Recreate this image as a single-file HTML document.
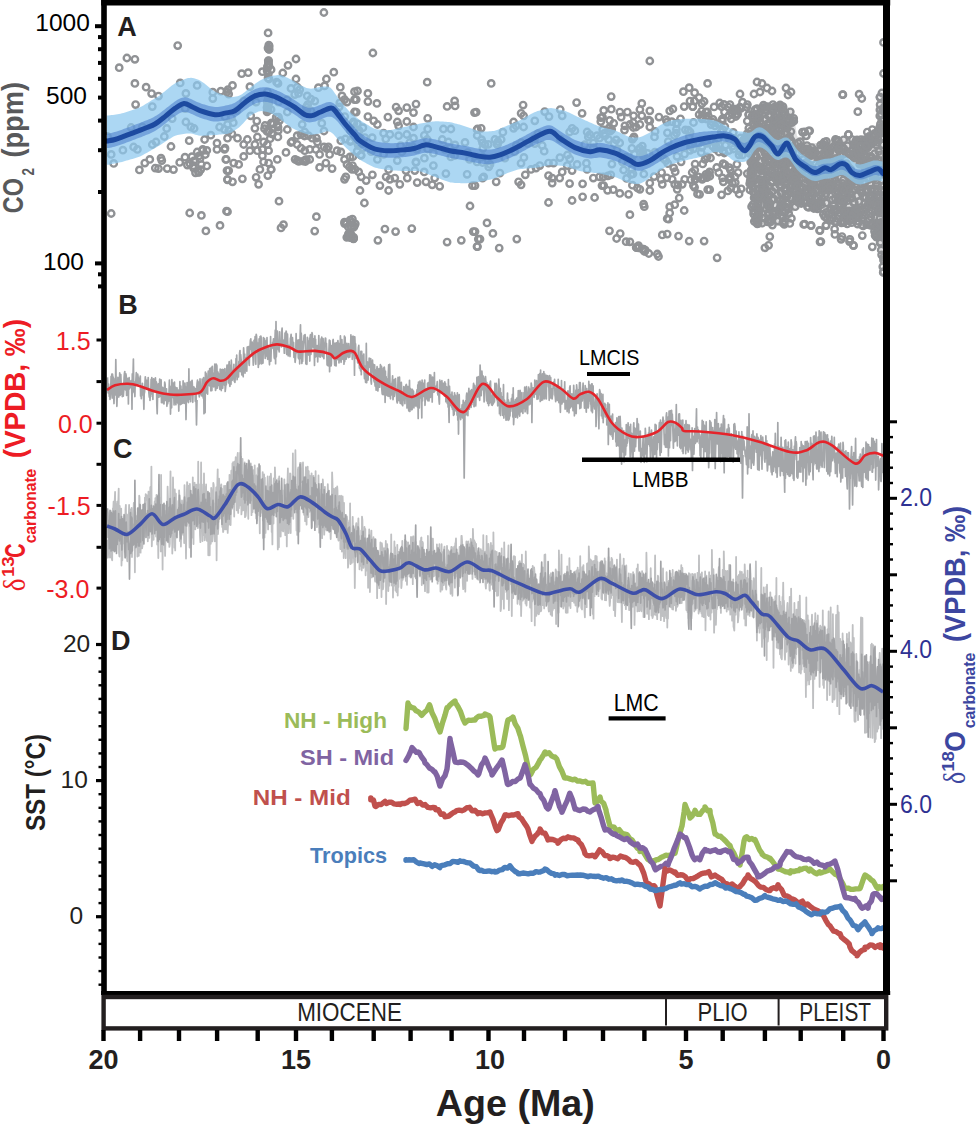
<!DOCTYPE html><html><head><meta charset="utf-8"><style>html,body{margin:0;padding:0;background:#fff;overflow:hidden}</style></head><body><svg width="976" height="1124" viewBox="0 0 976 1124" style="display:block;font-family:'Liberation Sans', sans-serif">
<rect width="976" height="1124" fill="#fff"/>
<path d="M753,108 L758,104 L768,103 L778,104 L786,106 L793,110 L797,136 L805,143 L818,143 L830,140 L840,138 L850,138 L862,136 L870,136 L875,131 L879,118 L880,92 L885,92 L885,273 L883,273 L879,248 L874,232 L862,226 L850,224 L838,224 L828,222 L820,212 L811,208 L800,205 L793,212 L790,224 L778,226 L764,226 L753,224 L750,190 L748,150 Z" fill="#9a9b9e" fill-opacity="0.3"/>
<g fill="none" stroke="#909295" stroke-width="2.4">
<circle cx="177.7" cy="45.6" r="3.2"/>
<circle cx="126.9" cy="58.0" r="3.2"/>
<circle cx="134.9" cy="59.3" r="3.2"/>
<circle cx="119.2" cy="67.7" r="3.2"/>
<circle cx="134.9" cy="83.4" r="3.2"/>
<circle cx="146.1" cy="87.2" r="3.2"/>
<circle cx="151.6" cy="93.6" r="3.2"/>
<circle cx="158.5" cy="96.1" r="3.2"/>
<circle cx="180.2" cy="82.9" r="3.2"/>
<circle cx="197.1" cy="85.4" r="3.2"/>
<circle cx="185.9" cy="93.4" r="3.2"/>
<circle cx="212.8" cy="92.2" r="3.2"/>
<circle cx="220.8" cy="91.2" r="3.2"/>
<circle cx="227.0" cy="92.2" r="3.2"/>
<circle cx="212.8" cy="98.6" r="3.2"/>
<circle cx="135.6" cy="104.6" r="3.2"/>
<circle cx="152.3" cy="106.6" r="3.2"/>
<circle cx="185.2" cy="108.6" r="3.2"/>
<circle cx="172.2" cy="118.6" r="3.2"/>
<circle cx="185.9" cy="122.0" r="3.2"/>
<circle cx="190.9" cy="127.0" r="3.2"/>
<circle cx="194.1" cy="128.5" r="3.2"/>
<circle cx="166.7" cy="128.5" r="3.2"/>
<circle cx="131.1" cy="127.5" r="3.2"/>
<circle cx="142.3" cy="127.0" r="3.2"/>
<circle cx="219.6" cy="127.0" r="3.2"/>
<circle cx="224.5" cy="129.5" r="3.2"/>
<circle cx="164.3" cy="136.5" r="3.2"/>
<circle cx="156.0" cy="142.0" r="3.2"/>
<circle cx="152.3" cy="144.5" r="3.2"/>
<circle cx="133.6" cy="147.0" r="3.2"/>
<circle cx="137.4" cy="149.4" r="3.2"/>
<circle cx="122.9" cy="150.2" r="3.2"/>
<circle cx="111.2" cy="154.4" r="3.2"/>
<circle cx="113.7" cy="163.4" r="3.2"/>
<circle cx="107.5" cy="136.5" r="3.2"/>
<circle cx="171.0" cy="146.5" r="3.2"/>
<circle cx="189.2" cy="140.7" r="3.2"/>
<circle cx="204.6" cy="139.5" r="3.2"/>
<circle cx="210.8" cy="135.2" r="3.2"/>
<circle cx="217.0" cy="143.2" r="3.2"/>
<circle cx="217.0" cy="149.4" r="3.2"/>
<circle cx="224.5" cy="149.4" r="3.2"/>
<circle cx="161.0" cy="158.2" r="3.2"/>
<circle cx="161.8" cy="160.6" r="3.2"/>
<circle cx="149.8" cy="159.4" r="3.2"/>
<circle cx="144.8" cy="163.1" r="3.2"/>
<circle cx="139.4" cy="169.9" r="3.2"/>
<circle cx="155.3" cy="168.1" r="3.2"/>
<circle cx="158.5" cy="168.6" r="3.2"/>
<circle cx="167.2" cy="168.6" r="3.2"/>
<circle cx="173.5" cy="169.6" r="3.2"/>
<circle cx="179.7" cy="162.4" r="3.2"/>
<circle cx="225.8" cy="159.4" r="3.2"/>
<circle cx="227.0" cy="170.6" r="3.2"/>
<circle cx="227.5" cy="179.8" r="3.2"/>
<circle cx="111.2" cy="213.5" r="3.2"/>
<circle cx="189.7" cy="213.0" r="3.2"/>
<circle cx="201.4" cy="215.4" r="3.2"/>
<circle cx="205.9" cy="230.9" r="3.2"/>
<circle cx="220.0" cy="225.4" r="3.2"/>
<circle cx="226.5" cy="211.2" r="3.2"/>
<circle cx="323.9" cy="12.5" r="3.2"/>
<circle cx="268.1" cy="32.9" r="3.2"/>
<circle cx="262.4" cy="71.7" r="3.2"/>
<circle cx="271.1" cy="69.7" r="3.2"/>
<circle cx="296.0" cy="59.0" r="3.2"/>
<circle cx="288.0" cy="65.3" r="3.2"/>
<circle cx="282.8" cy="73.0" r="3.2"/>
<circle cx="241.7" cy="73.7" r="3.2"/>
<circle cx="248.2" cy="72.7" r="3.2"/>
<circle cx="232.5" cy="85.4" r="3.2"/>
<circle cx="228.0" cy="89.7" r="3.2"/>
<circle cx="228.7" cy="94.1" r="3.2"/>
<circle cx="249.9" cy="86.7" r="3.2"/>
<circle cx="276.6" cy="82.2" r="3.2"/>
<circle cx="278.0" cy="83.4" r="3.2"/>
<circle cx="296.0" cy="79.0" r="3.2"/>
<circle cx="291.0" cy="88.4" r="3.2"/>
<circle cx="297.2" cy="87.2" r="3.2"/>
<circle cx="299.7" cy="89.7" r="3.2"/>
<circle cx="298.5" cy="93.4" r="3.2"/>
<circle cx="294.7" cy="94.6" r="3.2"/>
<circle cx="307.2" cy="95.9" r="3.2"/>
<circle cx="310.9" cy="99.1" r="3.2"/>
<circle cx="318.4" cy="87.7" r="3.2"/>
<circle cx="324.6" cy="85.9" r="3.2"/>
<circle cx="326.4" cy="79.0" r="3.2"/>
<circle cx="333.8" cy="72.2" r="3.2"/>
<circle cx="340.3" cy="87.2" r="3.2"/>
<circle cx="342.0" cy="95.9" r="3.2"/>
<circle cx="344.5" cy="99.6" r="3.2"/>
<circle cx="347.0" cy="102.1" r="3.2"/>
<circle cx="354.5" cy="91.7" r="3.2"/>
<circle cx="354.5" cy="99.6" r="3.2"/>
<circle cx="354.5" cy="112.0" r="3.2"/>
<circle cx="353.3" cy="122.0" r="3.2"/>
<circle cx="243.7" cy="100.9" r="3.2"/>
<circle cx="256.1" cy="102.1" r="3.2"/>
<circle cx="287.3" cy="99.6" r="3.2"/>
<circle cx="267.3" cy="107.1" r="3.2"/>
<circle cx="271.1" cy="109.6" r="3.2"/>
<circle cx="278.5" cy="102.1" r="3.2"/>
<circle cx="287.3" cy="112.0" r="3.2"/>
<circle cx="250.7" cy="115.8" r="3.2"/>
<circle cx="278.5" cy="117.1" r="3.2"/>
<circle cx="307.2" cy="109.6" r="3.2"/>
<circle cx="310.9" cy="110.8" r="3.2"/>
<circle cx="302.2" cy="124.5" r="3.2"/>
<circle cx="225.0" cy="117.0" r="3.2"/>
<circle cx="227.5" cy="124.5" r="3.2"/>
<circle cx="228.7" cy="130.8" r="3.2"/>
<circle cx="254.9" cy="128.3" r="3.2"/>
<circle cx="287.3" cy="129.5" r="3.2"/>
<circle cx="297.2" cy="135.7" r="3.2"/>
<circle cx="301.0" cy="134.5" r="3.2"/>
<circle cx="304.7" cy="132.0" r="3.2"/>
<circle cx="308.4" cy="135.7" r="3.2"/>
<circle cx="312.2" cy="138.2" r="3.2"/>
<circle cx="227.5" cy="138.2" r="3.2"/>
<circle cx="237.5" cy="138.2" r="3.2"/>
<circle cx="247.4" cy="139.5" r="3.2"/>
<circle cx="257.4" cy="137.0" r="3.2"/>
<circle cx="243.7" cy="144.5" r="3.2"/>
<circle cx="254.9" cy="144.5" r="3.2"/>
<circle cx="263.6" cy="142.0" r="3.2"/>
<circle cx="267.3" cy="144.5" r="3.2"/>
<circle cx="291.0" cy="142.5" r="3.2"/>
<circle cx="297.2" cy="144.5" r="3.2"/>
<circle cx="301.0" cy="148.2" r="3.2"/>
<circle cx="304.7" cy="150.7" r="3.2"/>
<circle cx="309.7" cy="149.4" r="3.2"/>
<circle cx="315.9" cy="149.4" r="3.2"/>
<circle cx="319.6" cy="154.4" r="3.2"/>
<circle cx="340.8" cy="140.7" r="3.2"/>
<circle cx="225.0" cy="148.2" r="3.2"/>
<circle cx="249.9" cy="150.7" r="3.2"/>
<circle cx="257.4" cy="150.7" r="3.2"/>
<circle cx="262.4" cy="149.4" r="3.2"/>
<circle cx="268.6" cy="150.7" r="3.2"/>
<circle cx="286.0" cy="152.4" r="3.2"/>
<circle cx="329.6" cy="154.4" r="3.2"/>
<circle cx="337.1" cy="150.7" r="3.2"/>
<circle cx="340.8" cy="151.9" r="3.2"/>
<circle cx="243.7" cy="156.4" r="3.2"/>
<circle cx="226.2" cy="159.4" r="3.2"/>
<circle cx="233.7" cy="163.1" r="3.2"/>
<circle cx="238.7" cy="164.4" r="3.2"/>
<circle cx="262.4" cy="155.7" r="3.2"/>
<circle cx="263.6" cy="161.9" r="3.2"/>
<circle cx="268.6" cy="163.1" r="3.2"/>
<circle cx="271.1" cy="169.4" r="3.2"/>
<circle cx="277.3" cy="159.4" r="3.2"/>
<circle cx="325.9" cy="163.1" r="3.2"/>
<circle cx="319.6" cy="167.4" r="3.2"/>
<circle cx="332.1" cy="168.6" r="3.2"/>
<circle cx="344.5" cy="159.4" r="3.2"/>
<circle cx="347.0" cy="164.4" r="3.2"/>
<circle cx="349.5" cy="166.9" r="3.2"/>
<circle cx="352.0" cy="169.4" r="3.2"/>
<circle cx="228.7" cy="170.6" r="3.2"/>
<circle cx="227.5" cy="179.3" r="3.2"/>
<circle cx="232.5" cy="181.8" r="3.2"/>
<circle cx="259.9" cy="169.4" r="3.2"/>
<circle cx="256.1" cy="177.3" r="3.2"/>
<circle cx="258.6" cy="184.3" r="3.2"/>
<circle cx="267.8" cy="175.6" r="3.2"/>
<circle cx="271.1" cy="169.4" r="3.2"/>
<circle cx="242.4" cy="178.8" r="3.2"/>
<circle cx="344.5" cy="179.3" r="3.2"/>
<circle cx="345.8" cy="176.8" r="3.2"/>
<circle cx="279.0" cy="201.2" r="3.2"/>
<circle cx="227.5" cy="211.7" r="3.2"/>
<circle cx="281.0" cy="227.9" r="3.2"/>
<circle cx="283.5" cy="224.7" r="3.2"/>
<circle cx="316.4" cy="216.7" r="3.2"/>
<circle cx="314.7" cy="231.1" r="3.2"/>
<circle cx="372.9" cy="53.0" r="3.2"/>
<circle cx="427.2" cy="82.2" r="3.2"/>
<circle cx="357.5" cy="90.9" r="3.2"/>
<circle cx="367.9" cy="93.4" r="3.2"/>
<circle cx="356.2" cy="99.6" r="3.2"/>
<circle cx="367.9" cy="101.6" r="3.2"/>
<circle cx="376.9" cy="103.4" r="3.2"/>
<circle cx="396.1" cy="107.1" r="3.2"/>
<circle cx="398.6" cy="110.8" r="3.2"/>
<circle cx="406.8" cy="107.6" r="3.2"/>
<circle cx="416.0" cy="104.1" r="3.2"/>
<circle cx="413.5" cy="112.6" r="3.2"/>
<circle cx="447.1" cy="106.4" r="3.2"/>
<circle cx="454.6" cy="100.9" r="3.2"/>
<circle cx="455.1" cy="105.9" r="3.2"/>
<circle cx="474.5" cy="112.6" r="3.2"/>
<circle cx="356.2" cy="112.1" r="3.2"/>
<circle cx="367.9" cy="116.6" r="3.2"/>
<circle cx="373.7" cy="120.8" r="3.2"/>
<circle cx="377.4" cy="124.5" r="3.2"/>
<circle cx="387.9" cy="117.1" r="3.2"/>
<circle cx="397.3" cy="122.0" r="3.2"/>
<circle cx="398.6" cy="125.8" r="3.2"/>
<circle cx="406.8" cy="121.5" r="3.2"/>
<circle cx="413.5" cy="127.0" r="3.2"/>
<circle cx="427.7" cy="118.3" r="3.2"/>
<circle cx="427.7" cy="129.0" r="3.2"/>
<circle cx="443.4" cy="129.0" r="3.2"/>
<circle cx="450.9" cy="129.0" r="3.2"/>
<circle cx="477.0" cy="129.5" r="3.2"/>
<circle cx="383.6" cy="133.2" r="3.2"/>
<circle cx="389.9" cy="134.5" r="3.2"/>
<circle cx="398.6" cy="135.7" r="3.2"/>
<circle cx="406.8" cy="134.5" r="3.2"/>
<circle cx="413.5" cy="138.2" r="3.2"/>
<circle cx="442.2" cy="139.5" r="3.2"/>
<circle cx="448.4" cy="142.0" r="3.2"/>
<circle cx="427.2" cy="139.5" r="3.2"/>
<circle cx="371.2" cy="149.4" r="3.2"/>
<circle cx="377.4" cy="159.4" r="3.2"/>
<circle cx="383.6" cy="154.4" r="3.2"/>
<circle cx="397.3" cy="160.6" r="3.2"/>
<circle cx="416.0" cy="161.9" r="3.2"/>
<circle cx="433.4" cy="153.2" r="3.2"/>
<circle cx="450.9" cy="156.9" r="3.2"/>
<circle cx="454.6" cy="155.7" r="3.2"/>
<circle cx="469.5" cy="159.4" r="3.2"/>
<circle cx="477.0" cy="161.9" r="3.2"/>
<circle cx="350.0" cy="156.9" r="3.2"/>
<circle cx="352.5" cy="165.6" r="3.2"/>
<circle cx="355.0" cy="169.4" r="3.2"/>
<circle cx="358.7" cy="171.9" r="3.2"/>
<circle cx="361.2" cy="176.8" r="3.2"/>
<circle cx="366.2" cy="180.6" r="3.2"/>
<circle cx="372.4" cy="174.8" r="3.2"/>
<circle cx="388.6" cy="169.4" r="3.2"/>
<circle cx="386.1" cy="176.8" r="3.2"/>
<circle cx="389.9" cy="179.3" r="3.2"/>
<circle cx="394.8" cy="178.1" r="3.2"/>
<circle cx="399.8" cy="184.3" r="3.2"/>
<circle cx="379.9" cy="185.6" r="3.2"/>
<circle cx="406.0" cy="170.6" r="3.2"/>
<circle cx="407.3" cy="178.1" r="3.2"/>
<circle cx="414.8" cy="170.6" r="3.2"/>
<circle cx="416.0" cy="162.4" r="3.2"/>
<circle cx="424.2" cy="171.9" r="3.2"/>
<circle cx="417.2" cy="182.6" r="3.2"/>
<circle cx="426.0" cy="181.8" r="3.2"/>
<circle cx="433.4" cy="165.6" r="3.2"/>
<circle cx="434.7" cy="178.1" r="3.2"/>
<circle cx="432.2" cy="184.8" r="3.2"/>
<circle cx="439.7" cy="186.3" r="3.2"/>
<circle cx="445.9" cy="173.6" r="3.2"/>
<circle cx="467.1" cy="174.3" r="3.2"/>
<circle cx="472.5" cy="185.6" r="3.2"/>
<circle cx="360.0" cy="190.5" r="3.2"/>
<circle cx="364.4" cy="203.0" r="3.2"/>
<circle cx="388.6" cy="190.5" r="3.2"/>
<circle cx="470.0" cy="206.0" r="3.2"/>
<circle cx="384.9" cy="229.1" r="3.2"/>
<circle cx="395.6" cy="231.6" r="3.2"/>
<circle cx="377.9" cy="240.3" r="3.2"/>
<circle cx="411.8" cy="228.6" r="3.2"/>
<circle cx="447.1" cy="242.1" r="3.2"/>
<circle cx="461.3" cy="240.3" r="3.2"/>
<circle cx="473.3" cy="231.6" r="3.2"/>
<circle cx="477.0" cy="246.6" r="3.2"/>
<circle cx="478.3" cy="239.1" r="3.2"/>
<circle cx="491.2" cy="83.4" r="3.2"/>
<circle cx="523.1" cy="105.1" r="3.2"/>
<circle cx="521.1" cy="113.3" r="3.2"/>
<circle cx="523.6" cy="115.8" r="3.2"/>
<circle cx="476.2" cy="112.1" r="3.2"/>
<circle cx="477.5" cy="129.0" r="3.2"/>
<circle cx="481.2" cy="128.3" r="3.2"/>
<circle cx="513.6" cy="122.0" r="3.2"/>
<circle cx="513.6" cy="128.3" r="3.2"/>
<circle cx="516.1" cy="125.8" r="3.2"/>
<circle cx="523.6" cy="127.0" r="3.2"/>
<circle cx="534.8" cy="120.8" r="3.2"/>
<circle cx="544.7" cy="111.6" r="3.2"/>
<circle cx="549.0" cy="116.6" r="3.2"/>
<circle cx="560.2" cy="109.6" r="3.2"/>
<circle cx="562.2" cy="115.8" r="3.2"/>
<circle cx="576.6" cy="102.6" r="3.2"/>
<circle cx="582.1" cy="113.3" r="3.2"/>
<circle cx="600.8" cy="117.6" r="3.2"/>
<circle cx="572.1" cy="128.3" r="3.2"/>
<circle cx="569.6" cy="132.0" r="3.2"/>
<circle cx="587.1" cy="132.0" r="3.2"/>
<circle cx="588.3" cy="137.0" r="3.2"/>
<circle cx="597.0" cy="135.7" r="3.2"/>
<circle cx="599.5" cy="138.2" r="3.2"/>
<circle cx="485.0" cy="144.5" r="3.2"/>
<circle cx="494.9" cy="139.5" r="3.2"/>
<circle cx="501.2" cy="139.5" r="3.2"/>
<circle cx="497.4" cy="144.5" r="3.2"/>
<circle cx="504.9" cy="158.2" r="3.2"/>
<circle cx="482.5" cy="157.0" r="3.2"/>
<circle cx="490.0" cy="164.4" r="3.2"/>
<circle cx="488.7" cy="166.9" r="3.2"/>
<circle cx="548.5" cy="163.1" r="3.2"/>
<circle cx="553.5" cy="163.1" r="3.2"/>
<circle cx="539.8" cy="165.6" r="3.2"/>
<circle cx="536.0" cy="168.1" r="3.2"/>
<circle cx="531.0" cy="169.4" r="3.2"/>
<circle cx="567.2" cy="165.6" r="3.2"/>
<circle cx="572.1" cy="170.6" r="3.2"/>
<circle cx="577.1" cy="164.4" r="3.2"/>
<circle cx="587.1" cy="169.4" r="3.2"/>
<circle cx="593.3" cy="178.1" r="3.2"/>
<circle cx="599.5" cy="176.8" r="3.2"/>
<circle cx="602.0" cy="185.6" r="3.2"/>
<circle cx="483.7" cy="176.8" r="3.2"/>
<circle cx="482.5" cy="178.1" r="3.2"/>
<circle cx="496.2" cy="181.8" r="3.2"/>
<circle cx="499.9" cy="173.1" r="3.2"/>
<circle cx="518.6" cy="181.8" r="3.2"/>
<circle cx="521.1" cy="184.8" r="3.2"/>
<circle cx="525.3" cy="174.8" r="3.2"/>
<circle cx="548.5" cy="175.6" r="3.2"/>
<circle cx="552.2" cy="178.1" r="3.2"/>
<circle cx="552.2" cy="183.1" r="3.2"/>
<circle cx="559.7" cy="178.1" r="3.2"/>
<circle cx="562.2" cy="171.9" r="3.2"/>
<circle cx="569.6" cy="183.6" r="3.2"/>
<circle cx="582.6" cy="183.8" r="3.2"/>
<circle cx="475.0" cy="185.6" r="3.2"/>
<circle cx="548.5" cy="202.5" r="3.2"/>
<circle cx="572.1" cy="200.5" r="3.2"/>
<circle cx="582.6" cy="196.8" r="3.2"/>
<circle cx="594.6" cy="197.5" r="3.2"/>
<circle cx="487.0" cy="222.9" r="3.2"/>
<circle cx="475.0" cy="231.6" r="3.2"/>
<circle cx="480.0" cy="239.1" r="3.2"/>
<circle cx="477.5" cy="246.6" r="3.2"/>
<circle cx="492.9" cy="233.4" r="3.2"/>
<circle cx="499.2" cy="248.1" r="3.2"/>
<circle cx="516.8" cy="239.1" r="3.2"/>
<circle cx="649.8" cy="61.0" r="3.2"/>
<circle cx="611.2" cy="96.6" r="3.2"/>
<circle cx="707.6" cy="83.4" r="3.2"/>
<circle cx="683.4" cy="91.7" r="3.2"/>
<circle cx="689.2" cy="87.7" r="3.2"/>
<circle cx="694.6" cy="92.7" r="3.2"/>
<circle cx="699.1" cy="97.6" r="3.2"/>
<circle cx="641.8" cy="103.4" r="3.2"/>
<circle cx="639.9" cy="109.6" r="3.2"/>
<circle cx="641.8" cy="115.8" r="3.2"/>
<circle cx="649.8" cy="110.8" r="3.2"/>
<circle cx="619.9" cy="112.1" r="3.2"/>
<circle cx="627.4" cy="112.1" r="3.2"/>
<circle cx="621.2" cy="117.1" r="3.2"/>
<circle cx="602.5" cy="117.1" r="3.2"/>
<circle cx="633.6" cy="115.8" r="3.2"/>
<circle cx="659.0" cy="117.1" r="3.2"/>
<circle cx="669.7" cy="110.8" r="3.2"/>
<circle cx="666.0" cy="119.6" r="3.2"/>
<circle cx="684.2" cy="106.6" r="3.2"/>
<circle cx="692.7" cy="106.6" r="3.2"/>
<circle cx="699.1" cy="114.6" r="3.2"/>
<circle cx="705.9" cy="112.1" r="3.2"/>
<circle cx="708.3" cy="115.8" r="3.2"/>
<circle cx="721.5" cy="106.6" r="3.2"/>
<circle cx="724.5" cy="112.1" r="3.2"/>
<circle cx="728.3" cy="107.1" r="3.2"/>
<circle cx="613.7" cy="123.3" r="3.2"/>
<circle cx="624.9" cy="125.8" r="3.2"/>
<circle cx="629.9" cy="124.5" r="3.2"/>
<circle cx="636.1" cy="127.0" r="3.2"/>
<circle cx="639.9" cy="124.5" r="3.2"/>
<circle cx="649.8" cy="120.8" r="3.2"/>
<circle cx="649.8" cy="127.0" r="3.2"/>
<circle cx="603.7" cy="185.6" r="3.2"/>
<circle cx="628.6" cy="194.3" r="3.2"/>
<circle cx="637.4" cy="188.0" r="3.2"/>
<circle cx="639.9" cy="189.3" r="3.2"/>
<circle cx="649.8" cy="190.5" r="3.2"/>
<circle cx="649.8" cy="183.1" r="3.2"/>
<circle cx="661.0" cy="179.3" r="3.2"/>
<circle cx="662.3" cy="184.3" r="3.2"/>
<circle cx="672.2" cy="179.3" r="3.2"/>
<circle cx="674.7" cy="184.3" r="3.2"/>
<circle cx="677.2" cy="189.3" r="3.2"/>
<circle cx="679.2" cy="198.0" r="3.2"/>
<circle cx="682.2" cy="184.3" r="3.2"/>
<circle cx="684.7" cy="179.3" r="3.2"/>
<circle cx="693.4" cy="185.6" r="3.2"/>
<circle cx="699.6" cy="194.3" r="3.2"/>
<circle cx="705.9" cy="174.3" r="3.2"/>
<circle cx="698.4" cy="176.8" r="3.2"/>
<circle cx="723.3" cy="181.8" r="3.2"/>
<circle cx="729.5" cy="179.3" r="3.2"/>
<circle cx="643.6" cy="204.2" r="3.2"/>
<circle cx="644.3" cy="206.7" r="3.2"/>
<circle cx="629.9" cy="214.7" r="3.2"/>
<circle cx="669.7" cy="206.7" r="3.2"/>
<circle cx="674.7" cy="204.7" r="3.2"/>
<circle cx="669.7" cy="213.0" r="3.2"/>
<circle cx="668.5" cy="219.2" r="3.2"/>
<circle cx="667.2" cy="218.7" r="3.2"/>
<circle cx="684.2" cy="210.5" r="3.2"/>
<circle cx="657.3" cy="254.0" r="3.2"/>
<circle cx="658.5" cy="256.5" r="3.2"/>
<circle cx="662.3" cy="234.9" r="3.2"/>
<circle cx="667.2" cy="234.1" r="3.2"/>
<circle cx="678.5" cy="236.1" r="3.2"/>
<circle cx="689.2" cy="241.1" r="3.2"/>
<circle cx="704.1" cy="241.1" r="3.2"/>
<circle cx="717.1" cy="257.8" r="3.2"/>
<circle cx="740.0" cy="94.0" r="3.2"/>
<circle cx="757.0" cy="82.0" r="3.2"/>
<circle cx="762.0" cy="83.5" r="3.2"/>
<circle cx="767.0" cy="88.0" r="3.2"/>
<circle cx="772.0" cy="91.0" r="3.2"/>
<circle cx="760.0" cy="92.0" r="3.2"/>
<circle cx="754.0" cy="94.0" r="3.2"/>
<circle cx="786.0" cy="88.0" r="3.2"/>
<circle cx="788.0" cy="95.0" r="3.2"/>
<circle cx="791.0" cy="92.0" r="3.2"/>
<circle cx="842.6" cy="94.6" r="3.2"/>
<circle cx="804.7" cy="132.0" r="3.2"/>
<circle cx="809.7" cy="130.8" r="3.2"/>
<circle cx="806.0" cy="135.7" r="3.2"/>
<circle cx="848.3" cy="134.5" r="3.2"/>
<circle cx="730.0" cy="104.6" r="3.2"/>
<circle cx="740.0" cy="107.1" r="3.2"/>
<circle cx="747.4" cy="104.6" r="3.2"/>
<circle cx="764.9" cy="247.8" r="3.2"/>
<circle cx="768.6" cy="245.3" r="3.2"/>
<circle cx="769.8" cy="236.6" r="3.2"/>
<circle cx="820.9" cy="241.6" r="3.2"/>
<circle cx="804.7" cy="224.2" r="3.2"/>
<circle cx="810.9" cy="225.4" r="3.2"/>
<circle cx="819.6" cy="230.4" r="3.2"/>
<circle cx="825.9" cy="225.4" r="3.2"/>
<circle cx="834.6" cy="229.1" r="3.2"/>
<circle cx="842.0" cy="236.6" r="3.2"/>
<circle cx="849.5" cy="241.6" r="3.2"/>
<circle cx="853.3" cy="245.3" r="3.2"/>
<circle cx="741.2" cy="188.8" r="3.2"/>
<circle cx="749.9" cy="189.8" r="3.2"/>
<circle cx="754.9" cy="193.0" r="3.2"/>
<circle cx="728.7" cy="179.3" r="3.2"/>
<circle cx="732.5" cy="183.1" r="3.2"/>
<circle cx="735.0" cy="176.8" r="3.2"/>
<circle cx="842.9" cy="94.7" r="3.2"/>
<circle cx="859.1" cy="94.2" r="3.2"/>
<circle cx="861.8" cy="98.5" r="3.2"/>
<circle cx="857.8" cy="111.7" r="3.2"/>
<circle cx="883.5" cy="42.4" r="3.2"/>
<circle cx="883.5" cy="73.5" r="3.2"/>
<circle cx="879.8" cy="115.9" r="3.2"/>
<circle cx="802.5" cy="132.1" r="3.2"/>
<circle cx="808.7" cy="130.9" r="3.2"/>
<circle cx="806.2" cy="135.9" r="3.2"/>
<circle cx="848.6" cy="134.6" r="3.2"/>
<circle cx="852.4" cy="139.6" r="3.2"/>
<circle cx="853.6" cy="144.6" r="3.2"/>
<circle cx="861.0" cy="139.6" r="3.2"/>
<circle cx="867.3" cy="132.1" r="3.2"/>
<circle cx="872.3" cy="129.6" r="3.2"/>
<circle cx="872.3" cy="135.9" r="3.2"/>
<circle cx="866.0" cy="139.6" r="3.2"/>
<circle cx="858.6" cy="149.6" r="3.2"/>
<circle cx="803.7" cy="224.4" r="3.2"/>
<circle cx="811.2" cy="225.6" r="3.2"/>
<circle cx="820.0" cy="230.6" r="3.2"/>
<circle cx="826.2" cy="225.6" r="3.2"/>
<circle cx="820.0" cy="241.8" r="3.2"/>
<circle cx="834.9" cy="234.4" r="3.2"/>
<circle cx="841.1" cy="239.3" r="3.2"/>
<circle cx="849.9" cy="239.3" r="3.2"/>
<circle cx="853.6" cy="245.6" r="3.2"/>
<circle cx="862.3" cy="235.6" r="3.2"/>
<circle cx="872.3" cy="246.8" r="3.2"/>
<circle cx="829.9" cy="219.4" r="3.2"/>
<circle cx="834.9" cy="211.9" r="3.2"/>
<circle cx="269.0" cy="99.1" r="3.2"/>
<circle cx="268.3" cy="64.1" r="3.2"/>
<circle cx="267.1" cy="70.7" r="3.2"/>
<circle cx="268.0" cy="48.0" r="3.2"/>
<circle cx="267.1" cy="111.9" r="3.2"/>
<circle cx="268.6" cy="60.7" r="3.2"/>
<circle cx="268.1" cy="110.3" r="3.2"/>
<circle cx="269.2" cy="101.6" r="3.2"/>
<circle cx="268.0" cy="78.0" r="3.2"/>
<circle cx="268.7" cy="49.1" r="3.2"/>
<circle cx="268.4" cy="63.2" r="3.2"/>
<circle cx="269.2" cy="49.3" r="3.2"/>
<circle cx="268.7" cy="103.3" r="3.2"/>
<circle cx="267.6" cy="105.0" r="3.2"/>
<circle cx="269.2" cy="46.2" r="3.2"/>
<circle cx="268.8" cy="45.1" r="3.2"/>
<circle cx="268.3" cy="74.3" r="3.2"/>
<circle cx="267.5" cy="66.8" r="3.2"/>
<circle cx="269.0" cy="66.2" r="3.2"/>
<circle cx="267.4" cy="91.8" r="3.2"/>
<circle cx="268.1" cy="98.5" r="3.2"/>
<circle cx="267.6" cy="66.4" r="3.2"/>
<circle cx="269.0" cy="79.0" r="3.2"/>
<circle cx="268.3" cy="60.8" r="3.2"/>
<circle cx="267.0" cy="107.5" r="3.2"/>
<circle cx="267.2" cy="101.6" r="3.2"/>
<circle cx="267.9" cy="108.7" r="3.2"/>
<circle cx="268.0" cy="107.7" r="3.2"/>
<circle cx="197.2" cy="152.0" r="3.2"/>
<circle cx="201.3" cy="164.6" r="3.2"/>
<circle cx="200.1" cy="158.5" r="3.2"/>
<circle cx="189.9" cy="163.6" r="3.2"/>
<circle cx="187.4" cy="165.1" r="3.2"/>
<circle cx="199.0" cy="155.9" r="3.2"/>
<circle cx="202.6" cy="150.6" r="3.2"/>
<circle cx="193.6" cy="168.1" r="3.2"/>
<circle cx="193.4" cy="165.7" r="3.2"/>
<circle cx="198.5" cy="172.3" r="3.2"/>
<circle cx="206.8" cy="166.0" r="3.2"/>
<circle cx="202.8" cy="149.4" r="3.2"/>
<circle cx="200.7" cy="169.6" r="3.2"/>
<circle cx="193.8" cy="161.0" r="3.2"/>
<circle cx="195.5" cy="172.8" r="3.2"/>
<circle cx="192.0" cy="156.7" r="3.2"/>
<circle cx="185.0" cy="157.2" r="3.2"/>
<circle cx="198.9" cy="172.1" r="3.2"/>
<circle cx="205.3" cy="154.5" r="3.2"/>
<circle cx="206.8" cy="150.4" r="3.2"/>
<circle cx="277.3" cy="124.8" r="3.2"/>
<circle cx="271.1" cy="123.3" r="3.2"/>
<circle cx="277.9" cy="136.9" r="3.2"/>
<circle cx="267.1" cy="131.5" r="3.2"/>
<circle cx="268.9" cy="130.9" r="3.2"/>
<circle cx="273.3" cy="123.9" r="3.2"/>
<circle cx="278.0" cy="127.0" r="3.2"/>
<circle cx="271.7" cy="123.0" r="3.2"/>
<circle cx="265.0" cy="125.5" r="3.2"/>
<circle cx="270.1" cy="138.7" r="3.2"/>
<circle cx="278.3" cy="130.6" r="3.2"/>
<circle cx="271.8" cy="134.0" r="3.2"/>
<circle cx="354.3" cy="226.1" r="3.2"/>
<circle cx="353.5" cy="227.4" r="3.2"/>
<circle cx="351.1" cy="234.5" r="3.2"/>
<circle cx="350.0" cy="233.5" r="3.2"/>
<circle cx="352.4" cy="219.1" r="3.2"/>
<circle cx="344.5" cy="222.1" r="3.2"/>
<circle cx="346.6" cy="223.3" r="3.2"/>
<circle cx="344.6" cy="223.6" r="3.2"/>
<circle cx="351.2" cy="237.6" r="3.2"/>
<circle cx="348.2" cy="226.7" r="3.2"/>
<circle cx="349.0" cy="233.3" r="3.2"/>
<circle cx="353.4" cy="238.8" r="3.2"/>
<circle cx="348.5" cy="233.8" r="3.2"/>
<circle cx="348.1" cy="236.3" r="3.2"/>
<circle cx="346.8" cy="237.3" r="3.2"/>
<circle cx="350.1" cy="234.2" r="3.2"/>
<circle cx="358.0" cy="133.1" r="3.2"/>
<circle cx="357.4" cy="123.8" r="3.2"/>
<circle cx="350.6" cy="140.5" r="3.2"/>
<circle cx="357.2" cy="151.2" r="3.2"/>
<circle cx="350.3" cy="141.5" r="3.2"/>
<circle cx="357.4" cy="142.9" r="3.2"/>
<circle cx="360.9" cy="140.4" r="3.2"/>
<circle cx="358.4" cy="139.2" r="3.2"/>
<circle cx="359.2" cy="130.7" r="3.2"/>
<circle cx="358.3" cy="145.5" r="3.2"/>
<circle cx="352.9" cy="156.7" r="3.2"/>
<circle cx="361.2" cy="155.4" r="3.2"/>
<circle cx="354.4" cy="137.5" r="3.2"/>
<circle cx="353.9" cy="123.6" r="3.2"/>
<circle cx="350.3" cy="130.6" r="3.2"/>
<circle cx="362.9" cy="127.7" r="3.2"/>
<circle cx="305.7" cy="159.7" r="3.2"/>
<circle cx="295.1" cy="159.3" r="3.2"/>
<circle cx="305.5" cy="161.5" r="3.2"/>
<circle cx="303.3" cy="161.2" r="3.2"/>
<circle cx="298.7" cy="161.4" r="3.2"/>
<circle cx="309.7" cy="159.4" r="3.2"/>
<circle cx="306.5" cy="159.8" r="3.2"/>
<circle cx="297.3" cy="160.3" r="3.2"/>
<circle cx="350.6" cy="237.7" r="3.2"/>
<circle cx="352.2" cy="222.5" r="3.2"/>
<circle cx="350.0" cy="220.2" r="3.2"/>
<circle cx="351.3" cy="227.4" r="3.2"/>
<circle cx="353.6" cy="238.6" r="3.2"/>
<circle cx="355.3" cy="223.8" r="3.2"/>
<circle cx="353.7" cy="237.4" r="3.2"/>
<circle cx="350.6" cy="236.1" r="3.2"/>
<circle cx="523.9" cy="157.4" r="3.2"/>
<circle cx="514.6" cy="151.9" r="3.2"/>
<circle cx="537.9" cy="133.7" r="3.2"/>
<circle cx="569.7" cy="158.8" r="3.2"/>
<circle cx="534.9" cy="143.6" r="3.2"/>
<circle cx="593.4" cy="143.1" r="3.2"/>
<circle cx="584.8" cy="144.7" r="3.2"/>
<circle cx="521.1" cy="142.6" r="3.2"/>
<circle cx="481.6" cy="139.7" r="3.2"/>
<circle cx="502.9" cy="132.2" r="3.2"/>
<circle cx="542.2" cy="145.5" r="3.2"/>
<circle cx="477.2" cy="135.5" r="3.2"/>
<circle cx="589.8" cy="134.7" r="3.2"/>
<circle cx="521.0" cy="163.3" r="3.2"/>
<circle cx="488.3" cy="144.3" r="3.2"/>
<circle cx="574.9" cy="130.7" r="3.2"/>
<circle cx="482.5" cy="162.5" r="3.2"/>
<circle cx="560.2" cy="139.1" r="3.2"/>
<circle cx="534.5" cy="138.7" r="3.2"/>
<circle cx="586.4" cy="163.2" r="3.2"/>
<circle cx="482.9" cy="148.3" r="3.2"/>
<circle cx="497.2" cy="144.2" r="3.2"/>
<circle cx="567.4" cy="155.0" r="3.2"/>
<circle cx="497.9" cy="141.6" r="3.2"/>
<circle cx="527.6" cy="143.5" r="3.2"/>
<circle cx="559.9" cy="157.6" r="3.2"/>
<circle cx="516.3" cy="145.4" r="3.2"/>
<circle cx="482.5" cy="142.8" r="3.2"/>
<circle cx="593.3" cy="147.6" r="3.2"/>
<circle cx="544.2" cy="151.2" r="3.2"/>
<circle cx="673.7" cy="167.9" r="3.2"/>
<circle cx="633.7" cy="137.6" r="3.2"/>
<circle cx="715.3" cy="149.0" r="3.2"/>
<circle cx="724.8" cy="126.6" r="3.2"/>
<circle cx="701.8" cy="147.3" r="3.2"/>
<circle cx="661.6" cy="172.6" r="3.2"/>
<circle cx="617.0" cy="149.9" r="3.2"/>
<circle cx="632.4" cy="139.3" r="3.2"/>
<circle cx="706.3" cy="142.7" r="3.2"/>
<circle cx="702.0" cy="118.8" r="3.2"/>
<circle cx="729.9" cy="177.2" r="3.2"/>
<circle cx="688.2" cy="130.2" r="3.2"/>
<circle cx="685.4" cy="129.8" r="3.2"/>
<circle cx="648.5" cy="120.2" r="3.2"/>
<circle cx="609.1" cy="127.8" r="3.2"/>
<circle cx="623.6" cy="170.0" r="3.2"/>
<circle cx="631.7" cy="169.2" r="3.2"/>
<circle cx="600.8" cy="121.6" r="3.2"/>
<circle cx="607.9" cy="175.8" r="3.2"/>
<circle cx="706.2" cy="119.0" r="3.2"/>
<circle cx="721.1" cy="132.0" r="3.2"/>
<circle cx="634.4" cy="154.2" r="3.2"/>
<circle cx="626.6" cy="178.4" r="3.2"/>
<circle cx="647.6" cy="153.4" r="3.2"/>
<circle cx="674.4" cy="135.5" r="3.2"/>
<circle cx="695.5" cy="179.5" r="3.2"/>
<circle cx="677.4" cy="123.2" r="3.2"/>
<circle cx="705.0" cy="159.3" r="3.2"/>
<circle cx="663.7" cy="158.6" r="3.2"/>
<circle cx="634.0" cy="136.8" r="3.2"/>
<circle cx="667.0" cy="122.2" r="3.2"/>
<circle cx="676.4" cy="129.3" r="3.2"/>
<circle cx="633.0" cy="173.8" r="3.2"/>
<circle cx="676.4" cy="133.1" r="3.2"/>
<circle cx="690.9" cy="179.8" r="3.2"/>
<circle cx="716.7" cy="167.5" r="3.2"/>
<circle cx="643.2" cy="154.2" r="3.2"/>
<circle cx="676.0" cy="123.5" r="3.2"/>
<circle cx="690.0" cy="150.3" r="3.2"/>
<circle cx="667.9" cy="163.7" r="3.2"/>
<circle cx="610.1" cy="131.2" r="3.2"/>
<circle cx="728.4" cy="136.6" r="3.2"/>
<circle cx="633.2" cy="122.5" r="3.2"/>
<circle cx="640.6" cy="152.8" r="3.2"/>
<circle cx="605.1" cy="135.9" r="3.2"/>
<circle cx="633.3" cy="127.5" r="3.2"/>
<circle cx="702.9" cy="177.7" r="3.2"/>
<circle cx="719.0" cy="145.3" r="3.2"/>
<circle cx="608.6" cy="139.6" r="3.2"/>
<circle cx="668.2" cy="141.6" r="3.2"/>
<circle cx="695.1" cy="164.1" r="3.2"/>
<circle cx="716.6" cy="147.1" r="3.2"/>
<circle cx="631.0" cy="174.5" r="3.2"/>
<circle cx="715.0" cy="125.9" r="3.2"/>
<circle cx="627.5" cy="158.9" r="3.2"/>
<circle cx="706.7" cy="177.5" r="3.2"/>
<circle cx="602.7" cy="129.7" r="3.2"/>
<circle cx="655.0" cy="152.2" r="3.2"/>
<circle cx="701.2" cy="152.5" r="3.2"/>
<circle cx="667.4" cy="132.8" r="3.2"/>
<circle cx="684.5" cy="154.1" r="3.2"/>
<circle cx="722.9" cy="129.8" r="3.2"/>
<circle cx="616.2" cy="139.9" r="3.2"/>
<circle cx="642.3" cy="146.1" r="3.2"/>
<circle cx="622.3" cy="161.8" r="3.2"/>
<circle cx="706.9" cy="118.4" r="3.2"/>
<circle cx="718.3" cy="123.6" r="3.2"/>
<circle cx="639.8" cy="148.2" r="3.2"/>
<circle cx="655.1" cy="131.4" r="3.2"/>
<circle cx="694.8" cy="170.0" r="3.2"/>
<circle cx="728.8" cy="115.7" r="3.2"/>
<circle cx="737.6" cy="114.1" r="3.2"/>
<circle cx="750.2" cy="180.9" r="3.2"/>
<circle cx="747.0" cy="139.1" r="3.2"/>
<circle cx="745.6" cy="137.2" r="3.2"/>
<circle cx="735.7" cy="110.1" r="3.2"/>
<circle cx="723.1" cy="163.7" r="3.2"/>
<circle cx="727.8" cy="190.9" r="3.2"/>
<circle cx="739.0" cy="154.8" r="3.2"/>
<circle cx="748.8" cy="128.3" r="3.2"/>
<circle cx="722.3" cy="120.9" r="3.2"/>
<circle cx="735.7" cy="114.4" r="3.2"/>
<circle cx="730.4" cy="170.1" r="3.2"/>
<circle cx="733.3" cy="132.4" r="3.2"/>
<circle cx="729.0" cy="150.5" r="3.2"/>
<circle cx="751.9" cy="116.1" r="3.2"/>
<circle cx="747.3" cy="173.6" r="3.2"/>
<circle cx="740.0" cy="151.6" r="3.2"/>
<circle cx="737.6" cy="109.8" r="3.2"/>
<circle cx="739.1" cy="194.0" r="3.2"/>
<circle cx="743.9" cy="144.3" r="3.2"/>
<circle cx="735.3" cy="182.6" r="3.2"/>
<circle cx="722.2" cy="119.0" r="3.2"/>
<circle cx="750.7" cy="162.1" r="3.2"/>
<circle cx="746.8" cy="150.7" r="3.2"/>
<circle cx="723.2" cy="150.9" r="3.2"/>
<circle cx="740.9" cy="108.4" r="3.2"/>
<circle cx="736.4" cy="189.6" r="3.2"/>
<circle cx="723.9" cy="104.4" r="3.2"/>
<circle cx="725.1" cy="164.8" r="3.2"/>
<circle cx="748.8" cy="114.8" r="3.2"/>
<circle cx="747.3" cy="121.1" r="3.2"/>
<circle cx="738.1" cy="172.6" r="3.2"/>
<circle cx="725.5" cy="145.3" r="3.2"/>
<circle cx="748.0" cy="133.7" r="3.2"/>
<circle cx="745.9" cy="143.2" r="3.2"/>
<circle cx="750.3" cy="138.1" r="3.2"/>
<circle cx="746.7" cy="107.2" r="3.2"/>
<circle cx="732.2" cy="113.8" r="3.2"/>
<circle cx="734.1" cy="138.5" r="3.2"/>
<circle cx="729.2" cy="139.8" r="3.2"/>
<circle cx="742.4" cy="154.9" r="3.2"/>
<circle cx="729.3" cy="167.6" r="3.2"/>
<circle cx="743.3" cy="140.1" r="3.2"/>
<circle cx="735.8" cy="116.5" r="3.2"/>
<circle cx="747.0" cy="133.9" r="3.2"/>
<circle cx="730.8" cy="188.2" r="3.2"/>
<circle cx="731.2" cy="118.8" r="3.2"/>
<circle cx="733.5" cy="149.0" r="3.2"/>
<circle cx="740.4" cy="137.9" r="3.2"/>
<circle cx="742.5" cy="102.2" r="3.2"/>
<circle cx="749.8" cy="143.8" r="3.2"/>
<circle cx="735.5" cy="142.4" r="3.2"/>
<circle cx="730.3" cy="177.4" r="3.2"/>
<circle cx="735.6" cy="109.1" r="3.2"/>
<circle cx="732.5" cy="146.1" r="3.2"/>
<circle cx="732.8" cy="109.7" r="3.2"/>
<circle cx="748.7" cy="114.3" r="3.2"/>
<circle cx="743.9" cy="140.3" r="3.2"/>
<circle cx="736.9" cy="164.3" r="3.2"/>
<circle cx="690.6" cy="146.5" r="3.2"/>
<circle cx="706.1" cy="140.7" r="3.2"/>
<circle cx="690.0" cy="101.1" r="3.2"/>
<circle cx="707.1" cy="143.3" r="3.2"/>
<circle cx="701.7" cy="111.1" r="3.2"/>
<circle cx="702.7" cy="163.9" r="3.2"/>
<circle cx="718.7" cy="172.6" r="3.2"/>
<circle cx="690.1" cy="132.2" r="3.2"/>
<circle cx="707.1" cy="177.4" r="3.2"/>
<circle cx="709.8" cy="176.2" r="3.2"/>
<circle cx="714.1" cy="106.9" r="3.2"/>
<circle cx="724.3" cy="153.0" r="3.2"/>
<circle cx="711.1" cy="124.6" r="3.2"/>
<circle cx="721.6" cy="194.8" r="3.2"/>
<circle cx="702.0" cy="146.5" r="3.2"/>
<circle cx="692.2" cy="172.5" r="3.2"/>
<circle cx="712.5" cy="122.2" r="3.2"/>
<circle cx="719.0" cy="152.0" r="3.2"/>
<circle cx="722.5" cy="177.9" r="3.2"/>
<circle cx="693.5" cy="122.5" r="3.2"/>
<circle cx="719.7" cy="103.0" r="3.2"/>
<circle cx="694.6" cy="187.3" r="3.2"/>
<circle cx="718.4" cy="124.2" r="3.2"/>
<circle cx="701.9" cy="103.6" r="3.2"/>
<circle cx="694.4" cy="101.1" r="3.2"/>
<circle cx="710.5" cy="158.0" r="3.2"/>
<circle cx="695.0" cy="179.2" r="3.2"/>
<circle cx="707.1" cy="156.9" r="3.2"/>
<circle cx="713.2" cy="119.5" r="3.2"/>
<circle cx="718.1" cy="139.0" r="3.2"/>
<circle cx="707.4" cy="112.0" r="3.2"/>
<circle cx="698.9" cy="143.3" r="3.2"/>
<circle cx="715.4" cy="143.5" r="3.2"/>
<circle cx="709.6" cy="171.9" r="3.2"/>
<circle cx="704.1" cy="101.5" r="3.2"/>
<circle cx="709.7" cy="189.7" r="3.2"/>
<circle cx="691.3" cy="144.0" r="3.2"/>
<circle cx="712.9" cy="146.5" r="3.2"/>
<circle cx="693.6" cy="148.8" r="3.2"/>
<circle cx="692.8" cy="106.7" r="3.2"/>
<circle cx="701.8" cy="116.8" r="3.2"/>
<circle cx="707.7" cy="189.7" r="3.2"/>
<circle cx="697.5" cy="193.9" r="3.2"/>
<circle cx="702.2" cy="179.4" r="3.2"/>
<circle cx="708.3" cy="174.2" r="3.2"/>
<circle cx="677.9" cy="185.0" r="3.2"/>
<circle cx="613.3" cy="189.7" r="3.2"/>
<circle cx="610.8" cy="174.8" r="3.2"/>
<circle cx="604.1" cy="133.5" r="3.2"/>
<circle cx="611.9" cy="164.1" r="3.2"/>
<circle cx="628.3" cy="158.8" r="3.2"/>
<circle cx="619.7" cy="142.9" r="3.2"/>
<circle cx="681.1" cy="161.8" r="3.2"/>
<circle cx="643.8" cy="174.0" r="3.2"/>
<circle cx="689.3" cy="136.7" r="3.2"/>
<circle cx="609.9" cy="127.9" r="3.2"/>
<circle cx="614.1" cy="143.5" r="3.2"/>
<circle cx="666.8" cy="177.8" r="3.2"/>
<circle cx="609.7" cy="120.4" r="3.2"/>
<circle cx="632.4" cy="185.2" r="3.2"/>
<circle cx="643.5" cy="156.2" r="3.2"/>
<circle cx="626.2" cy="157.2" r="3.2"/>
<circle cx="654.5" cy="136.9" r="3.2"/>
<circle cx="654.1" cy="176.6" r="3.2"/>
<circle cx="631.9" cy="148.3" r="3.2"/>
<circle cx="611.7" cy="129.6" r="3.2"/>
<circle cx="603.7" cy="110.4" r="3.2"/>
<circle cx="607.6" cy="190.3" r="3.2"/>
<circle cx="665.9" cy="160.6" r="3.2"/>
<circle cx="671.8" cy="121.7" r="3.2"/>
<circle cx="631.7" cy="160.3" r="3.2"/>
<circle cx="677.0" cy="156.3" r="3.2"/>
<circle cx="611.3" cy="109.2" r="3.2"/>
<circle cx="603.2" cy="176.8" r="3.2"/>
<circle cx="680.5" cy="118.8" r="3.2"/>
<circle cx="672.9" cy="109.0" r="3.2"/>
<circle cx="675.2" cy="171.7" r="3.2"/>
<circle cx="642.6" cy="150.3" r="3.2"/>
<circle cx="619.8" cy="193.4" r="3.2"/>
<circle cx="624.5" cy="130.1" r="3.2"/>
<circle cx="444.8" cy="149.4" r="3.2"/>
<circle cx="416.8" cy="149.3" r="3.2"/>
<circle cx="372.2" cy="137.7" r="3.2"/>
<circle cx="467.7" cy="152.6" r="3.2"/>
<circle cx="427.6" cy="149.0" r="3.2"/>
<circle cx="385.8" cy="138.9" r="3.2"/>
<circle cx="424.3" cy="135.3" r="3.2"/>
<circle cx="363.0" cy="143.6" r="3.2"/>
<circle cx="424.4" cy="158.2" r="3.2"/>
<circle cx="409.8" cy="142.6" r="3.2"/>
<circle cx="465.0" cy="142.4" r="3.2"/>
<circle cx="412.9" cy="146.9" r="3.2"/>
<circle cx="364.8" cy="137.6" r="3.2"/>
<circle cx="360.9" cy="154.9" r="3.2"/>
<circle cx="401.8" cy="152.0" r="3.2"/>
<circle cx="409.1" cy="147.4" r="3.2"/>
<circle cx="455.0" cy="144.9" r="3.2"/>
<circle cx="371.2" cy="151.7" r="3.2"/>
<circle cx="363.2" cy="147.9" r="3.2"/>
<circle cx="400.6" cy="145.7" r="3.2"/>
<circle cx="317.4" cy="142.0" r="3.2"/>
<circle cx="345.5" cy="139.0" r="3.2"/>
<circle cx="328.4" cy="146.8" r="3.2"/>
<circle cx="276.2" cy="117.2" r="3.2"/>
<circle cx="233.3" cy="122.7" r="3.2"/>
<circle cx="236.8" cy="110.7" r="3.2"/>
<circle cx="279.5" cy="120.6" r="3.2"/>
<circle cx="321.8" cy="123.2" r="3.2"/>
<circle cx="314.8" cy="101.1" r="3.2"/>
<circle cx="316.5" cy="138.1" r="3.2"/>
<circle cx="231.5" cy="117.5" r="3.2"/>
<circle cx="306.4" cy="106.9" r="3.2"/>
<circle cx="326.7" cy="148.6" r="3.2"/>
<circle cx="324.0" cy="131.0" r="3.2"/>
<circle cx="324.0" cy="146.9" r="3.2"/>
<circle cx="344.7" cy="116.6" r="3.2"/>
<circle cx="307.7" cy="104.7" r="3.2"/>
<circle cx="339.8" cy="102.9" r="3.2"/>
<circle cx="264.5" cy="128.7" r="3.2"/>
<circle cx="256.8" cy="121.1" r="3.2"/>
<circle cx="272.1" cy="133.3" r="3.2"/>
<circle cx="292.1" cy="141.5" r="3.2"/>
<circle cx="304.5" cy="136.0" r="3.2"/>
<circle cx="231.9" cy="133.8" r="3.2"/>
<circle cx="339.2" cy="106.8" r="3.2"/>
<circle cx="638.5" cy="245.7" r="3.2"/>
<circle cx="629.9" cy="241.8" r="3.2"/>
<circle cx="644.1" cy="250.7" r="3.2"/>
<circle cx="638.6" cy="247.8" r="3.2"/>
<circle cx="644.7" cy="251.1" r="3.2"/>
<circle cx="643.6" cy="249.2" r="3.2"/>
<circle cx="626.1" cy="241.7" r="3.2"/>
<circle cx="648.8" cy="253.5" r="3.2"/>
<circle cx="645.3" cy="250.1" r="3.2"/>
<circle cx="642.4" cy="249.2" r="3.2"/>
<circle cx="620.2" cy="233.6" r="3.2"/>
<circle cx="636.6" cy="247.7" r="3.2"/>
<circle cx="644.7" cy="251.3" r="3.2"/>
<circle cx="636.2" cy="247.3" r="3.2"/>
<circle cx="616.6" cy="238.5" r="3.2"/>
<circle cx="609.5" cy="230.8" r="3.2"/>
<circle cx="752.9" cy="204.6" r="3.2"/>
<circle cx="768.5" cy="115.8" r="3.2"/>
<circle cx="812.2" cy="175.2" r="3.2"/>
<circle cx="758.2" cy="204.6" r="3.2"/>
<circle cx="865.7" cy="148.7" r="3.2"/>
<circle cx="809.4" cy="149.9" r="3.2"/>
<circle cx="870.0" cy="202.5" r="3.2"/>
<circle cx="791.5" cy="142.7" r="3.2"/>
<circle cx="798.1" cy="166.3" r="3.2"/>
<circle cx="856.8" cy="195.8" r="3.2"/>
<circle cx="871.9" cy="210.5" r="3.2"/>
<circle cx="793.6" cy="161.8" r="3.2"/>
<circle cx="850.2" cy="182.3" r="3.2"/>
<circle cx="827.6" cy="159.5" r="3.2"/>
<circle cx="879.9" cy="109.9" r="3.2"/>
<circle cx="751.7" cy="181.4" r="3.2"/>
<circle cx="814.6" cy="184.2" r="3.2"/>
<circle cx="858.1" cy="178.5" r="3.2"/>
<circle cx="769.3" cy="162.2" r="3.2"/>
<circle cx="837.1" cy="209.2" r="3.2"/>
<circle cx="757.2" cy="136.1" r="3.2"/>
<circle cx="844.0" cy="186.3" r="3.2"/>
<circle cx="881.4" cy="168.6" r="3.2"/>
<circle cx="859.6" cy="155.4" r="3.2"/>
<circle cx="754.8" cy="177.8" r="3.2"/>
<circle cx="812.9" cy="184.8" r="3.2"/>
<circle cx="881.5" cy="233.8" r="3.2"/>
<circle cx="882.2" cy="180.4" r="3.2"/>
<circle cx="785.8" cy="206.8" r="3.2"/>
<circle cx="849.3" cy="172.8" r="3.2"/>
<circle cx="753.6" cy="211.0" r="3.2"/>
<circle cx="865.3" cy="208.9" r="3.2"/>
<circle cx="754.3" cy="119.0" r="3.2"/>
<circle cx="817.6" cy="208.9" r="3.2"/>
<circle cx="880.4" cy="124.2" r="3.2"/>
<circle cx="763.0" cy="129.0" r="3.2"/>
<circle cx="854.3" cy="202.3" r="3.2"/>
<circle cx="846.0" cy="212.5" r="3.2"/>
<circle cx="782.6" cy="212.0" r="3.2"/>
<circle cx="765.7" cy="146.9" r="3.2"/>
<circle cx="755.6" cy="149.2" r="3.2"/>
<circle cx="830.3" cy="178.8" r="3.2"/>
<circle cx="835.5" cy="144.7" r="3.2"/>
<circle cx="820.6" cy="202.8" r="3.2"/>
<circle cx="859.7" cy="156.7" r="3.2"/>
<circle cx="849.4" cy="176.3" r="3.2"/>
<circle cx="843.8" cy="196.4" r="3.2"/>
<circle cx="827.7" cy="158.4" r="3.2"/>
<circle cx="861.4" cy="159.8" r="3.2"/>
<circle cx="749.4" cy="143.8" r="3.2"/>
<circle cx="878.0" cy="211.6" r="3.2"/>
<circle cx="757.8" cy="117.0" r="3.2"/>
<circle cx="828.8" cy="190.0" r="3.2"/>
<circle cx="764.9" cy="153.2" r="3.2"/>
<circle cx="775.8" cy="178.3" r="3.2"/>
<circle cx="841.4" cy="147.5" r="3.2"/>
<circle cx="803.0" cy="187.5" r="3.2"/>
<circle cx="781.4" cy="134.4" r="3.2"/>
<circle cx="876.1" cy="180.3" r="3.2"/>
<circle cx="797.7" cy="163.8" r="3.2"/>
<circle cx="876.5" cy="196.4" r="3.2"/>
<circle cx="871.2" cy="139.6" r="3.2"/>
<circle cx="755.8" cy="155.4" r="3.2"/>
<circle cx="869.4" cy="219.7" r="3.2"/>
<circle cx="861.9" cy="218.0" r="3.2"/>
<circle cx="868.9" cy="179.5" r="3.2"/>
<circle cx="871.4" cy="162.1" r="3.2"/>
<circle cx="766.1" cy="150.5" r="3.2"/>
<circle cx="856.2" cy="147.0" r="3.2"/>
<circle cx="787.9" cy="194.4" r="3.2"/>
<circle cx="780.8" cy="169.3" r="3.2"/>
<circle cx="788.4" cy="162.2" r="3.2"/>
<circle cx="860.8" cy="151.8" r="3.2"/>
<circle cx="789.4" cy="136.5" r="3.2"/>
<circle cx="851.9" cy="198.1" r="3.2"/>
<circle cx="768.2" cy="212.7" r="3.2"/>
<circle cx="874.7" cy="133.4" r="3.2"/>
<circle cx="820.7" cy="160.5" r="3.2"/>
<circle cx="856.6" cy="143.8" r="3.2"/>
<circle cx="783.0" cy="158.5" r="3.2"/>
<circle cx="788.0" cy="153.5" r="3.2"/>
<circle cx="792.7" cy="178.0" r="3.2"/>
<circle cx="751.6" cy="206.7" r="3.2"/>
<circle cx="822.2" cy="198.6" r="3.2"/>
<circle cx="782.8" cy="200.1" r="3.2"/>
<circle cx="871.3" cy="156.9" r="3.2"/>
<circle cx="824.1" cy="165.0" r="3.2"/>
<circle cx="795.2" cy="206.7" r="3.2"/>
<circle cx="790.0" cy="187.5" r="3.2"/>
<circle cx="825.5" cy="182.0" r="3.2"/>
<circle cx="880.0" cy="97.1" r="3.2"/>
<circle cx="866.8" cy="148.5" r="3.2"/>
<circle cx="814.8" cy="198.8" r="3.2"/>
<circle cx="815.3" cy="153.2" r="3.2"/>
<circle cx="791.4" cy="218.4" r="3.2"/>
<circle cx="879.2" cy="201.6" r="3.2"/>
<circle cx="766.2" cy="192.4" r="3.2"/>
<circle cx="792.8" cy="157.2" r="3.2"/>
<circle cx="781.1" cy="193.2" r="3.2"/>
<circle cx="772.5" cy="191.5" r="3.2"/>
<circle cx="861.8" cy="193.0" r="3.2"/>
<circle cx="801.4" cy="173.8" r="3.2"/>
<circle cx="807.8" cy="151.2" r="3.2"/>
<circle cx="784.3" cy="224.3" r="3.2"/>
<circle cx="843.0" cy="202.5" r="3.2"/>
<circle cx="772.3" cy="150.2" r="3.2"/>
<circle cx="837.0" cy="147.8" r="3.2"/>
<circle cx="793.4" cy="171.9" r="3.2"/>
<circle cx="843.9" cy="148.6" r="3.2"/>
<circle cx="756.9" cy="108.8" r="3.2"/>
<circle cx="792.7" cy="175.5" r="3.2"/>
<circle cx="877.6" cy="197.3" r="3.2"/>
<circle cx="767.8" cy="123.7" r="3.2"/>
<circle cx="873.0" cy="173.4" r="3.2"/>
<circle cx="805.8" cy="164.3" r="3.2"/>
<circle cx="780.6" cy="205.3" r="3.2"/>
<circle cx="798.7" cy="182.9" r="3.2"/>
<circle cx="838.0" cy="200.5" r="3.2"/>
<circle cx="751.3" cy="183.5" r="3.2"/>
<circle cx="780.9" cy="181.5" r="3.2"/>
<circle cx="790.3" cy="191.7" r="3.2"/>
<circle cx="757.3" cy="223.9" r="3.2"/>
<circle cx="883.5" cy="168.0" r="3.2"/>
<circle cx="850.7" cy="169.1" r="3.2"/>
<circle cx="810.6" cy="203.6" r="3.2"/>
<circle cx="776.6" cy="106.9" r="3.2"/>
<circle cx="758.6" cy="207.5" r="3.2"/>
<circle cx="807.0" cy="150.1" r="3.2"/>
<circle cx="784.6" cy="150.3" r="3.2"/>
<circle cx="883.6" cy="223.6" r="3.2"/>
<circle cx="846.4" cy="163.6" r="3.2"/>
<circle cx="756.9" cy="216.0" r="3.2"/>
<circle cx="830.9" cy="186.1" r="3.2"/>
<circle cx="870.3" cy="171.9" r="3.2"/>
<circle cx="764.5" cy="189.2" r="3.2"/>
<circle cx="817.2" cy="190.8" r="3.2"/>
<circle cx="875.6" cy="161.7" r="3.2"/>
<circle cx="844.4" cy="222.1" r="3.2"/>
<circle cx="852.7" cy="149.8" r="3.2"/>
<circle cx="843.6" cy="167.6" r="3.2"/>
<circle cx="780.1" cy="158.1" r="3.2"/>
<circle cx="879.9" cy="218.4" r="3.2"/>
<circle cx="827.9" cy="184.1" r="3.2"/>
<circle cx="828.2" cy="155.4" r="3.2"/>
<circle cx="850.6" cy="220.4" r="3.2"/>
<circle cx="765.7" cy="189.5" r="3.2"/>
<circle cx="827.3" cy="163.1" r="3.2"/>
<circle cx="785.4" cy="182.0" r="3.2"/>
<circle cx="761.9" cy="169.2" r="3.2"/>
<circle cx="751.1" cy="170.7" r="3.2"/>
<circle cx="843.4" cy="189.9" r="3.2"/>
<circle cx="762.5" cy="140.5" r="3.2"/>
<circle cx="881.0" cy="138.5" r="3.2"/>
<circle cx="845.0" cy="212.8" r="3.2"/>
<circle cx="754.2" cy="169.4" r="3.2"/>
<circle cx="772.7" cy="164.1" r="3.2"/>
<circle cx="754.1" cy="197.8" r="3.2"/>
<circle cx="785.1" cy="190.2" r="3.2"/>
<circle cx="770.5" cy="222.0" r="3.2"/>
<circle cx="865.9" cy="208.1" r="3.2"/>
<circle cx="806.0" cy="167.7" r="3.2"/>
<circle cx="876.4" cy="182.9" r="3.2"/>
<circle cx="767.9" cy="196.3" r="3.2"/>
<circle cx="779.3" cy="107.3" r="3.2"/>
<circle cx="880.7" cy="164.0" r="3.2"/>
<circle cx="790.5" cy="158.9" r="3.2"/>
<circle cx="826.4" cy="141.3" r="3.2"/>
<circle cx="790.1" cy="141.9" r="3.2"/>
<circle cx="760.8" cy="169.8" r="3.2"/>
<circle cx="812.1" cy="183.0" r="3.2"/>
<circle cx="812.0" cy="155.4" r="3.2"/>
<circle cx="843.5" cy="186.9" r="3.2"/>
<circle cx="785.6" cy="194.5" r="3.2"/>
<circle cx="865.1" cy="143.8" r="3.2"/>
<circle cx="769.4" cy="220.0" r="3.2"/>
<circle cx="856.2" cy="140.7" r="3.2"/>
<circle cx="883.2" cy="128.6" r="3.2"/>
<circle cx="881.7" cy="190.5" r="3.2"/>
<circle cx="883.1" cy="144.8" r="3.2"/>
<circle cx="769.1" cy="213.3" r="3.2"/>
<circle cx="873.9" cy="178.3" r="3.2"/>
<circle cx="782.7" cy="157.8" r="3.2"/>
<circle cx="837.6" cy="191.4" r="3.2"/>
<circle cx="784.3" cy="171.6" r="3.2"/>
<circle cx="806.0" cy="162.7" r="3.2"/>
<circle cx="835.6" cy="160.8" r="3.2"/>
<circle cx="871.1" cy="189.4" r="3.2"/>
<circle cx="821.4" cy="192.7" r="3.2"/>
<circle cx="753.3" cy="192.1" r="3.2"/>
<circle cx="758.0" cy="210.3" r="3.2"/>
<circle cx="855.2" cy="153.9" r="3.2"/>
<circle cx="780.8" cy="207.7" r="3.2"/>
<circle cx="799.4" cy="166.2" r="3.2"/>
<circle cx="752.7" cy="117.5" r="3.2"/>
<circle cx="756.1" cy="198.2" r="3.2"/>
<circle cx="778.5" cy="134.0" r="3.2"/>
<circle cx="840.2" cy="155.6" r="3.2"/>
<circle cx="803.7" cy="202.0" r="3.2"/>
<circle cx="757.2" cy="126.2" r="3.2"/>
<circle cx="759.4" cy="118.0" r="3.2"/>
<circle cx="852.1" cy="181.5" r="3.2"/>
<circle cx="847.9" cy="175.9" r="3.2"/>
<circle cx="883.2" cy="204.4" r="3.2"/>
<circle cx="864.8" cy="203.4" r="3.2"/>
<circle cx="798.6" cy="161.9" r="3.2"/>
<circle cx="783.6" cy="168.9" r="3.2"/>
<circle cx="847.1" cy="218.4" r="3.2"/>
<circle cx="778.1" cy="176.9" r="3.2"/>
<circle cx="834.1" cy="164.3" r="3.2"/>
<circle cx="775.2" cy="187.7" r="3.2"/>
<circle cx="870.2" cy="225.1" r="3.2"/>
<circle cx="874.2" cy="160.2" r="3.2"/>
<circle cx="843.4" cy="210.7" r="3.2"/>
<circle cx="795.6" cy="168.4" r="3.2"/>
<circle cx="771.2" cy="141.4" r="3.2"/>
<circle cx="757.1" cy="222.3" r="3.2"/>
<circle cx="821.1" cy="161.1" r="3.2"/>
<circle cx="839.8" cy="205.7" r="3.2"/>
<circle cx="822.9" cy="144.1" r="3.2"/>
<circle cx="846.0" cy="190.1" r="3.2"/>
<circle cx="881.4" cy="231.0" r="3.2"/>
<circle cx="808.4" cy="174.0" r="3.2"/>
<circle cx="830.1" cy="152.0" r="3.2"/>
<circle cx="777.3" cy="163.4" r="3.2"/>
<circle cx="871.4" cy="201.1" r="3.2"/>
<circle cx="835.0" cy="180.3" r="3.2"/>
<circle cx="807.0" cy="145.6" r="3.2"/>
<circle cx="793.6" cy="149.1" r="3.2"/>
<circle cx="829.8" cy="177.7" r="3.2"/>
<circle cx="835.2" cy="158.7" r="3.2"/>
<circle cx="758.0" cy="214.7" r="3.2"/>
<circle cx="794.8" cy="191.9" r="3.2"/>
<circle cx="811.9" cy="198.5" r="3.2"/>
<circle cx="783.1" cy="144.7" r="3.2"/>
<circle cx="811.3" cy="169.4" r="3.2"/>
<circle cx="883.3" cy="195.3" r="3.2"/>
<circle cx="770.1" cy="203.5" r="3.2"/>
<circle cx="792.2" cy="185.5" r="3.2"/>
<circle cx="750.7" cy="131.1" r="3.2"/>
<circle cx="803.5" cy="159.5" r="3.2"/>
<circle cx="772.6" cy="213.8" r="3.2"/>
<circle cx="751.6" cy="152.1" r="3.2"/>
<circle cx="758.2" cy="223.3" r="3.2"/>
<circle cx="881.7" cy="207.3" r="3.2"/>
<circle cx="812.8" cy="191.6" r="3.2"/>
<circle cx="835.4" cy="198.7" r="3.2"/>
<circle cx="788.9" cy="178.7" r="3.2"/>
<circle cx="866.6" cy="224.7" r="3.2"/>
<circle cx="792.1" cy="199.1" r="3.2"/>
<circle cx="766.5" cy="178.2" r="3.2"/>
<circle cx="784.7" cy="139.4" r="3.2"/>
<circle cx="871.7" cy="157.8" r="3.2"/>
<circle cx="773.3" cy="127.7" r="3.2"/>
<circle cx="853.0" cy="210.7" r="3.2"/>
<circle cx="870.8" cy="198.0" r="3.2"/>
<circle cx="754.9" cy="156.7" r="3.2"/>
<circle cx="860.7" cy="212.0" r="3.2"/>
<circle cx="790.1" cy="168.3" r="3.2"/>
<circle cx="774.8" cy="125.4" r="3.2"/>
<circle cx="840.0" cy="167.0" r="3.2"/>
<circle cx="754.5" cy="162.7" r="3.2"/>
<circle cx="858.6" cy="221.4" r="3.2"/>
<circle cx="852.3" cy="181.9" r="3.2"/>
<circle cx="849.0" cy="185.0" r="3.2"/>
<circle cx="840.1" cy="163.0" r="3.2"/>
<circle cx="828.2" cy="187.3" r="3.2"/>
<circle cx="772.4" cy="225.1" r="3.2"/>
<circle cx="863.8" cy="162.2" r="3.2"/>
<circle cx="844.0" cy="210.3" r="3.2"/>
<circle cx="779.1" cy="123.5" r="3.2"/>
<circle cx="837.6" cy="184.3" r="3.2"/>
<circle cx="857.6" cy="224.1" r="3.2"/>
<circle cx="807.4" cy="206.6" r="3.2"/>
<circle cx="780.1" cy="162.5" r="3.2"/>
<circle cx="870.2" cy="156.5" r="3.2"/>
<circle cx="883.4" cy="271.7" r="3.2"/>
<circle cx="821.3" cy="163.2" r="3.2"/>
<circle cx="825.5" cy="186.3" r="3.2"/>
<circle cx="822.3" cy="160.7" r="3.2"/>
<circle cx="863.7" cy="196.8" r="3.2"/>
<circle cx="762.6" cy="132.7" r="3.2"/>
<circle cx="784.2" cy="118.0" r="3.2"/>
<circle cx="751.3" cy="170.0" r="3.2"/>
<circle cx="758.1" cy="119.1" r="3.2"/>
<circle cx="758.8" cy="125.8" r="3.2"/>
<circle cx="797.1" cy="158.7" r="3.2"/>
<circle cx="764.7" cy="169.9" r="3.2"/>
<circle cx="762.3" cy="168.9" r="3.2"/>
<circle cx="797.1" cy="163.5" r="3.2"/>
<circle cx="769.7" cy="161.2" r="3.2"/>
<circle cx="771.8" cy="182.7" r="3.2"/>
<circle cx="845.1" cy="217.8" r="3.2"/>
<circle cx="778.2" cy="176.3" r="3.2"/>
<circle cx="805.8" cy="196.5" r="3.2"/>
<circle cx="785.6" cy="169.2" r="3.2"/>
<circle cx="805.5" cy="192.7" r="3.2"/>
<circle cx="875.4" cy="234.1" r="3.2"/>
<circle cx="882.6" cy="131.9" r="3.2"/>
<circle cx="883.8" cy="185.6" r="3.2"/>
<circle cx="779.5" cy="185.1" r="3.2"/>
<circle cx="822.9" cy="177.5" r="3.2"/>
<circle cx="881.6" cy="254.8" r="3.2"/>
<circle cx="766.7" cy="139.6" r="3.2"/>
<circle cx="752.3" cy="168.2" r="3.2"/>
<circle cx="765.6" cy="119.1" r="3.2"/>
<circle cx="759.2" cy="113.9" r="3.2"/>
<circle cx="845.5" cy="168.9" r="3.2"/>
<circle cx="837.7" cy="218.7" r="3.2"/>
<circle cx="760.7" cy="170.3" r="3.2"/>
<circle cx="874.3" cy="190.4" r="3.2"/>
<circle cx="825.7" cy="148.8" r="3.2"/>
<circle cx="841.0" cy="163.9" r="3.2"/>
<circle cx="875.3" cy="225.0" r="3.2"/>
<circle cx="839.8" cy="159.5" r="3.2"/>
<circle cx="764.2" cy="181.6" r="3.2"/>
<circle cx="801.6" cy="168.5" r="3.2"/>
<circle cx="839.5" cy="197.9" r="3.2"/>
<circle cx="860.3" cy="190.4" r="3.2"/>
<circle cx="799.5" cy="196.3" r="3.2"/>
<circle cx="868.7" cy="138.7" r="3.2"/>
<circle cx="843.2" cy="172.4" r="3.2"/>
<circle cx="862.5" cy="209.5" r="3.2"/>
<circle cx="883.8" cy="232.4" r="3.2"/>
<circle cx="753.2" cy="181.7" r="3.2"/>
<circle cx="751.8" cy="163.1" r="3.2"/>
<circle cx="806.4" cy="189.2" r="3.2"/>
<circle cx="827.3" cy="218.8" r="3.2"/>
<circle cx="754.3" cy="221.3" r="3.2"/>
<circle cx="768.8" cy="186.0" r="3.2"/>
<circle cx="813.7" cy="154.2" r="3.2"/>
<circle cx="756.7" cy="157.2" r="3.2"/>
<circle cx="823.5" cy="159.1" r="3.2"/>
<circle cx="801.9" cy="150.9" r="3.2"/>
<circle cx="825.9" cy="193.5" r="3.2"/>
<circle cx="782.8" cy="222.8" r="3.2"/>
<circle cx="761.7" cy="195.2" r="3.2"/>
<circle cx="817.5" cy="206.7" r="3.2"/>
<circle cx="812.4" cy="187.6" r="3.2"/>
<circle cx="781.2" cy="144.6" r="3.2"/>
<circle cx="823.1" cy="189.4" r="3.2"/>
<circle cx="774.9" cy="211.5" r="3.2"/>
<circle cx="800.4" cy="141.7" r="3.2"/>
<circle cx="854.0" cy="213.6" r="3.2"/>
<circle cx="780.1" cy="104.9" r="3.2"/>
<circle cx="864.5" cy="183.0" r="3.2"/>
<circle cx="849.8" cy="193.8" r="3.2"/>
<circle cx="844.5" cy="172.1" r="3.2"/>
<circle cx="851.4" cy="194.3" r="3.2"/>
<circle cx="791.0" cy="185.5" r="3.2"/>
<circle cx="842.1" cy="200.0" r="3.2"/>
<circle cx="832.1" cy="184.1" r="3.2"/>
<circle cx="877.5" cy="139.4" r="3.2"/>
<circle cx="775.6" cy="134.7" r="3.2"/>
<circle cx="781.2" cy="186.8" r="3.2"/>
<circle cx="782.9" cy="140.4" r="3.2"/>
<circle cx="776.3" cy="133.5" r="3.2"/>
<circle cx="765.3" cy="107.4" r="3.2"/>
<circle cx="761.5" cy="147.1" r="3.2"/>
<circle cx="795.7" cy="200.4" r="3.2"/>
<circle cx="818.2" cy="203.8" r="3.2"/>
<circle cx="855.8" cy="141.4" r="3.2"/>
<circle cx="800.0" cy="201.0" r="3.2"/>
<circle cx="864.8" cy="182.3" r="3.2"/>
<circle cx="869.0" cy="136.5" r="3.2"/>
<circle cx="752.8" cy="160.3" r="3.2"/>
<circle cx="771.2" cy="181.5" r="3.2"/>
<circle cx="878.2" cy="195.1" r="3.2"/>
<circle cx="867.9" cy="173.0" r="3.2"/>
<circle cx="811.6" cy="180.5" r="3.2"/>
<circle cx="796.5" cy="173.8" r="3.2"/>
<circle cx="806.8" cy="148.8" r="3.2"/>
<circle cx="878.8" cy="151.5" r="3.2"/>
<circle cx="812.2" cy="172.0" r="3.2"/>
<circle cx="791.9" cy="178.8" r="3.2"/>
<circle cx="772.0" cy="140.6" r="3.2"/>
<circle cx="766.4" cy="200.6" r="3.2"/>
<circle cx="883.2" cy="272.5" r="3.2"/>
<circle cx="819.8" cy="155.8" r="3.2"/>
<circle cx="859.7" cy="175.7" r="3.2"/>
<circle cx="859.7" cy="164.2" r="3.2"/>
<circle cx="880.0" cy="97.3" r="3.2"/>
<circle cx="814.1" cy="150.6" r="3.2"/>
<circle cx="792.4" cy="149.3" r="3.2"/>
<circle cx="864.4" cy="164.2" r="3.2"/>
<circle cx="882.9" cy="236.1" r="3.2"/>
<circle cx="880.1" cy="104.7" r="3.2"/>
<circle cx="808.7" cy="196.3" r="3.2"/>
<circle cx="786.2" cy="179.0" r="3.2"/>
<circle cx="835.1" cy="221.6" r="3.2"/>
<circle cx="781.5" cy="152.1" r="3.2"/>
<circle cx="798.0" cy="184.7" r="3.2"/>
<circle cx="755.6" cy="206.1" r="3.2"/>
<circle cx="817.7" cy="202.8" r="3.2"/>
<circle cx="775.7" cy="160.0" r="3.2"/>
<circle cx="781.9" cy="146.2" r="3.2"/>
<circle cx="816.1" cy="190.5" r="3.2"/>
<circle cx="764.1" cy="141.8" r="3.2"/>
<circle cx="780.7" cy="207.5" r="3.2"/>
<circle cx="756.9" cy="199.0" r="3.2"/>
<circle cx="881.6" cy="208.4" r="3.2"/>
<circle cx="765.4" cy="188.2" r="3.2"/>
<circle cx="783.9" cy="115.0" r="3.2"/>
<circle cx="843.6" cy="216.7" r="3.2"/>
<circle cx="835.1" cy="174.1" r="3.2"/>
<circle cx="874.6" cy="173.3" r="3.2"/>
<circle cx="849.1" cy="154.1" r="3.2"/>
<circle cx="822.1" cy="187.8" r="3.2"/>
<circle cx="879.0" cy="225.8" r="3.2"/>
<circle cx="841.6" cy="200.4" r="3.2"/>
<circle cx="847.1" cy="152.0" r="3.2"/>
<circle cx="776.5" cy="157.2" r="3.2"/>
<circle cx="767.2" cy="133.1" r="3.2"/>
<circle cx="874.8" cy="174.9" r="3.2"/>
<circle cx="804.3" cy="149.4" r="3.2"/>
<circle cx="790.3" cy="111.8" r="3.2"/>
<circle cx="774.7" cy="161.4" r="3.2"/>
<circle cx="806.7" cy="202.1" r="3.2"/>
<circle cx="876.6" cy="222.9" r="3.2"/>
<circle cx="829.3" cy="172.3" r="3.2"/>
<circle cx="754.7" cy="110.0" r="3.2"/>
<circle cx="820.6" cy="176.1" r="3.2"/>
<circle cx="777.8" cy="164.1" r="3.2"/>
<circle cx="831.0" cy="209.8" r="3.2"/>
<circle cx="870.1" cy="184.1" r="3.2"/>
<circle cx="882.0" cy="232.9" r="3.2"/>
<circle cx="874.2" cy="141.8" r="3.2"/>
<circle cx="764.9" cy="129.0" r="3.2"/>
<circle cx="863.5" cy="165.6" r="3.2"/>
<circle cx="764.9" cy="151.3" r="3.2"/>
<circle cx="772.4" cy="217.3" r="3.2"/>
<circle cx="777.5" cy="112.0" r="3.2"/>
<circle cx="774.4" cy="107.1" r="3.2"/>
<circle cx="875.6" cy="204.8" r="3.2"/>
<circle cx="769.6" cy="166.0" r="3.2"/>
<circle cx="782.1" cy="128.3" r="3.2"/>
<circle cx="882.3" cy="203.7" r="3.2"/>
<circle cx="826.5" cy="161.9" r="3.2"/>
<circle cx="768.0" cy="202.2" r="3.2"/>
<circle cx="847.4" cy="172.7" r="3.2"/>
<circle cx="762.5" cy="107.7" r="3.2"/>
<circle cx="820.6" cy="145.1" r="3.2"/>
<circle cx="758.3" cy="189.2" r="3.2"/>
<circle cx="756.6" cy="108.8" r="3.2"/>
<circle cx="809.0" cy="156.4" r="3.2"/>
<circle cx="879.9" cy="213.1" r="3.2"/>
<circle cx="847.5" cy="145.8" r="3.2"/>
<circle cx="835.2" cy="158.7" r="3.2"/>
<circle cx="823.3" cy="156.0" r="3.2"/>
<circle cx="786.6" cy="157.8" r="3.2"/>
<circle cx="753.3" cy="177.0" r="3.2"/>
<circle cx="837.7" cy="148.4" r="3.2"/>
<circle cx="810.8" cy="183.9" r="3.2"/>
<circle cx="857.0" cy="139.9" r="3.2"/>
<circle cx="883.6" cy="162.2" r="3.2"/>
<circle cx="809.4" cy="181.4" r="3.2"/>
<circle cx="874.8" cy="136.6" r="3.2"/>
<circle cx="798.2" cy="175.3" r="3.2"/>
<circle cx="801.2" cy="149.0" r="3.2"/>
<circle cx="788.6" cy="209.1" r="3.2"/>
<circle cx="815.0" cy="207.4" r="3.2"/>
<circle cx="781.9" cy="118.8" r="3.2"/>
<circle cx="764.6" cy="145.6" r="3.2"/>
<circle cx="758.5" cy="202.5" r="3.2"/>
<circle cx="776.4" cy="177.3" r="3.2"/>
<circle cx="848.5" cy="187.9" r="3.2"/>
<circle cx="834.0" cy="209.3" r="3.2"/>
<circle cx="750.4" cy="176.9" r="3.2"/>
<circle cx="878.0" cy="159.9" r="3.2"/>
<circle cx="875.5" cy="177.5" r="3.2"/>
<circle cx="858.3" cy="175.5" r="3.2"/>
<circle cx="809.4" cy="154.6" r="3.2"/>
<circle cx="778.7" cy="130.6" r="3.2"/>
<circle cx="850.3" cy="182.2" r="3.2"/>
<circle cx="863.7" cy="141.6" r="3.2"/>
<circle cx="774.6" cy="149.4" r="3.2"/>
<circle cx="843.4" cy="222.6" r="3.2"/>
<circle cx="782.6" cy="217.8" r="3.2"/>
<circle cx="864.9" cy="143.5" r="3.2"/>
<circle cx="862.7" cy="214.8" r="3.2"/>
<circle cx="813.9" cy="205.5" r="3.2"/>
<circle cx="769.6" cy="135.9" r="3.2"/>
<circle cx="755.8" cy="127.7" r="3.2"/>
<circle cx="781.8" cy="145.0" r="3.2"/>
<circle cx="766.6" cy="154.1" r="3.2"/>
<circle cx="871.4" cy="163.2" r="3.2"/>
<circle cx="762.0" cy="176.8" r="3.2"/>
<circle cx="800.1" cy="146.9" r="3.2"/>
<circle cx="836.5" cy="210.5" r="3.2"/>
<circle cx="864.7" cy="148.5" r="3.2"/>
<circle cx="840.3" cy="205.1" r="3.2"/>
<circle cx="873.9" cy="205.6" r="3.2"/>
<circle cx="828.5" cy="154.1" r="3.2"/>
<circle cx="871.2" cy="189.2" r="3.2"/>
<circle cx="781.3" cy="203.7" r="3.2"/>
<circle cx="865.4" cy="159.9" r="3.2"/>
<circle cx="856.0" cy="212.3" r="3.2"/>
<circle cx="879.3" cy="204.2" r="3.2"/>
<circle cx="758.5" cy="135.2" r="3.2"/>
<circle cx="786.7" cy="207.8" r="3.2"/>
<circle cx="832.1" cy="171.5" r="3.2"/>
<circle cx="777.5" cy="145.9" r="3.2"/>
<circle cx="829.4" cy="213.6" r="3.2"/>
<circle cx="828.6" cy="150.6" r="3.2"/>
<circle cx="754.2" cy="169.6" r="3.2"/>
<circle cx="882.5" cy="110.4" r="3.2"/>
<circle cx="875.1" cy="235.5" r="3.2"/>
<circle cx="762.3" cy="217.8" r="3.2"/>
<circle cx="874.0" cy="160.1" r="3.2"/>
<circle cx="864.6" cy="181.6" r="3.2"/>
<circle cx="825.7" cy="164.7" r="3.2"/>
<circle cx="826.4" cy="212.4" r="3.2"/>
<circle cx="880.9" cy="222.4" r="3.2"/>
<circle cx="783.7" cy="112.0" r="3.2"/>
<circle cx="768.3" cy="128.1" r="3.2"/>
<circle cx="775.5" cy="212.1" r="3.2"/>
<circle cx="801.4" cy="166.5" r="3.2"/>
<circle cx="769.1" cy="176.9" r="3.2"/>
<circle cx="772.1" cy="199.8" r="3.2"/>
<circle cx="832.4" cy="179.5" r="3.2"/>
<circle cx="880.4" cy="224.9" r="3.2"/>
<circle cx="763.3" cy="194.2" r="3.2"/>
<circle cx="828.7" cy="186.7" r="3.2"/>
<circle cx="757.7" cy="194.1" r="3.2"/>
<circle cx="854.7" cy="158.2" r="3.2"/>
<circle cx="855.1" cy="147.3" r="3.2"/>
<circle cx="813.9" cy="208.5" r="3.2"/>
<circle cx="756.4" cy="128.3" r="3.2"/>
<circle cx="843.1" cy="154.3" r="3.2"/>
<circle cx="797.4" cy="167.4" r="3.2"/>
<circle cx="811.8" cy="159.4" r="3.2"/>
<circle cx="880.7" cy="169.4" r="3.2"/>
<circle cx="769.8" cy="139.0" r="3.2"/>
<circle cx="786.3" cy="164.6" r="3.2"/>
<circle cx="817.0" cy="183.2" r="3.2"/>
<circle cx="760.9" cy="144.5" r="3.2"/>
<circle cx="756.7" cy="137.1" r="3.2"/>
<circle cx="867.0" cy="139.7" r="3.2"/>
<circle cx="791.3" cy="140.6" r="3.2"/>
<circle cx="762.9" cy="149.2" r="3.2"/>
<circle cx="867.3" cy="205.4" r="3.2"/>
<circle cx="812.5" cy="191.6" r="3.2"/>
<circle cx="765.1" cy="143.0" r="3.2"/>
<circle cx="853.4" cy="176.3" r="3.2"/>
<circle cx="875.1" cy="211.7" r="3.2"/>
<circle cx="865.3" cy="170.8" r="3.2"/>
<circle cx="838.1" cy="141.0" r="3.2"/>
<circle cx="876.0" cy="205.2" r="3.2"/>
<circle cx="837.7" cy="172.4" r="3.2"/>
<circle cx="749.7" cy="183.7" r="3.2"/>
<circle cx="880.1" cy="242.9" r="3.2"/>
<circle cx="846.3" cy="198.4" r="3.2"/>
<circle cx="822.2" cy="190.1" r="3.2"/>
<circle cx="850.3" cy="154.5" r="3.2"/>
<circle cx="755.9" cy="219.7" r="3.2"/>
<circle cx="786.0" cy="177.5" r="3.2"/>
<circle cx="792.8" cy="120.3" r="3.2"/>
<circle cx="776.8" cy="155.3" r="3.2"/>
<circle cx="768.0" cy="107.5" r="3.2"/>
<circle cx="760.5" cy="166.9" r="3.2"/>
<circle cx="758.2" cy="168.7" r="3.2"/>
<circle cx="805.1" cy="201.4" r="3.2"/>
<circle cx="801.2" cy="203.5" r="3.2"/>
<circle cx="772.9" cy="104.6" r="3.2"/>
<circle cx="860.0" cy="210.0" r="3.2"/>
<circle cx="792.7" cy="152.3" r="3.2"/>
<circle cx="870.7" cy="198.7" r="3.2"/>
<circle cx="873.3" cy="170.2" r="3.2"/>
<circle cx="765.2" cy="170.7" r="3.2"/>
<circle cx="766.4" cy="209.1" r="3.2"/>
<circle cx="842.4" cy="186.0" r="3.2"/>
<circle cx="841.6" cy="210.1" r="3.2"/>
<circle cx="776.8" cy="166.4" r="3.2"/>
<circle cx="864.1" cy="140.0" r="3.2"/>
<circle cx="811.7" cy="189.3" r="3.2"/>
<circle cx="790.1" cy="162.3" r="3.2"/>
<circle cx="778.1" cy="221.0" r="3.2"/>
<circle cx="765.0" cy="110.2" r="3.2"/>
<circle cx="834.6" cy="178.5" r="3.2"/>
<circle cx="830.6" cy="208.5" r="3.2"/>
<circle cx="844.1" cy="173.8" r="3.2"/>
<circle cx="864.3" cy="147.8" r="3.2"/>
<circle cx="883.5" cy="257.5" r="3.2"/>
<circle cx="786.7" cy="172.0" r="3.2"/>
<circle cx="849.2" cy="211.0" r="3.2"/>
<circle cx="881.7" cy="166.7" r="3.2"/>
<circle cx="847.4" cy="168.9" r="3.2"/>
<circle cx="882.5" cy="130.5" r="3.2"/>
<circle cx="876.6" cy="227.7" r="3.2"/>
<circle cx="765.3" cy="119.9" r="3.2"/>
<circle cx="861.3" cy="178.8" r="3.2"/>
<circle cx="814.0" cy="203.4" r="3.2"/>
<circle cx="784.8" cy="112.2" r="3.2"/>
<circle cx="780.3" cy="158.5" r="3.2"/>
<circle cx="867.4" cy="191.6" r="3.2"/>
<circle cx="838.2" cy="192.5" r="3.2"/>
<circle cx="824.2" cy="185.6" r="3.2"/>
<circle cx="784.0" cy="171.4" r="3.2"/>
<circle cx="871.8" cy="165.1" r="3.2"/>
<circle cx="781.6" cy="108.3" r="3.2"/>
<circle cx="769.5" cy="206.6" r="3.2"/>
<circle cx="798.4" cy="194.3" r="3.2"/>
<circle cx="771.5" cy="169.8" r="3.2"/>
<circle cx="877.6" cy="191.0" r="3.2"/>
<circle cx="819.9" cy="160.6" r="3.2"/>
<circle cx="765.3" cy="196.6" r="3.2"/>
<circle cx="836.1" cy="222.1" r="3.2"/>
<circle cx="795.7" cy="194.5" r="3.2"/>
<circle cx="767.3" cy="205.1" r="3.2"/>
<circle cx="783.0" cy="106.7" r="3.2"/>
<circle cx="776.8" cy="142.5" r="3.2"/>
<circle cx="862.3" cy="159.2" r="3.2"/>
<circle cx="779.2" cy="120.9" r="3.2"/>
<circle cx="767.5" cy="131.2" r="3.2"/>
<circle cx="841.9" cy="188.6" r="3.2"/>
<circle cx="849.6" cy="153.9" r="3.2"/>
<circle cx="808.8" cy="178.7" r="3.2"/>
<circle cx="800.1" cy="193.4" r="3.2"/>
<circle cx="868.6" cy="163.7" r="3.2"/>
<circle cx="847.7" cy="169.8" r="3.2"/>
<circle cx="785.7" cy="124.9" r="3.2"/>
<circle cx="788.1" cy="203.7" r="3.2"/>
<circle cx="764.3" cy="126.2" r="3.2"/>
<circle cx="791.8" cy="122.6" r="3.2"/>
<circle cx="870.9" cy="216.8" r="3.2"/>
<circle cx="881.4" cy="114.5" r="3.2"/>
<circle cx="758.8" cy="198.8" r="3.2"/>
<circle cx="760.8" cy="129.8" r="3.2"/>
<circle cx="783.1" cy="176.8" r="3.2"/>
<circle cx="845.3" cy="199.2" r="3.2"/>
<circle cx="841.4" cy="222.8" r="3.2"/>
<circle cx="787.8" cy="138.9" r="3.2"/>
<circle cx="876.4" cy="237.1" r="3.2"/>
<circle cx="847.2" cy="223.9" r="3.2"/>
<circle cx="878.7" cy="209.6" r="3.2"/>
<circle cx="800.6" cy="170.1" r="3.2"/>
<circle cx="832.8" cy="205.3" r="3.2"/>
<circle cx="753.5" cy="149.3" r="3.2"/>
<circle cx="802.1" cy="178.0" r="3.2"/>
<circle cx="761.9" cy="183.1" r="3.2"/>
<circle cx="843.7" cy="139.8" r="3.2"/>
<circle cx="811.2" cy="178.8" r="3.2"/>
<circle cx="856.8" cy="187.1" r="3.2"/>
<circle cx="834.1" cy="171.1" r="3.2"/>
<circle cx="805.6" cy="178.8" r="3.2"/>
<circle cx="881.9" cy="93.0" r="3.2"/>
<circle cx="786.2" cy="133.2" r="3.2"/>
<circle cx="773.0" cy="122.1" r="3.2"/>
<circle cx="823.4" cy="214.2" r="3.2"/>
<circle cx="752.1" cy="186.3" r="3.2"/>
<circle cx="855.4" cy="143.3" r="3.2"/>
<circle cx="872.0" cy="223.4" r="3.2"/>
<circle cx="754.8" cy="155.1" r="3.2"/>
<circle cx="783.0" cy="180.3" r="3.2"/>
<circle cx="790.9" cy="131.6" r="3.2"/>
<circle cx="828.1" cy="167.0" r="3.2"/>
<circle cx="835.5" cy="139.3" r="3.2"/>
<circle cx="826.2" cy="203.1" r="3.2"/>
<circle cx="791.7" cy="176.2" r="3.2"/>
<circle cx="820.1" cy="149.1" r="3.2"/>
<circle cx="767.7" cy="139.3" r="3.2"/>
<circle cx="754.6" cy="131.0" r="3.2"/>
<circle cx="848.9" cy="189.8" r="3.2"/>
<circle cx="880.2" cy="196.2" r="3.2"/>
<circle cx="832.5" cy="189.4" r="3.2"/>
<circle cx="767.8" cy="106.7" r="3.2"/>
<circle cx="835.8" cy="140.1" r="3.2"/>
<circle cx="760.8" cy="197.8" r="3.2"/>
<circle cx="855.0" cy="209.4" r="3.2"/>
<circle cx="825.9" cy="162.4" r="3.2"/>
<circle cx="842.7" cy="193.6" r="3.2"/>
<circle cx="807.7" cy="164.5" r="3.2"/>
<circle cx="811.2" cy="198.8" r="3.2"/>
<circle cx="882.8" cy="266.7" r="3.2"/>
<circle cx="883.6" cy="259.9" r="3.2"/>
<circle cx="816.6" cy="178.1" r="3.2"/>
<circle cx="824.9" cy="146.0" r="3.2"/>
<circle cx="854.8" cy="146.1" r="3.2"/>
<circle cx="824.3" cy="142.1" r="3.2"/>
<circle cx="797.5" cy="182.3" r="3.2"/>
<circle cx="781.8" cy="178.3" r="3.2"/>
<circle cx="774.6" cy="162.9" r="3.2"/>
<circle cx="769.0" cy="193.9" r="3.2"/>
<circle cx="772.0" cy="120.7" r="3.2"/>
<circle cx="793.7" cy="118.3" r="3.2"/>
<circle cx="842.2" cy="187.7" r="3.2"/>
<circle cx="763.6" cy="136.7" r="3.2"/>
<circle cx="758.0" cy="213.0" r="3.2"/>
<circle cx="763.7" cy="137.8" r="3.2"/>
<circle cx="768.4" cy="174.5" r="3.2"/>
<circle cx="837.9" cy="140.9" r="3.2"/>
<circle cx="782.3" cy="150.2" r="3.2"/>
<circle cx="810.0" cy="165.6" r="3.2"/>
<circle cx="878.6" cy="231.5" r="3.2"/>
<circle cx="803.2" cy="165.8" r="3.2"/>
<circle cx="750.7" cy="173.3" r="3.2"/>
<circle cx="853.4" cy="157.0" r="3.2"/>
<circle cx="880.4" cy="242.3" r="3.2"/>
<circle cx="789.6" cy="187.3" r="3.2"/>
<circle cx="868.1" cy="147.2" r="3.2"/>
<circle cx="852.4" cy="178.7" r="3.2"/>
<circle cx="843.7" cy="202.8" r="3.2"/>
<circle cx="759.3" cy="115.6" r="3.2"/>
<circle cx="753.9" cy="125.6" r="3.2"/>
<circle cx="874.5" cy="231.4" r="3.2"/>
<circle cx="817.7" cy="198.0" r="3.2"/>
<circle cx="778.0" cy="174.7" r="3.2"/>
<circle cx="770.1" cy="159.1" r="3.2"/>
<circle cx="883.9" cy="107.5" r="3.2"/>
<circle cx="775.4" cy="117.0" r="3.2"/>
<circle cx="772.7" cy="137.9" r="3.2"/>
<circle cx="842.6" cy="183.5" r="3.2"/>
<circle cx="826.3" cy="169.8" r="3.2"/>
<circle cx="807.1" cy="192.0" r="3.2"/>
<circle cx="774.5" cy="123.1" r="3.2"/>
<circle cx="838.6" cy="215.2" r="3.2"/>
<circle cx="760.6" cy="179.7" r="3.2"/>
<circle cx="818.2" cy="166.6" r="3.2"/>
<circle cx="795.8" cy="199.1" r="3.2"/>
<circle cx="763.5" cy="105.2" r="3.2"/>
<circle cx="879.5" cy="127.6" r="3.2"/>
<circle cx="874.6" cy="176.7" r="3.2"/>
<circle cx="858.8" cy="201.6" r="3.2"/>
<circle cx="814.1" cy="153.7" r="3.2"/>
<circle cx="767.7" cy="221.8" r="3.2"/>
<circle cx="880.3" cy="128.1" r="3.2"/>
<circle cx="768.1" cy="141.3" r="3.2"/>
<circle cx="756.1" cy="142.8" r="3.2"/>
<circle cx="854.6" cy="144.3" r="3.2"/>
<circle cx="755.6" cy="114.7" r="3.2"/>
<circle cx="812.1" cy="187.3" r="3.2"/>
<circle cx="753.0" cy="116.6" r="3.2"/>
<circle cx="778.0" cy="122.9" r="3.2"/>
<circle cx="789.5" cy="174.0" r="3.2"/>
<circle cx="868.3" cy="160.0" r="3.2"/>
<circle cx="826.2" cy="159.4" r="3.2"/>
<circle cx="770.9" cy="138.2" r="3.2"/>
<circle cx="778.0" cy="176.6" r="3.2"/>
<circle cx="807.7" cy="191.2" r="3.2"/>
<circle cx="867.8" cy="145.1" r="3.2"/>
<circle cx="798.5" cy="202.6" r="3.2"/>
<circle cx="783.4" cy="125.9" r="3.2"/>
<circle cx="787.2" cy="128.5" r="3.2"/>
<circle cx="863.1" cy="225.9" r="3.2"/>
<circle cx="775.3" cy="178.4" r="3.2"/>
<circle cx="777.7" cy="143.5" r="3.2"/>
<circle cx="861.5" cy="174.8" r="3.2"/>
<circle cx="763.0" cy="168.2" r="3.2"/>
<circle cx="775.9" cy="175.9" r="3.2"/>
<circle cx="809.8" cy="197.4" r="3.2"/>
<circle cx="820.7" cy="187.7" r="3.2"/>
<circle cx="786.8" cy="127.2" r="3.2"/>
<circle cx="843.9" cy="190.3" r="3.2"/>
<circle cx="865.0" cy="155.7" r="3.2"/>
<circle cx="755.9" cy="145.1" r="3.2"/>
<circle cx="754.5" cy="155.6" r="3.2"/>
<circle cx="821.5" cy="204.7" r="3.2"/>
<circle cx="834.0" cy="162.3" r="3.2"/>
<circle cx="788.4" cy="172.8" r="3.2"/>
<circle cx="871.3" cy="144.2" r="3.2"/>
<circle cx="868.1" cy="190.0" r="3.2"/>
<circle cx="770.2" cy="133.6" r="3.2"/>
<circle cx="773.2" cy="111.0" r="3.2"/>
<circle cx="749.4" cy="153.4" r="3.2"/>
<circle cx="789.1" cy="120.5" r="3.2"/>
<circle cx="870.5" cy="196.5" r="3.2"/>
<circle cx="883.7" cy="165.4" r="3.2"/>
<circle cx="837.0" cy="185.1" r="3.2"/>
<circle cx="758.8" cy="196.2" r="3.2"/>
<circle cx="813.2" cy="180.3" r="3.2"/>
<circle cx="829.4" cy="189.8" r="3.2"/>
<circle cx="773.9" cy="164.1" r="3.2"/>
<circle cx="831.0" cy="220.3" r="3.2"/>
<circle cx="836.7" cy="188.1" r="3.2"/>
<circle cx="832.8" cy="174.2" r="3.2"/>
<circle cx="827.8" cy="148.5" r="3.2"/>
<circle cx="772.3" cy="154.2" r="3.2"/>
<circle cx="767.4" cy="164.9" r="3.2"/>
<circle cx="881.8" cy="120.2" r="3.2"/>
<circle cx="776.6" cy="179.6" r="3.2"/>
<circle cx="782.5" cy="123.8" r="3.2"/>
<circle cx="857.2" cy="151.5" r="3.2"/>
<circle cx="847.0" cy="215.2" r="3.2"/>
<circle cx="818.6" cy="174.2" r="3.2"/>
<circle cx="870.7" cy="225.0" r="3.2"/>
<circle cx="807.8" cy="179.7" r="3.2"/>
<circle cx="860.8" cy="145.8" r="3.2"/>
<circle cx="868.4" cy="161.3" r="3.2"/>
<circle cx="817.0" cy="197.4" r="3.2"/>
<circle cx="832.5" cy="147.3" r="3.2"/>
<circle cx="877.3" cy="142.4" r="3.2"/>
<circle cx="820.8" cy="176.0" r="3.2"/>
<circle cx="848.5" cy="166.9" r="3.2"/>
<circle cx="861.6" cy="189.6" r="3.2"/>
<circle cx="770.3" cy="114.9" r="3.2"/>
<circle cx="791.0" cy="197.9" r="3.2"/>
<circle cx="838.9" cy="150.6" r="3.2"/>
<circle cx="756.5" cy="123.3" r="3.2"/>
<circle cx="863.0" cy="210.6" r="3.2"/>
<circle cx="879.2" cy="223.8" r="3.2"/>
<circle cx="789.8" cy="223.4" r="3.2"/>
<circle cx="784.7" cy="212.7" r="3.2"/>
<circle cx="776.1" cy="153.7" r="3.2"/>
<circle cx="834.3" cy="146.2" r="3.2"/>
<circle cx="835.6" cy="193.3" r="3.2"/>
<circle cx="865.8" cy="197.7" r="3.2"/>
<circle cx="754.7" cy="164.7" r="3.2"/>
<circle cx="874.8" cy="153.6" r="3.2"/>
<circle cx="763.1" cy="190.6" r="3.2"/>
<circle cx="761.1" cy="128.3" r="3.2"/>
<circle cx="879.1" cy="210.3" r="3.2"/>
<circle cx="815.1" cy="151.9" r="3.2"/>
<circle cx="769.8" cy="219.6" r="3.2"/>
<circle cx="884.0" cy="260.7" r="3.2"/>
<circle cx="883.6" cy="129.5" r="3.2"/>
<circle cx="805.8" cy="171.9" r="3.2"/>
<circle cx="762.1" cy="223.2" r="3.2"/>
<circle cx="759.4" cy="215.9" r="3.2"/>
<circle cx="759.0" cy="211.6" r="3.2"/>
<circle cx="751.4" cy="176.8" r="3.2"/>
<circle cx="774.9" cy="120.6" r="3.2"/>
<circle cx="773.2" cy="173.6" r="3.2"/>
<circle cx="857.6" cy="213.1" r="3.2"/>
<circle cx="847.5" cy="200.7" r="3.2"/>
<circle cx="858.9" cy="216.9" r="3.2"/>
<circle cx="851.7" cy="222.7" r="3.2"/>
<circle cx="864.2" cy="151.5" r="3.2"/>
<circle cx="876.4" cy="145.1" r="3.2"/>
<circle cx="774.2" cy="199.2" r="3.2"/>
<circle cx="798.0" cy="143.0" r="3.2"/>
<circle cx="763.1" cy="189.0" r="3.2"/>
<circle cx="749.1" cy="146.4" r="3.2"/>
<circle cx="820.5" cy="160.9" r="3.2"/>
<circle cx="771.0" cy="172.2" r="3.2"/>
<circle cx="768.1" cy="160.0" r="3.2"/>
<circle cx="799.8" cy="186.8" r="3.2"/>
<circle cx="839.8" cy="150.2" r="3.2"/>
<circle cx="822.3" cy="186.6" r="3.2"/>
<circle cx="853.5" cy="189.6" r="3.2"/>
<circle cx="845.1" cy="210.4" r="3.2"/>
<circle cx="850.9" cy="198.0" r="3.2"/>
<circle cx="781.6" cy="124.1" r="3.2"/>
<circle cx="757.1" cy="222.9" r="3.2"/>
<circle cx="785.2" cy="141.1" r="3.2"/>
<circle cx="824.7" cy="216.7" r="3.2"/>
<circle cx="785.2" cy="127.6" r="3.2"/>
<circle cx="781.4" cy="203.9" r="3.2"/>
<circle cx="876.0" cy="171.6" r="3.2"/>
<circle cx="790.6" cy="184.3" r="3.2"/>
<circle cx="838.2" cy="196.5" r="3.2"/>
<circle cx="753.7" cy="214.1" r="3.2"/>
<circle cx="812.0" cy="188.6" r="3.2"/>
<circle cx="770.4" cy="128.2" r="3.2"/>
<circle cx="786.6" cy="197.5" r="3.2"/>
<circle cx="847.6" cy="185.2" r="3.2"/>
<circle cx="799.5" cy="199.7" r="3.2"/>
<circle cx="852.4" cy="215.7" r="3.2"/>
<circle cx="820.5" cy="175.9" r="3.2"/>
<circle cx="782.3" cy="162.2" r="3.2"/>
<circle cx="839.3" cy="166.3" r="3.2"/>
<circle cx="767.4" cy="111.0" r="3.2"/>
<circle cx="786.3" cy="116.6" r="3.2"/>
<circle cx="797.4" cy="200.3" r="3.2"/>
<circle cx="755.4" cy="169.6" r="3.2"/>
<circle cx="786.4" cy="203.4" r="3.2"/>
<circle cx="770.6" cy="209.1" r="3.2"/>
<circle cx="754.0" cy="213.9" r="3.2"/>
<circle cx="878.1" cy="132.3" r="3.2"/>
<circle cx="774.8" cy="163.5" r="3.2"/>
<circle cx="819.3" cy="159.8" r="3.2"/>
<circle cx="784.5" cy="221.3" r="3.2"/>
<circle cx="869.4" cy="197.4" r="3.2"/>
<circle cx="876.2" cy="227.5" r="3.2"/>
<circle cx="862.0" cy="224.9" r="3.2"/>
<circle cx="755.7" cy="147.7" r="3.2"/>
<circle cx="793.8" cy="121.2" r="3.2"/>
<circle cx="825.4" cy="190.0" r="3.2"/>
<circle cx="812.2" cy="182.2" r="3.2"/>
<circle cx="872.7" cy="177.1" r="3.2"/>
<circle cx="786.1" cy="188.5" r="3.2"/>
<circle cx="764.3" cy="181.7" r="3.2"/>
<circle cx="762.1" cy="186.3" r="3.2"/>
<circle cx="807.7" cy="149.8" r="3.2"/>
<circle cx="855.7" cy="183.7" r="3.2"/>
<circle cx="883.8" cy="137.5" r="3.2"/>
<circle cx="823.0" cy="179.1" r="3.2"/>
<circle cx="853.7" cy="202.8" r="3.2"/>
<circle cx="796.9" cy="186.0" r="3.2"/>
<circle cx="753.1" cy="172.6" r="3.2"/>
<circle cx="879.5" cy="130.8" r="3.2"/>
<circle cx="773.2" cy="109.8" r="3.2"/>
<circle cx="779.0" cy="210.4" r="3.2"/>
<circle cx="752.6" cy="186.2" r="3.2"/>
<circle cx="765.1" cy="159.8" r="3.2"/>
<circle cx="852.7" cy="155.7" r="3.2"/>
<circle cx="775.9" cy="113.9" r="3.2"/>
<circle cx="829.9" cy="186.8" r="3.2"/>
<circle cx="777.7" cy="175.3" r="3.2"/>
<circle cx="773.0" cy="136.7" r="3.2"/>
<circle cx="780.5" cy="156.8" r="3.2"/>
<circle cx="778.7" cy="209.7" r="3.2"/>
<circle cx="808.6" cy="207.3" r="3.2"/>
<circle cx="768.9" cy="205.6" r="3.2"/>
<circle cx="774.6" cy="138.4" r="3.2"/>
<circle cx="831.0" cy="158.9" r="3.2"/>
<circle cx="768.1" cy="145.2" r="3.2"/>
<circle cx="761.3" cy="186.9" r="3.2"/>
<circle cx="844.8" cy="217.6" r="3.2"/>
<circle cx="860.7" cy="162.4" r="3.2"/>
<circle cx="865.9" cy="145.9" r="3.2"/>
<circle cx="863.6" cy="181.8" r="3.2"/>
<circle cx="795.3" cy="176.7" r="3.2"/>
<circle cx="838.9" cy="147.1" r="3.2"/>
<circle cx="880.1" cy="154.8" r="3.2"/>
<circle cx="853.2" cy="219.3" r="3.2"/>
<circle cx="753.1" cy="188.2" r="3.2"/>
<circle cx="755.1" cy="193.2" r="3.2"/>
<circle cx="878.1" cy="190.1" r="3.2"/>
<circle cx="832.5" cy="199.8" r="3.2"/>
<circle cx="781.5" cy="215.3" r="3.2"/>
<circle cx="827.3" cy="163.1" r="3.2"/>
<circle cx="761.2" cy="161.2" r="3.2"/>
<circle cx="881.2" cy="250.0" r="3.2"/>
<circle cx="788.7" cy="213.5" r="3.2"/>
<circle cx="758.7" cy="132.5" r="3.2"/>
<circle cx="823.9" cy="152.9" r="3.2"/>
<circle cx="811.8" cy="147.6" r="3.2"/>
<circle cx="842.2" cy="199.8" r="3.2"/>
<circle cx="838.1" cy="140.5" r="3.2"/>
<circle cx="870.4" cy="213.3" r="3.2"/>
<circle cx="861.5" cy="157.5" r="3.2"/>
<circle cx="777.0" cy="195.0" r="3.2"/>
<circle cx="825.2" cy="196.1" r="3.2"/>
<circle cx="834.1" cy="163.6" r="3.2"/>
<circle cx="879.4" cy="236.0" r="3.2"/>
<circle cx="774.6" cy="213.4" r="3.2"/>
<circle cx="750.1" cy="153.1" r="3.2"/>
<circle cx="850.1" cy="220.0" r="3.2"/>
<circle cx="797.3" cy="196.1" r="3.2"/>
<circle cx="832.8" cy="214.4" r="3.2"/>
<circle cx="757.6" cy="165.9" r="3.2"/>
<circle cx="878.1" cy="204.4" r="3.2"/>
<circle cx="773.7" cy="124.9" r="3.2"/>
<circle cx="857.0" cy="209.0" r="3.2"/>
<circle cx="760.9" cy="180.8" r="3.2"/>
<circle cx="871.2" cy="162.3" r="3.2"/>
<circle cx="774.2" cy="119.5" r="3.2"/>
<circle cx="779.8" cy="200.8" r="3.2"/>
<circle cx="808.5" cy="153.9" r="3.2"/>
<circle cx="843.3" cy="180.1" r="3.2"/>
<circle cx="882.2" cy="129.9" r="3.2"/>
</g>
<path d="M107.0,115.6 L108.5,115.5 L110.0,115.3 L111.5,115.1 L113.0,114.9 L114.5,114.7 L116.0,114.5 L117.5,114.3 L119.0,114.0 L120.5,113.7 L122.0,113.3 L123.5,112.9 L125.0,112.4 L126.5,111.9 L128.0,111.4 L129.5,110.9 L131.0,110.4 L132.5,109.9 L134.0,109.5 L135.5,109.0 L137.0,108.5 L138.5,107.9 L140.0,107.2 L141.5,106.5 L143.0,105.7 L144.5,104.7 L146.0,103.8 L147.5,102.9 L149.0,102.0 L150.5,101.0 L152.0,100.1 L153.5,99.2 L155.0,98.3 L156.5,97.4 L158.0,96.4 L159.5,95.4 L161.0,94.3 L162.5,93.1 L164.0,91.9 L165.5,90.7 L167.0,89.5 L168.5,88.3 L170.0,87.1 L171.5,85.8 L173.0,84.7 L174.5,83.7 L176.0,82.8 L177.5,82.1 L179.0,81.5 L180.5,80.9 L182.0,80.3 L183.5,79.7 L185.0,79.1 L186.5,78.6 L188.0,78.1 L189.5,77.9 L191.0,77.8 L192.5,78.0 L194.0,78.3 L195.5,78.7 L197.0,79.2 L198.5,79.7 L200.0,80.5 L201.5,81.4 L203.0,82.4 L204.5,83.6 L206.0,84.8 L207.5,86.0 L209.0,87.2 L210.5,88.4 L212.0,89.6 L213.5,90.7 L215.0,91.6 L216.5,92.4 L218.0,93.1 L219.5,93.7 L221.0,94.2 L222.5,94.8 L224.0,95.3 L225.5,95.8 L227.0,96.4 L228.5,96.8 L230.0,97.0 L231.5,97.1 L233.0,97.0 L234.5,96.8 L236.0,96.6 L237.5,96.3 L239.0,95.8 L240.5,95.1 L242.0,94.2 L243.5,93.1 L245.0,91.9 L246.5,90.6 L248.0,89.4 L249.5,88.2 L251.0,87.0 L252.5,85.9 L254.0,84.7 L255.5,83.6 L257.0,82.5 L258.5,81.5 L260.0,80.6 L261.5,79.8 L263.0,79.1 L264.5,78.5 L266.0,77.8 L267.5,77.2 L269.0,76.7 L270.5,76.3 L272.0,75.9 L273.5,75.6 L275.0,75.4 L276.5,75.2 L278.0,75.0 L279.5,75.1 L281.0,75.3 L282.5,75.7 L284.0,76.2 L285.5,76.9 L287.0,77.5 L288.5,78.2 L290.0,78.9 L291.5,79.7 L293.0,80.7 L294.5,81.6 L296.0,82.6 L297.5,83.6 L299.0,84.4 L300.5,85.2 L302.0,86.0 L303.5,86.6 L305.0,87.2 L306.5,87.9 L308.0,88.3 L309.5,88.6 L311.0,88.7 L312.5,88.6 L314.0,88.3 L315.5,88.0 L317.0,87.6 L318.5,87.3 L320.0,87.0 L321.5,86.8 L323.0,86.6 L324.5,86.5 L326.0,86.4 L327.5,86.4 L329.0,86.9 L330.5,87.8 L332.0,89.3 L333.5,91.2 L335.0,93.4 L336.5,95.6 L338.0,97.8 L339.5,99.8 L341.0,101.8 L342.5,103.6 L344.0,105.4 L345.5,107.1 L347.0,108.8 L348.5,110.5 L350.0,112.0 L351.5,113.4 L353.0,114.7 L354.5,115.9 L356.0,117.1 L357.5,118.3 L359.0,119.4 L360.5,120.5 L362.0,121.5 L363.5,122.4 L365.0,123.3 L366.5,124.2 L368.0,125.1 L369.5,126.0 L371.0,126.9 L372.5,127.7 L374.0,128.4 L375.5,129.0 L377.0,129.3 L378.5,129.5 L380.0,129.6 L381.5,129.7 L383.0,129.8 L384.5,129.9 L386.0,130.0 L387.5,130.0 L389.0,130.0 L390.5,129.9 L392.0,129.7 L393.5,129.4 L395.0,129.1 L396.5,128.8 L398.0,128.4 L399.5,128.1 L401.0,127.8 L402.5,127.5 L404.0,127.1 L405.5,126.8 L407.0,126.5 L408.5,126.1 L410.0,125.8 L411.5,125.5 L413.0,125.1 L414.5,124.8 L416.0,124.5 L417.5,124.2 L419.0,123.8 L420.5,123.6 L422.0,123.3 L423.5,123.0 L425.0,122.8 L426.5,122.5 L428.0,122.3 L429.5,122.0 L431.0,121.8 L432.5,121.5 L434.0,121.4 L435.5,121.3 L437.0,121.3 L438.5,121.3 L440.0,121.4 L441.5,121.5 L443.0,121.6 L444.5,121.7 L446.0,121.8 L447.5,121.9 L449.0,122.0 L450.5,122.3 L452.0,122.6 L453.5,123.0 L455.0,123.4 L456.5,123.8 L458.0,124.2 L459.5,124.6 L461.0,125.0 L462.5,125.4 L464.0,125.9 L465.5,126.4 L467.0,126.9 L468.5,127.4 L470.0,128.0 L471.5,128.6 L473.0,129.1 L474.5,129.7 L476.0,130.3 L477.5,130.8 L479.0,131.2 L480.5,131.5 L482.0,131.6 L483.5,131.6 L485.0,131.5 L486.5,131.5 L488.0,131.4 L489.5,131.3 L491.0,131.2 L492.5,131.1 L494.0,130.9 L495.5,130.5 L497.0,130.0 L498.5,129.5 L500.0,128.8 L501.5,128.1 L503.0,127.5 L504.5,126.8 L506.0,126.2 L507.5,125.5 L509.0,124.9 L510.5,124.2 L512.0,123.6 L513.5,123.0 L515.0,122.4 L516.5,121.7 L518.0,121.1 L519.5,120.4 L521.0,119.7 L522.5,118.9 L524.0,118.0 L525.5,117.2 L527.0,116.3 L528.5,115.5 L530.0,114.6 L531.5,113.8 L533.0,113.0 L534.5,112.3 L536.0,111.7 L537.5,111.1 L539.0,110.7 L540.5,110.3 L542.0,109.9 L543.5,109.5 L545.0,109.1 L546.5,108.7 L548.0,108.3 L549.5,108.2 L551.0,108.1 L552.5,108.2 L554.0,108.5 L555.5,108.8 L557.0,109.1 L558.5,109.4 L560.0,109.7 L561.5,110.0 L563.0,110.4 L564.5,110.8 L566.0,111.3 L567.5,111.9 L569.0,112.6 L570.5,113.3 L572.0,114.1 L573.5,114.8 L575.0,115.5 L576.5,116.2 L578.0,116.9 L579.5,117.6 L581.0,118.3 L582.5,119.0 L584.0,119.7 L585.5,120.4 L587.0,121.1 L588.5,121.7 L590.0,122.4 L591.5,123.1 L593.0,123.8 L594.5,124.4 L596.0,125.1 L597.5,125.8 L599.0,126.3 L600.5,126.8 L602.0,127.3 L603.5,127.7 L605.0,128.0 L606.5,128.3 L608.0,128.7 L609.5,129.0 L611.0,129.3 L612.5,129.7 L614.0,130.1 L615.5,130.6 L617.0,131.2 L618.5,131.9 L620.0,132.6 L621.5,133.4 L623.0,134.1 L624.5,134.8 L626.0,135.6 L627.5,136.2 L629.0,136.8 L630.5,137.2 L632.0,137.4 L633.5,137.5 L635.0,137.5 L636.5,137.5 L638.0,137.4 L639.5,137.2 L641.0,136.8 L642.5,136.2 L644.0,135.5 L645.5,134.8 L647.0,134.1 L648.5,133.3 L650.0,132.4 L651.5,131.4 L653.0,130.4 L654.5,129.3 L656.0,128.2 L657.5,127.1 L659.0,126.1 L660.5,125.1 L662.0,124.3 L663.5,123.5 L665.0,122.8 L666.5,122.0 L668.0,121.4 L669.5,120.8 L671.0,120.4 L672.5,120.1 L674.0,119.9 L675.5,119.7 L677.0,119.6 L678.5,119.4 L680.0,119.2 L681.5,119.1 L683.0,118.9 L684.5,118.8 L686.0,118.8 L687.5,118.7 L689.0,118.7 L690.5,118.7 L692.0,118.7 L693.5,118.7 L695.0,118.7 L696.5,118.7 L698.0,118.7 L699.5,118.8 L701.0,118.9 L702.5,119.0 L704.0,119.1 L705.5,119.3 L707.0,119.4 L708.5,119.6 L710.0,119.8 L711.5,119.9 L713.0,120.2 L714.5,120.5 L716.0,121.0 L717.5,121.6 L719.0,122.3 L720.5,123.0 L722.0,123.7 L723.5,124.5 L725.0,125.3 L726.5,126.1 L728.0,126.9 L729.5,127.8 L731.0,128.7 L732.5,129.5 L734.0,130.2 L735.5,130.7 L737.0,131.1 L738.5,131.3 L740.0,131.4 L741.5,131.5 L743.0,131.7 L744.5,132.1 L746.0,132.4 L747.5,132.7 L749.0,132.7 L750.5,132.3 L752.0,131.4 L753.5,130.3 L755.0,129.1 L756.5,128.1 L758.0,127.5 L759.5,127.3 L761.0,127.6 L762.5,128.1 L764.0,129.0 L765.5,130.1 L767.0,131.3 L768.5,132.8 L770.0,134.4 L771.5,136.0 L773.0,137.4 L774.5,138.7 L776.0,139.6 L777.5,140.0 L779.0,139.9 L780.5,139.3 L782.0,138.6 L783.5,137.8 L785.0,137.4 L786.5,137.4 L788.0,138.0 L789.5,139.3 L791.0,141.0 L792.5,143.1 L794.0,145.3 L795.5,147.4 L797.0,149.4 L798.5,151.1 L800.0,152.6 L801.5,153.9 L803.0,155.1 L804.5,156.1 L806.0,157.1 L807.5,158.1 L809.0,159.0 L810.5,159.7 L812.0,160.4 L813.5,160.8 L815.0,161.0 L816.5,160.9 L818.0,160.7 L819.5,160.3 L821.0,159.8 L822.5,159.4 L824.0,159.1 L825.5,158.8 L827.0,158.7 L828.5,158.6 L830.0,158.4 L831.5,158.1 L833.0,157.7 L834.5,157.1 L836.0,156.5 L837.5,155.9 L839.0,155.4 L840.5,155.0 L842.0,155.0 L843.5,155.3 L845.0,155.9 L846.5,156.9 L848.0,158.0 L849.5,159.2 L851.0,160.4 L852.5,161.6 L854.0,162.6 L855.5,163.4 L857.0,164.0 L858.5,164.3 L860.0,164.4 L861.5,164.3 L863.0,164.0 L864.5,163.6 L866.0,163.1 L867.5,162.6 L869.0,162.0 L870.5,161.5 L872.0,161.0 L873.5,160.6 L875.0,160.4 L876.5,160.4 L878.0,160.5 L879.5,160.9 L881.0,161.2 L882.5,161.5 L882.5,181.5 L881.0,181.2 L879.5,180.9 L878.0,180.5 L876.5,180.4 L875.0,180.4 L873.5,180.6 L872.0,181.0 L870.5,181.5 L869.0,182.0 L867.5,182.6 L866.0,183.1 L864.5,183.6 L863.0,184.0 L861.5,184.3 L860.0,184.4 L858.5,184.3 L857.0,184.0 L855.5,183.4 L854.0,182.6 L852.5,181.6 L851.0,180.4 L849.5,179.2 L848.0,178.0 L846.5,176.9 L845.0,175.9 L843.5,175.3 L842.0,175.0 L840.5,175.0 L839.0,175.4 L837.5,175.9 L836.0,176.5 L834.5,177.1 L833.0,177.7 L831.5,178.1 L830.0,178.4 L828.5,178.6 L827.0,178.7 L825.5,178.8 L824.0,179.1 L822.5,179.4 L821.0,179.8 L819.5,180.3 L818.0,180.7 L816.5,180.9 L815.0,181.0 L813.5,180.8 L812.0,180.4 L810.5,179.7 L809.0,179.0 L807.5,178.1 L806.0,177.1 L804.5,176.1 L803.0,175.1 L801.5,173.9 L800.0,172.6 L798.5,171.1 L797.0,169.4 L795.5,167.4 L794.0,165.3 L792.5,163.1 L791.0,161.0 L789.5,159.3 L788.0,158.0 L786.5,157.4 L785.0,157.4 L783.5,157.8 L782.0,158.6 L780.5,159.3 L779.0,159.9 L777.5,160.0 L776.0,159.6 L774.5,158.7 L773.0,157.4 L771.5,156.0 L770.0,154.4 L768.5,152.8 L767.0,151.3 L765.5,150.1 L764.0,149.0 L762.5,148.1 L761.0,147.6 L759.5,147.3 L758.0,147.5 L756.5,148.4 L755.0,150.0 L753.5,152.1 L752.0,154.5 L750.5,156.9 L749.0,158.8 L747.5,160.3 L746.0,161.2 L744.5,161.8 L743.0,162.0 L741.5,162.1 L740.0,162.1 L738.5,162.1 L737.0,161.9 L735.5,161.5 L734.0,160.9 L732.5,160.0 L731.0,158.9 L729.5,157.6 L728.0,156.4 L726.5,155.4 L725.0,154.5 L723.5,153.8 L722.0,153.3 L720.5,152.9 L719.0,152.5 L717.5,152.2 L716.0,152.1 L714.5,152.1 L713.0,152.4 L711.5,152.8 L710.0,153.4 L708.5,154.0 L707.0,154.5 L705.5,155.1 L704.0,155.7 L702.5,156.2 L701.0,156.7 L699.5,157.2 L698.0,157.6 L696.5,158.0 L695.0,158.3 L693.5,158.6 L692.0,159.0 L690.5,159.3 L689.0,159.6 L687.5,160.0 L686.0,160.3 L684.5,160.7 L683.0,161.1 L681.5,161.5 L680.0,161.9 L678.5,162.3 L677.0,162.7 L675.5,163.1 L674.0,163.5 L672.5,163.9 L671.0,164.5 L669.5,165.1 L668.0,165.8 L666.5,166.6 L665.0,167.5 L663.5,168.3 L662.0,169.2 L660.5,170.1 L659.0,171.1 L657.5,172.2 L656.0,173.3 L654.5,174.4 L653.0,175.5 L651.5,176.6 L650.0,177.6 L648.5,178.7 L647.0,179.7 L645.5,180.7 L644.0,181.7 L642.5,182.6 L641.0,183.3 L639.5,183.7 L638.0,184.0 L636.5,184.0 L635.0,183.9 L633.5,183.7 L632.0,183.5 L630.5,183.2 L629.0,182.8 L627.5,182.3 L626.0,181.7 L624.5,181.0 L623.0,180.4 L621.5,179.7 L620.0,179.1 L618.5,178.4 L617.0,177.8 L615.5,177.3 L614.0,176.8 L612.5,176.4 L611.0,176.0 L609.5,175.7 L608.0,175.4 L606.5,175.0 L605.0,174.7 L603.5,174.4 L602.0,174.1 L600.5,173.8 L599.0,173.5 L597.5,173.3 L596.0,173.1 L594.5,172.9 L593.0,172.8 L591.5,172.6 L590.0,172.4 L588.5,172.2 L587.0,172.0 L585.5,171.9 L584.0,171.7 L582.5,171.5 L581.0,171.2 L579.5,170.9 L578.0,170.5 L576.5,170.0 L575.0,169.5 L573.5,168.9 L572.0,168.4 L570.5,167.9 L569.0,167.4 L567.5,166.9 L566.0,166.5 L564.5,166.2 L563.0,165.9 L561.5,165.8 L560.0,165.7 L558.5,165.6 L557.0,165.5 L555.5,165.4 L554.0,165.3 L552.5,165.2 L551.0,165.2 L549.5,165.3 L548.0,165.5 L546.5,165.7 L545.0,166.0 L543.5,166.3 L542.0,166.6 L540.5,166.9 L539.0,167.2 L537.5,167.5 L536.0,167.7 L534.5,167.9 L533.0,168.1 L531.5,168.2 L530.0,168.3 L528.5,168.4 L527.0,168.5 L525.5,168.6 L524.0,168.7 L522.5,168.9 L521.0,169.1 L519.5,169.3 L518.0,169.6 L516.5,170.1 L515.0,170.5 L513.5,170.9 L512.0,171.4 L510.5,171.9 L509.0,172.5 L507.5,173.1 L506.0,173.7 L504.5,174.4 L503.0,175.0 L501.5,175.7 L500.0,176.3 L498.5,177.0 L497.0,177.6 L495.5,178.1 L494.0,178.6 L492.5,179.0 L491.0,179.4 L489.5,179.7 L488.0,180.0 L486.5,180.4 L485.0,180.7 L483.5,181.0 L482.0,181.3 L480.5,181.6 L479.0,181.9 L477.5,182.1 L476.0,182.2 L474.5,182.4 L473.0,182.5 L471.5,182.7 L470.0,182.9 L468.5,183.0 L467.0,183.2 L465.5,183.2 L464.0,183.3 L462.5,183.3 L461.0,183.2 L459.5,183.1 L458.0,183.0 L456.5,182.9 L455.0,182.9 L453.5,182.8 L452.0,182.6 L450.5,182.4 L449.0,182.1 L447.5,181.6 L446.0,181.1 L444.5,180.5 L443.0,179.9 L441.5,179.4 L440.0,178.8 L438.5,178.2 L437.0,177.7 L435.5,177.1 L434.0,176.5 L432.5,175.9 L431.0,175.4 L429.5,174.8 L428.0,174.2 L426.5,173.6 L425.0,173.0 L423.5,172.5 L422.0,172.0 L420.5,171.6 L419.0,171.3 L417.5,171.1 L416.0,171.1 L414.5,171.1 L413.0,171.1 L411.5,171.1 L410.0,171.1 L408.5,171.1 L407.0,171.1 L405.5,171.1 L404.0,171.0 L402.5,171.0 L401.0,170.9 L399.5,170.8 L398.0,170.7 L396.5,170.6 L395.0,170.6 L393.5,170.5 L392.0,170.4 L390.5,170.3 L389.0,170.1 L387.5,169.9 L386.0,169.7 L384.5,169.4 L383.0,169.2 L381.5,168.9 L380.0,168.7 L378.5,168.5 L377.0,168.1 L375.5,167.7 L374.0,167.2 L372.5,166.5 L371.0,165.8 L369.5,165.0 L368.0,164.2 L366.5,163.4 L365.0,162.6 L363.5,161.8 L362.0,161.0 L360.5,160.0 L359.0,159.0 L357.5,157.9 L356.0,156.6 L354.5,155.4 L353.0,154.1 L351.5,152.8 L350.0,151.5 L348.5,150.1 L347.0,148.7 L345.5,147.2 L344.0,145.7 L342.5,144.2 L341.0,142.7 L339.5,141.1 L338.0,139.5 L336.5,137.8 L335.0,136.1 L333.5,134.3 L332.0,132.9 L330.5,131.9 L329.0,131.4 L327.5,131.3 L326.0,131.6 L324.5,132.1 L323.0,132.6 L321.5,133.1 L320.0,133.4 L318.5,133.8 L317.0,134.1 L315.5,134.3 L314.0,134.6 L312.5,134.8 L311.0,134.8 L309.5,134.7 L308.0,134.5 L306.5,134.1 L305.0,133.6 L303.5,133.1 L302.0,132.6 L300.5,132.0 L299.0,131.4 L297.5,130.7 L296.0,130.0 L294.5,129.2 L293.0,128.5 L291.5,127.7 L290.0,126.7 L288.5,125.7 L287.0,124.6 L285.5,123.4 L284.0,122.1 L282.5,120.9 L281.0,119.8 L279.5,118.7 L278.0,117.6 L276.5,116.6 L275.0,115.6 L273.5,114.6 L272.0,113.7 L270.5,113.0 L269.0,112.4 L267.5,112.0 L266.0,111.7 L264.5,111.4 L263.0,111.2 L261.5,111.1 L260.0,111.3 L258.5,111.6 L257.0,112.2 L255.5,112.9 L254.0,113.6 L252.5,114.4 L251.0,115.4 L249.5,116.6 L248.0,118.0 L246.5,119.6 L245.0,121.3 L243.5,123.0 L242.0,124.6 L240.5,126.1 L239.0,127.4 L237.5,128.6 L236.0,129.6 L234.5,130.6 L233.0,131.6 L231.5,132.4 L230.0,133.1 L228.5,133.6 L227.0,133.9 L225.5,134.0 L224.0,134.2 L222.5,134.3 L221.0,134.4 L219.5,134.6 L218.0,134.7 L216.5,134.9 L215.0,135.0 L213.5,135.1 L212.0,135.2 L210.5,135.3 L209.0,135.4 L207.5,135.5 L206.0,135.6 L204.5,135.7 L203.0,135.8 L201.5,135.8 L200.0,135.7 L198.5,135.4 L197.0,135.1 L195.5,134.7 L194.0,134.2 L192.5,133.8 L191.0,133.5 L189.5,133.4 L188.0,133.4 L186.5,133.6 L185.0,133.8 L183.5,134.0 L182.0,134.3 L180.5,134.5 L179.0,134.8 L177.5,135.0 L176.0,135.5 L174.5,136.1 L173.0,136.8 L171.5,137.7 L170.0,138.7 L168.5,139.6 L167.0,140.6 L165.5,141.6 L164.0,142.6 L162.5,143.6 L161.0,144.5 L159.5,145.4 L158.0,146.3 L156.5,147.2 L155.0,148.1 L153.5,148.9 L152.0,149.8 L150.5,150.7 L149.0,151.5 L147.5,152.4 L146.0,153.2 L144.5,154.1 L143.0,155.0 L141.5,155.8 L140.0,156.4 L138.5,157.0 L137.0,157.6 L135.5,158.0 L134.0,158.4 L132.5,158.9 L131.0,159.3 L129.5,159.7 L128.0,160.2 L126.5,160.6 L125.0,161.1 L123.5,161.5 L122.0,161.9 L120.5,162.3 L119.0,162.6 L117.5,163.0 L116.0,163.3 L114.5,163.6 L113.0,163.8 L111.5,164.1 L110.0,164.4 L108.5,164.7 L107.0,164.8 Z" fill="rgb(140,200,238)" fill-opacity="0.72"/>
<path d="M107.0,133.5 L108.5,133.4 L110.0,133.2 L111.5,132.9 L113.0,132.5 L114.5,132.1 L116.0,131.7 L117.5,131.2 L119.0,130.7 L120.5,130.2 L122.0,129.7 L123.5,129.1 L125.0,128.6 L126.5,128.0 L128.0,127.5 L129.5,126.9 L131.0,126.3 L132.5,125.7 L134.0,125.2 L135.5,124.6 L137.0,124.0 L138.5,123.5 L140.0,122.9 L141.5,122.3 L143.0,121.7 L144.5,121.1 L146.0,120.5 L147.5,119.9 L149.0,119.3 L150.5,118.7 L152.0,117.9 L153.5,117.2 L155.0,116.3 L156.5,115.4 L158.0,114.4 L159.5,113.4 L161.0,112.3 L162.5,111.1 L164.0,110.0 L165.5,108.8 L167.0,107.6 L168.5,106.4 L170.0,105.2 L171.5,104.0 L173.0,102.9 L174.5,101.8 L176.0,100.8 L177.5,99.8 L179.0,98.9 L180.5,98.2 L182.0,97.7 L183.5,97.4 L185.0,97.3 L186.5,97.5 L188.0,97.8 L189.5,98.4 L191.0,99.1 L192.5,99.7 L194.0,100.4 L195.5,101.2 L197.0,101.9 L198.5,102.5 L200.0,103.1 L201.5,103.7 L203.0,104.2 L204.5,104.6 L206.0,105.0 L207.5,105.5 L209.0,105.9 L210.5,106.3 L212.0,106.6 L213.5,106.8 L215.0,106.9 L216.5,107.0 L218.0,106.9 L219.5,106.7 L221.0,106.5 L222.5,106.2 L224.0,105.9 L225.5,105.6 L227.0,105.3 L228.5,105.0 L230.0,104.6 L231.5,104.2 L233.0,103.6 L234.5,102.9 L236.0,102.1 L237.5,101.1 L239.0,100.1 L240.5,98.9 L242.0,97.7 L243.5,96.5 L245.0,95.4 L246.5,94.3 L248.0,93.3 L249.5,92.2 L251.0,91.3 L252.5,90.4 L254.0,89.7 L255.5,89.0 L257.0,88.4 L258.5,88.0 L260.0,87.6 L261.5,87.4 L263.0,87.2 L264.5,87.2 L266.0,87.3 L267.5,87.5 L269.0,87.8 L270.5,88.1 L272.0,88.6 L273.5,89.1 L275.0,89.7 L276.5,90.3 L278.0,90.9 L279.5,91.6 L281.0,92.3 L282.5,93.1 L284.0,93.9 L285.5,94.7 L287.0,95.5 L288.5,96.3 L290.0,97.2 L291.5,98.1 L293.0,99.0 L294.5,100.0 L296.0,101.0 L297.5,102.0 L299.0,103.1 L300.5,104.2 L302.0,105.1 L303.5,106.0 L305.0,106.7 L306.5,107.3 L308.0,107.7 L309.5,107.8 L311.0,107.7 L312.5,107.5 L314.0,107.2 L315.5,106.8 L317.0,106.2 L318.5,105.6 L320.0,105.0 L321.5,104.4 L323.0,103.8 L324.5,103.2 L326.0,102.6 L327.5,102.2 L329.0,102.1 L330.5,102.1 L332.0,102.5 L333.5,103.3 L335.0,104.4 L336.5,105.9 L338.0,107.5 L339.5,109.3 L341.0,111.2 L342.5,113.2 L344.0,115.0 L345.5,116.9 L347.0,118.7 L348.5,120.5 L350.0,122.2 L351.5,123.9 L353.0,125.6 L354.5,127.3 L356.0,129.0 L357.5,130.5 L359.0,131.9 L360.5,133.2 L362.0,134.3 L363.5,135.3 L365.0,136.2 L366.5,137.1 L368.0,137.9 L369.5,138.7 L371.0,139.5 L372.5,140.2 L374.0,140.8 L375.5,141.3 L377.0,141.7 L378.5,142.0 L380.0,142.3 L381.5,142.4 L383.0,142.6 L384.5,142.8 L386.0,142.9 L387.5,143.1 L389.0,143.1 L390.5,143.2 L392.0,143.2 L393.5,143.2 L395.0,143.1 L396.5,143.0 L398.0,142.9 L399.5,142.8 L401.0,142.7 L402.5,142.6 L404.0,142.5 L405.5,142.3 L407.0,142.1 L408.5,141.9 L410.0,141.7 L411.5,141.4 L413.0,141.1 L414.5,140.8 L416.0,140.4 L417.5,140.0 L419.0,139.6 L420.5,139.1 L422.0,138.7 L423.5,138.4 L425.0,138.2 L426.5,138.2 L428.0,138.2 L429.5,138.4 L431.0,138.6 L432.5,138.9 L434.0,139.2 L435.5,139.5 L437.0,139.9 L438.5,140.3 L440.0,140.7 L441.5,141.1 L443.0,141.5 L444.5,141.9 L446.0,142.3 L447.5,142.7 L449.0,143.0 L450.5,143.4 L452.0,143.7 L453.5,143.9 L455.0,144.2 L456.5,144.4 L458.0,144.7 L459.5,144.9 L461.0,145.2 L462.5,145.4 L464.0,145.7 L465.5,146.0 L467.0,146.3 L468.5,146.6 L470.0,146.9 L471.5,147.2 L473.0,147.6 L474.5,147.9 L476.0,148.2 L477.5,148.5 L479.0,148.8 L480.5,149.0 L482.0,149.2 L483.5,149.4 L485.0,149.5 L486.5,149.6 L488.0,149.6 L489.5,149.5 L491.0,149.4 L492.5,149.2 L494.0,148.9 L495.5,148.6 L497.0,148.2 L498.5,147.8 L500.0,147.3 L501.5,146.8 L503.0,146.2 L504.5,145.7 L506.0,145.0 L507.5,144.4 L509.0,143.7 L510.5,143.1 L512.0,142.4 L513.5,141.6 L515.0,140.9 L516.5,140.1 L518.0,139.4 L519.5,138.6 L521.0,137.8 L522.5,137.0 L524.0,136.2 L525.5,135.4 L527.0,134.5 L528.5,133.7 L530.0,132.9 L531.5,132.1 L533.0,131.3 L534.5,130.5 L536.0,129.8 L537.5,129.1 L539.0,128.5 L540.5,127.8 L542.0,127.2 L543.5,126.6 L545.0,126.0 L546.5,125.5 L548.0,125.3 L549.5,125.3 L551.0,125.6 L552.5,126.1 L554.0,126.9 L555.5,127.9 L557.0,128.9 L558.5,130.0 L560.0,131.0 L561.5,132.0 L563.0,132.9 L564.5,133.9 L566.0,134.8 L567.5,135.7 L569.0,136.6 L570.5,137.5 L572.0,138.4 L573.5,139.2 L575.0,139.9 L576.5,140.5 L578.0,141.0 L579.5,141.5 L581.0,141.9 L582.5,142.3 L584.0,142.8 L585.5,143.2 L587.0,143.5 L588.5,143.7 L590.0,143.8 L591.5,143.8 L593.0,143.7 L594.5,143.5 L596.0,143.3 L597.5,143.1 L599.0,143.0 L600.5,143.0 L602.0,143.1 L603.5,143.3 L605.0,143.6 L606.5,143.9 L608.0,144.3 L609.5,144.6 L611.0,144.9 L612.5,145.3 L614.0,145.8 L615.5,146.3 L617.0,146.9 L618.5,147.6 L620.0,148.3 L621.5,149.0 L623.0,149.7 L624.5,150.5 L626.0,151.2 L627.5,152.0 L629.0,152.7 L630.5,153.5 L632.0,154.2 L633.5,155.0 L635.0,155.6 L636.5,156.0 L638.0,156.2 L639.5,156.2 L641.0,156.1 L642.5,155.8 L644.0,155.2 L645.5,154.7 L647.0,154.2 L648.5,153.5 L650.0,152.8 L651.5,152.0 L653.0,151.2 L654.5,150.2 L656.0,149.2 L657.5,148.3 L659.0,147.3 L660.5,146.4 L662.0,145.5 L663.5,144.6 L665.0,143.8 L666.5,142.9 L668.0,142.1 L669.5,141.4 L671.0,140.7 L672.5,140.0 L674.0,139.4 L675.5,138.8 L677.0,138.2 L678.5,137.7 L680.0,137.1 L681.5,136.6 L683.0,136.0 L684.5,135.6 L686.0,135.1 L687.5,134.7 L689.0,134.3 L690.5,134.0 L692.0,133.7 L693.5,133.3 L695.0,133.0 L696.5,132.7 L698.0,132.4 L699.5,132.1 L701.0,131.9 L702.5,131.7 L704.0,131.6 L705.5,131.5 L707.0,131.4 L708.5,131.3 L710.0,131.2 L711.5,131.1 L713.0,131.0 L714.5,131.0 L716.0,130.9 L717.5,130.9 L719.0,130.9 L720.5,130.9 L722.0,131.0 L723.5,131.1 L725.0,131.2 L726.5,131.5 L728.0,131.8 L729.5,132.2 L731.0,132.8 L732.5,133.6 L734.0,134.7 L735.5,136.0 L737.0,137.4 L738.5,138.9 L740.0,140.6 L741.5,141.9 L743.0,142.8 L744.5,143.0 L746.0,142.6 L747.5,141.8 L749.0,140.3 L750.5,138.4 L752.0,136.6 L753.5,135.0 L755.0,133.6 L756.5,132.5 L758.0,131.8 L759.5,131.7 L761.0,132.1 L762.5,132.8 L764.0,133.6 L765.5,134.7 L767.0,136.0 L768.5,137.5 L770.0,139.1 L771.5,140.8 L773.0,142.6 L774.5,144.0 L776.0,145.0 L777.5,145.4 L779.0,145.2 L780.5,144.6 L782.0,143.5 L783.5,142.4 L785.0,141.6 L786.5,141.6 L788.0,142.2 L789.5,143.5 L791.0,145.6 L792.5,148.0 L794.0,150.3 L795.5,152.5 L797.0,154.5 L798.5,156.3 L800.0,157.7 L801.5,158.9 L803.0,160.0 L804.5,161.0 L806.0,162.1 L807.5,163.0 L809.0,164.0 L810.5,164.9 L812.0,165.5 L813.5,165.9 L815.0,166.1 L816.5,166.1 L818.0,165.8 L819.5,165.3 L821.0,164.6 L822.5,164.1 L824.0,163.8 L825.5,163.7 L827.0,163.6 L828.5,163.6 L830.0,163.5 L831.5,163.2 L833.0,162.8 L834.5,162.2 L836.0,161.4 L837.5,160.7 L839.0,160.1 L840.5,159.7 L842.0,159.6 L843.5,159.9 L845.0,160.6 L846.5,161.6 L848.0,162.9 L849.5,164.1 L851.0,165.5 L852.5,166.7 L854.0,167.8 L855.5,168.7 L857.0,169.2 L858.5,169.4 L860.0,169.5 L861.5,169.4 L863.0,169.1 L864.5,168.7 L866.0,168.1 L867.5,167.6 L869.0,167.0 L870.5,166.4 L872.0,165.9 L873.5,165.3 L875.0,165.1 L876.5,165.1 L878.0,165.4 L879.5,165.8 L881.0,166.3 L882.5,166.8 L882.5,176.9 L881.0,176.3 L879.5,175.8 L878.0,175.4 L876.5,175.1 L875.0,175.1 L873.5,175.3 L872.0,175.9 L870.5,176.5 L869.0,177.0 L867.5,177.6 L866.0,178.2 L864.5,178.8 L863.0,179.2 L861.5,179.5 L860.0,179.6 L858.5,179.5 L857.0,179.3 L855.5,178.8 L854.0,177.9 L852.5,176.8 L851.0,175.5 L849.5,174.2 L848.0,172.9 L846.5,171.7 L845.0,170.7 L843.5,170.0 L842.0,169.7 L840.5,169.8 L839.0,170.2 L837.5,170.8 L836.0,171.5 L834.5,172.3 L833.0,173.0 L831.5,173.4 L830.0,173.6 L828.5,173.7 L827.0,173.8 L825.5,173.8 L824.0,174.0 L822.5,174.3 L821.0,174.8 L819.5,175.5 L818.0,176.0 L816.5,176.3 L815.0,176.3 L813.5,176.1 L812.0,175.7 L810.5,175.0 L809.0,174.1 L807.5,173.2 L806.0,172.2 L804.5,171.2 L803.0,170.2 L801.5,169.1 L800.0,167.9 L798.5,166.5 L797.0,164.7 L795.5,162.7 L794.0,160.5 L792.5,158.2 L791.0,155.8 L789.5,153.8 L788.0,152.4 L786.5,151.8 L785.0,151.9 L783.5,152.6 L782.0,153.7 L780.5,154.8 L779.0,155.5 L777.5,155.6 L776.0,155.2 L774.5,154.3 L773.0,152.9 L771.5,151.1 L770.0,149.4 L768.5,147.8 L767.0,146.3 L765.5,145.0 L764.0,143.9 L762.5,143.1 L761.0,142.4 L759.5,142.0 L758.0,142.1 L756.5,142.8 L755.0,143.9 L753.5,145.3 L752.0,146.9 L750.5,148.7 L749.0,150.7 L747.5,152.1 L746.0,153.0 L744.5,153.3 L743.0,153.1 L741.5,152.3 L740.0,150.9 L738.5,149.3 L737.0,147.8 L735.5,146.4 L734.0,145.0 L732.5,144.0 L731.0,143.2 L729.5,142.6 L728.0,142.2 L726.5,141.9 L725.0,141.6 L723.5,141.5 L722.0,141.4 L720.5,141.6 L719.0,141.9 L717.5,142.2 L716.0,142.5 L714.5,142.8 L713.0,143.1 L711.5,143.5 L710.0,143.9 L708.5,144.3 L707.0,144.7 L705.5,145.1 L704.0,145.5 L702.5,145.9 L701.0,146.3 L699.5,146.7 L698.0,147.0 L696.5,147.3 L695.0,147.6 L693.5,147.9 L692.0,148.3 L690.5,148.6 L689.0,148.9 L687.5,149.3 L686.0,149.7 L684.5,150.2 L683.0,150.6 L681.5,151.2 L680.0,151.7 L678.5,152.3 L677.0,152.8 L675.5,153.4 L674.0,154.0 L672.5,154.6 L671.0,155.3 L669.5,156.0 L668.0,156.7 L666.5,157.5 L665.0,158.4 L663.5,159.2 L662.0,160.1 L660.5,161.0 L659.0,161.9 L657.5,162.9 L656.0,163.8 L654.5,164.8 L653.0,165.8 L651.5,166.6 L650.0,167.4 L648.5,168.1 L647.0,168.8 L645.5,169.3 L644.0,169.8 L642.5,170.4 L641.0,170.7 L639.5,170.8 L638.0,170.8 L636.5,170.6 L635.0,170.2 L633.5,169.6 L632.0,168.8 L630.5,168.1 L629.0,167.3 L627.5,166.6 L626.0,165.8 L624.5,165.1 L623.0,164.3 L621.5,163.6 L620.0,162.9 L618.5,162.2 L617.0,161.5 L615.5,160.9 L614.0,160.4 L612.5,159.9 L611.0,159.5 L609.5,159.2 L608.0,158.9 L606.5,158.5 L605.0,158.2 L603.5,157.9 L602.0,157.7 L600.5,157.6 L599.0,157.6 L597.5,157.7 L596.0,157.9 L594.5,158.1 L593.0,158.3 L591.5,158.4 L590.0,158.4 L588.5,158.3 L587.0,158.1 L585.5,157.8 L584.0,157.4 L582.5,156.9 L581.0,156.5 L579.5,156.1 L578.0,155.6 L576.5,155.1 L575.0,154.5 L573.5,153.8 L572.0,153.0 L570.5,152.1 L569.0,151.2 L567.5,150.3 L566.0,149.4 L564.5,148.5 L563.0,147.5 L561.5,146.6 L560.0,145.6 L558.5,144.6 L557.0,143.5 L555.5,142.5 L554.0,141.5 L552.5,140.7 L551.0,140.2 L549.5,139.9 L548.0,139.9 L546.5,140.1 L545.0,140.6 L543.5,141.2 L542.0,141.8 L540.5,142.4 L539.0,143.1 L537.5,143.7 L536.0,144.4 L534.5,145.1 L533.0,145.9 L531.5,146.7 L530.0,147.5 L528.5,148.3 L527.0,149.1 L525.5,150.0 L524.0,150.8 L522.5,151.6 L521.0,152.4 L519.5,153.2 L518.0,154.0 L516.5,154.7 L515.0,155.5 L513.5,156.2 L512.0,157.0 L510.5,157.7 L509.0,158.3 L507.5,159.0 L506.0,159.6 L504.5,160.3 L503.0,160.8 L501.5,161.4 L500.0,161.9 L498.5,162.4 L497.0,162.8 L495.5,163.2 L494.0,163.5 L492.5,163.8 L491.0,164.0 L489.5,164.1 L488.0,164.2 L486.5,164.2 L485.0,164.1 L483.5,164.0 L482.0,163.8 L480.5,163.6 L479.0,163.4 L477.5,163.1 L476.0,162.8 L474.5,162.5 L473.0,162.2 L471.5,161.8 L470.0,161.5 L468.5,161.2 L467.0,160.9 L465.5,160.6 L464.0,160.3 L462.5,160.0 L461.0,159.8 L459.5,159.5 L458.0,159.3 L456.5,159.0 L455.0,158.8 L453.5,158.5 L452.0,158.3 L450.5,158.0 L449.0,157.6 L447.5,157.3 L446.0,156.9 L444.5,156.5 L443.0,156.1 L441.5,155.7 L440.0,155.3 L438.5,154.9 L437.0,154.5 L435.5,154.1 L434.0,153.8 L432.5,153.5 L431.0,153.2 L429.5,153.0 L428.0,152.8 L426.5,152.8 L425.0,152.8 L423.5,153.0 L422.0,153.3 L420.5,153.7 L419.0,154.2 L417.5,154.6 L416.0,155.0 L414.5,155.4 L413.0,155.7 L411.5,156.0 L410.0,156.3 L408.5,156.5 L407.0,156.7 L405.5,156.9 L404.0,157.1 L402.5,157.2 L401.0,157.3 L399.5,157.4 L398.0,157.5 L396.5,157.6 L395.0,157.7 L393.5,157.8 L392.0,157.8 L390.5,157.8 L389.0,157.7 L387.5,157.7 L386.0,157.5 L384.5,157.4 L383.0,157.2 L381.5,157.0 L380.0,156.9 L378.5,156.6 L377.0,156.3 L375.5,155.9 L374.0,155.4 L372.5,154.8 L371.0,154.1 L369.5,153.3 L368.0,152.5 L366.5,151.7 L365.0,150.8 L363.5,149.9 L362.0,148.9 L360.5,147.8 L359.0,146.5 L357.5,145.1 L356.0,143.6 L354.5,141.9 L353.0,140.2 L351.5,138.5 L350.0,136.8 L348.5,135.1 L347.0,133.3 L345.5,131.5 L344.0,129.6 L342.5,127.8 L341.0,125.8 L339.5,123.9 L338.0,122.1 L336.5,120.5 L335.0,119.0 L333.5,117.9 L332.0,117.1 L330.5,116.7 L329.0,116.7 L327.5,116.8 L326.0,117.2 L324.5,117.8 L323.0,118.4 L321.5,119.0 L320.0,119.6 L318.5,120.2 L317.0,120.8 L315.5,121.4 L314.0,121.8 L312.5,122.1 L311.0,122.3 L309.5,122.4 L308.0,122.3 L306.5,121.9 L305.0,121.3 L303.5,120.6 L302.0,119.7 L300.5,118.8 L299.0,117.7 L297.5,116.6 L296.0,115.6 L294.5,114.6 L293.0,113.6 L291.5,112.7 L290.0,111.8 L288.5,110.9 L287.0,110.1 L285.5,109.3 L284.0,108.5 L282.5,107.7 L281.0,106.9 L279.5,106.2 L278.0,105.5 L276.5,104.9 L275.0,104.3 L273.5,103.7 L272.0,103.2 L270.5,102.7 L269.0,102.4 L267.5,102.1 L266.0,101.9 L264.5,101.8 L263.0,101.8 L261.5,102.0 L260.0,102.2 L258.5,102.6 L257.0,103.0 L255.5,103.6 L254.0,104.3 L252.5,105.0 L251.0,105.9 L249.5,106.8 L248.0,107.9 L246.5,108.9 L245.0,110.0 L243.5,111.1 L242.0,112.3 L240.5,113.5 L239.0,114.7 L237.5,115.7 L236.0,116.7 L234.5,117.5 L233.0,118.2 L231.5,118.8 L230.0,119.2 L228.5,119.5 L227.0,119.9 L225.5,120.2 L224.0,120.5 L222.5,120.8 L221.0,121.1 L219.5,121.3 L218.0,121.5 L216.5,121.6 L215.0,121.5 L213.5,121.4 L212.0,121.2 L210.5,120.9 L209.0,120.5 L207.5,120.0 L206.0,119.6 L204.5,119.2 L203.0,118.8 L201.5,118.3 L200.0,117.7 L198.5,117.1 L197.0,116.5 L195.5,115.8 L194.0,115.0 L192.5,114.3 L191.0,113.7 L189.5,113.0 L188.0,112.4 L186.5,112.1 L185.0,111.9 L183.5,112.0 L182.0,112.3 L180.5,112.8 L179.0,113.5 L177.5,114.4 L176.0,115.4 L174.5,116.4 L173.0,117.5 L171.5,118.6 L170.0,119.8 L168.5,121.0 L167.0,122.2 L165.5,123.4 L164.0,124.6 L162.5,125.7 L161.0,126.9 L159.5,128.0 L158.0,129.0 L156.5,130.0 L155.0,130.9 L153.5,131.8 L152.0,132.5 L150.5,133.3 L149.0,133.9 L147.5,134.5 L146.0,135.1 L144.5,135.7 L143.0,136.3 L141.5,136.9 L140.0,137.5 L138.5,138.1 L137.0,138.6 L135.5,139.2 L134.0,139.8 L132.5,140.3 L131.0,140.9 L129.5,141.5 L128.0,142.1 L126.5,142.6 L125.0,143.2 L123.5,143.7 L122.0,144.3 L120.5,144.8 L119.0,145.3 L117.5,145.8 L116.0,146.3 L114.5,146.7 L113.0,147.1 L111.5,147.5 L110.0,147.8 L108.5,148.0 L107.0,148.1 Z" fill="rgb(80,130,205)" fill-opacity="0.6"/>
<path d="M107.0,141.1 C108.3,140.8 112.0,140.4 115.0,139.5 C118.0,138.6 121.7,137.1 125.0,135.9 C128.3,134.7 131.3,133.5 135.0,132.1 C138.7,130.7 143.7,128.8 147.0,127.5 C150.3,126.2 152.0,125.8 155.0,124.0 C158.0,122.2 161.7,119.2 165.0,116.6 C168.3,114.0 171.8,110.6 175.0,108.4 C178.2,106.2 181.2,103.7 184.0,103.4 C186.8,103.1 189.3,105.5 192.0,106.7 C194.7,107.9 196.2,109.4 200.0,110.7 C203.8,112.0 210.8,114.4 215.0,114.8 C219.2,115.2 221.7,113.8 225.0,113.1 C228.3,112.4 231.7,112.5 235.0,110.7 C238.3,108.9 241.7,105.0 245.0,102.5 C248.3,100.0 251.7,97.3 255.0,95.9 C258.3,94.5 261.7,93.8 265.0,93.9 C268.3,94.0 271.7,95.4 275.0,96.7 C278.3,98.0 281.7,99.8 285.0,101.6 C288.3,103.4 291.7,105.2 295.0,107.4 C298.3,109.6 302.2,113.4 305.0,114.8 C307.8,116.2 309.5,116.0 312.0,115.6 C314.5,115.2 317.0,113.5 320.0,112.3 C323.0,111.1 327.5,108.5 330.0,108.2 C332.5,107.9 332.5,108.1 335.0,110.7 C337.5,113.3 341.7,119.7 345.0,123.8 C348.3,127.9 352.5,132.4 355.0,135.2 C357.5,138.0 356.7,138.5 360.0,140.8 C363.3,143.1 370.0,147.3 375.0,149.0 C380.0,150.7 385.0,150.6 390.0,150.7 C395.0,150.8 400.8,150.2 405.0,149.8 C409.2,149.4 411.7,149.0 415.0,148.2 C418.3,147.4 421.7,145.2 425.0,144.9 C428.3,144.6 430.8,145.6 435.0,146.6 C439.2,147.6 445.0,149.6 450.0,150.7 C455.0,151.8 460.0,152.1 465.0,153.1 C470.0,154.1 475.8,155.7 480.0,156.4 C484.2,157.1 486.7,157.5 490.0,157.2 C493.3,156.9 496.7,155.9 500.0,154.8 C503.3,153.7 506.7,152.2 510.0,150.7 C513.3,149.2 515.8,147.9 520.0,145.7 C524.2,143.5 530.0,139.8 535.0,137.4 C540.0,135.0 545.8,131.0 550.0,131.2 C554.2,131.4 555.8,135.7 560.0,138.4 C564.2,141.1 570.0,145.4 575.0,147.6 C580.0,149.8 585.8,151.3 590.0,151.7 C594.2,152.1 595.8,149.6 600.0,149.8 C604.2,150.0 610.0,151.3 615.0,153.1 C620.0,154.9 626.2,158.6 630.0,160.5 C633.8,162.4 634.7,164.6 638.0,164.6 C641.3,164.6 646.3,162.3 650.0,160.5 C653.7,158.7 656.7,156.0 660.0,153.9 C663.3,151.8 665.8,150.1 670.0,148.2 C674.2,146.3 680.0,144.0 685.0,142.5 C690.0,141.0 695.0,140.2 700.0,139.2 C705.0,138.2 710.8,137.2 715.0,136.7 C719.2,136.1 721.7,135.5 725.0,135.9 C728.3,136.3 732.5,137.4 735.0,139.2 C737.5,141.0 738.3,144.7 740.0,146.6 C741.7,148.5 743.3,151.0 745.0,150.7 C746.7,150.4 748.3,147.2 750.0,144.9 C751.7,142.6 753.0,138.1 755.0,136.7 C757.0,135.3 759.8,135.5 762.0,136.4 C764.2,137.3 766.3,140.4 768.0,142.0 C769.7,143.6 770.3,144.2 772.0,146.2 C773.7,148.2 775.7,154.5 778.0,154.0 C780.3,153.5 784.0,144.2 786.0,143.2 C788.0,142.2 788.3,145.3 790.0,148.1 C791.7,150.9 793.5,156.8 796.0,159.9 C798.5,163.0 801.8,164.6 805.0,166.7 C808.2,168.8 811.7,172.4 815.0,172.6 C818.3,172.8 822.3,168.2 825.0,167.7 C827.7,167.2 828.5,170.3 831.0,169.7 C833.5,169.0 837.5,164.6 840.0,163.8 C842.5,163.0 844.0,163.3 846.0,164.8 C848.0,166.3 849.7,170.8 852.0,172.6 C854.3,174.4 857.0,175.7 860.0,175.5 C863.0,175.3 867.0,172.7 870.0,171.6 C873.0,170.5 875.8,168.4 878.0,168.7 C880.2,169.0 882.2,172.8 883.0,173.6" fill="none" stroke="#1d4aa0" stroke-width="5" stroke-linejoin="round" stroke-linecap="round"/>
<path d="M107.5,377.4 L107.9,387.8 L108.2,392.9 L108.6,384.0 L108.9,390.7 L109.3,396.5 L109.7,389.2 L110.0,399.4 L110.4,394.7 L110.7,388.9 L111.1,376.4 L111.5,386.0 L111.8,374.2 L112.2,398.1 L112.5,374.1 L112.9,378.2 L113.3,377.2 L113.6,394.6 L114.0,403.6 L114.3,390.9 L114.7,394.2 L115.1,378.7 L115.4,395.0 L115.8,359.5 L116.1,379.3 L116.5,394.2 L116.9,406.4 L117.2,396.4 L117.6,394.3 L117.9,377.4 L118.3,382.6 L118.7,397.1 L119.0,389.8 L119.4,392.0 L119.7,372.9 L120.1,395.5 L120.5,384.7 L120.8,374.5 L121.2,385.8 L121.5,394.3 L121.9,384.7 L122.3,396.7 L122.6,395.1 L123.0,383.7 L123.3,396.2 L123.7,391.0 L124.1,377.8 L124.4,373.6 L124.8,371.5 L125.1,384.2 L125.5,390.0 L125.9,373.8 L126.2,375.8 L126.6,395.4 L126.9,390.9 L127.3,378.3 L127.7,394.7 L128.0,382.3 L128.4,403.9 L128.7,379.3 L129.1,377.6 L129.5,388.8 L129.8,380.5 L130.2,386.1 L130.5,387.4 L130.9,384.6 L131.3,383.0 L131.6,380.4 L132.0,409.2 L132.3,373.8 L132.7,389.6 L133.1,371.5 L133.4,359.0 L133.8,391.2 L134.1,392.6 L134.5,388.6 L134.9,396.6 L135.2,381.8 L135.6,383.8 L135.9,379.8 L136.3,372.7 L136.7,383.7 L137.0,385.3 L137.4,384.7 L137.7,374.0 L138.1,377.2 L138.5,380.1 L138.8,383.7 L139.2,378.5 L139.5,382.5 L139.9,380.6 L140.3,376.1 L140.6,395.9 L141.0,388.6 L141.3,398.7 L141.7,389.2 L142.1,389.9 L142.4,383.3 L142.8,395.0 L143.1,386.3 L143.5,395.6 L143.9,409.3 L144.2,393.7 L144.6,391.8 L144.9,384.9 L145.3,376.9 L145.7,380.5 L146.0,386.1 L146.4,387.2 L146.7,380.3 L147.1,381.4 L147.5,383.1 L147.8,389.3 L148.2,377.5 L148.5,385.7 L148.9,393.1 L149.3,397.2 L149.6,389.0 L150.0,400.4 L150.3,395.2 L150.7,396.5 L151.1,379.4 L151.4,389.4 L151.8,377.5 L152.1,393.8 L152.5,384.5 L152.9,399.5 L153.2,380.2 L153.6,378.8 L153.9,387.0 L154.3,381.1 L154.7,391.6 L155.0,388.6 L155.4,377.9 L155.7,383.7 L156.1,381.6 L156.5,382.6 L156.8,404.1 L157.2,413.8 L157.5,398.9 L157.9,388.9 L158.3,383.9 L158.6,387.7 L159.0,397.2 L159.3,389.9 L159.7,379.1 L160.1,393.6 L160.4,392.5 L160.8,396.7 L161.1,379.8 L161.5,402.7 L161.9,391.6 L162.2,389.2 L162.6,387.4 L162.9,402.8 L163.3,387.9 L163.7,388.4 L164.0,403.9 L164.4,393.0 L164.7,382.2 L165.1,384.2 L165.5,400.5 L165.8,389.7 L166.2,389.5 L166.5,388.8 L166.9,406.3 L167.3,393.4 L167.6,403.9 L168.0,401.4 L168.3,401.5 L168.7,401.1 L169.1,389.3 L169.4,380.2 L169.8,394.4 L170.1,386.2 L170.5,414.1 L170.9,395.5 L171.2,394.1 L171.6,407.8 L171.9,379.7 L172.3,397.7 L172.7,382.9 L173.0,383.2 L173.4,389.4 L173.7,392.6 L174.1,404.9 L174.5,382.1 L174.8,399.6 L175.2,396.9 L175.5,387.3 L175.9,404.8 L176.3,390.9 L176.6,402.6 L177.0,387.8 L177.3,395.8 L177.7,401.2 L178.1,403.6 L178.4,390.1 L178.8,411.1 L179.1,397.5 L179.5,397.2 L179.9,381.5 L180.2,395.7 L180.6,404.6 L180.9,386.1 L181.3,396.2 L181.7,403.8 L182.0,389.9 L182.4,401.0 L182.7,403.1 L183.1,380.9 L183.5,387.2 L183.8,386.0 L184.2,403.4 L184.5,395.2 L184.9,383.1 L185.3,389.9 L185.6,386.8 L186.0,419.6 L186.3,402.6 L186.7,401.9 L187.1,382.5 L187.4,389.4 L187.8,391.0 L188.1,387.8 L188.5,402.6 L188.9,368.9 L189.2,399.4 L189.6,394.6 L189.9,390.1 L190.3,382.0 L190.7,401.7 L191.0,391.9 L191.4,381.0 L191.7,391.7 L192.1,380.3 L192.5,387.1 L192.8,402.3 L193.2,387.7 L193.5,387.7 L193.9,386.9 L194.3,393.7 L194.6,391.9 L195.0,388.3 L195.3,401.3 L195.7,390.8 L196.1,400.4 L196.4,389.5 L196.8,387.9 L197.1,383.1 L197.5,380.2 L197.9,393.5 L198.2,387.8 L198.6,382.2 L198.9,392.3 L199.3,396.9 L199.7,394.7 L200.0,378.9 L200.4,387.4 L200.7,394.4 L201.1,386.6 L201.5,387.2 L201.8,395.9 L202.2,379.1 L202.5,379.3 L202.9,394.4 L203.3,398.2 L203.6,377.6 L204.0,413.7 L204.3,394.0 L204.7,387.0 L205.1,412.6 L205.4,372.0 L205.8,385.2 L206.1,373.4 L206.5,392.9 L206.9,392.6 L207.2,387.8 L207.6,394.2 L207.9,376.2 L208.3,371.0 L208.7,384.6 L209.0,373.9 L209.4,385.8 L209.7,368.5 L210.1,375.6 L210.5,383.7 L210.8,390.8 L211.2,367.5 L211.5,377.2 L211.9,390.6 L212.3,366.3 L212.6,376.6 L213.0,384.1 L213.3,376.7 L213.7,386.9 L214.1,374.5 L214.4,371.9 L214.8,364.2 L215.1,376.7 L215.5,390.4 L215.9,389.1 L216.2,364.0 L216.6,365.1 L216.9,365.9 L217.3,388.2 L217.7,374.7 L218.0,372.1 L218.4,385.5 L218.7,373.9 L219.1,375.1 L219.5,383.9 L219.8,389.3 L220.2,369.1 L220.5,369.8 L220.9,369.6 L221.3,390.6 L221.6,380.0 L222.0,387.1 L222.3,369.4 L222.7,388.2 L223.1,372.1 L223.4,380.9 L223.8,369.7 L224.1,378.2 L224.5,385.1 L224.9,368.7 L225.2,391.4 L225.6,387.9 L225.9,383.8 L226.3,384.7 L226.7,370.7 L227.0,365.0 L227.4,371.1 L227.7,365.4 L228.1,370.7 L228.5,383.0 L228.8,365.5 L229.2,361.7 L229.5,383.1 L229.9,386.4 L230.3,371.5 L230.6,365.0 L231.0,384.3 L231.3,360.2 L231.7,367.9 L232.1,380.5 L232.4,378.1 L232.8,379.0 L233.1,370.3 L233.5,376.4 L233.9,364.3 L234.2,381.1 L234.6,378.3 L234.9,382.5 L235.3,376.6 L235.7,375.2 L236.0,358.7 L236.4,370.1 L236.7,355.1 L237.1,379.7 L237.5,375.8 L237.8,367.6 L238.2,376.2 L238.5,376.9 L238.9,361.3 L239.3,369.7 L239.6,353.1 L240.0,350.5 L240.3,371.6 L240.7,354.6 L241.1,359.2 L241.4,361.6 L241.8,375.0 L242.1,369.8 L242.5,362.5 L242.9,370.3 L243.2,376.8 L243.6,347.9 L243.9,353.1 L244.3,362.6 L244.7,354.0 L245.0,373.1 L245.4,359.5 L245.7,359.4 L246.1,364.2 L246.5,357.4 L246.8,371.2 L247.2,347.2 L247.5,354.5 L247.9,348.4 L248.3,346.5 L248.6,350.9 L249.0,363.6 L249.3,365.4 L249.7,347.1 L250.1,345.2 L250.4,340.2 L250.8,338.9 L251.1,349.6 L251.5,344.0 L251.9,353.6 L252.2,342.1 L252.6,357.1 L252.9,354.4 L253.3,365.1 L253.7,361.4 L254.0,340.4 L254.4,352.8 L254.7,346.6 L255.1,336.6 L255.5,352.0 L255.8,364.3 L256.2,334.3 L256.5,335.6 L256.9,341.7 L257.3,348.3 L257.6,342.9 L258.0,355.8 L258.3,367.4 L258.7,360.9 L259.1,338.9 L259.4,339.5 L259.8,363.8 L260.1,336.5 L260.5,356.5 L260.9,336.2 L261.2,338.2 L261.6,363.8 L261.9,358.2 L262.3,352.0 L262.7,363.3 L263.0,362.9 L263.4,337.6 L263.7,347.1 L264.1,346.9 L264.5,338.5 L264.8,352.3 L265.2,358.5 L265.5,354.6 L265.9,356.2 L266.3,340.3 L266.6,349.3 L267.0,337.6 L267.3,354.5 L267.7,359.3 L268.1,346.3 L268.4,346.9 L268.8,353.5 L269.1,358.0 L269.5,364.8 L269.9,352.8 L270.2,357.1 L270.6,336.6 L270.9,361.2 L271.3,345.1 L271.7,348.8 L272.0,344.7 L272.4,348.0 L272.7,342.3 L273.1,342.8 L273.5,338.8 L273.8,349.0 L274.2,357.3 L274.5,358.6 L274.9,340.5 L275.3,330.1 L275.6,363.7 L276.0,321.5 L276.3,356.9 L276.7,348.8 L277.1,339.0 L277.4,331.0 L277.8,342.1 L278.1,348.1 L278.5,349.9 L278.9,348.3 L279.2,351.9 L279.6,331.9 L279.9,344.1 L280.3,342.4 L280.7,343.7 L281.0,342.5 L281.4,346.9 L281.7,331.7 L282.1,328.2 L282.5,341.1 L282.8,345.7 L283.2,340.6 L283.5,343.6 L283.9,340.2 L284.3,353.1 L284.6,353.2 L285.0,333.0 L285.3,347.5 L285.7,345.0 L286.1,331.0 L286.4,331.9 L286.8,354.5 L287.1,351.3 L287.5,334.2 L287.9,347.2 L288.2,355.9 L288.6,345.1 L288.9,347.8 L289.3,350.5 L289.7,345.7 L290.0,356.6 L290.4,338.3 L290.7,337.7 L291.1,334.3 L291.5,345.0 L291.8,342.0 L292.2,346.8 L292.5,337.7 L292.9,347.2 L293.3,348.1 L293.6,342.5 L294.0,357.4 L294.3,348.5 L294.7,351.8 L295.1,362.3 L295.4,360.0 L295.8,353.3 L296.1,333.7 L296.5,352.8 L296.9,343.2 L297.2,341.8 L297.6,352.5 L297.9,340.1 L298.3,357.4 L298.7,358.7 L299.0,339.8 L299.4,340.6 L299.7,363.8 L300.1,336.8 L300.5,324.8 L300.8,358.4 L301.2,333.1 L301.5,336.7 L301.9,363.4 L302.3,341.4 L302.6,361.5 L303.0,350.7 L303.3,345.5 L303.7,341.0 L304.1,335.4 L304.4,341.6 L304.8,338.0 L305.1,334.7 L305.5,354.2 L305.9,364.0 L306.2,350.1 L306.6,359.6 L306.9,364.4 L307.3,337.3 L307.7,347.5 L308.0,347.1 L308.4,341.3 L308.7,355.1 L309.1,350.1 L309.5,338.1 L309.8,361.1 L310.2,336.1 L310.5,334.6 L310.9,354.5 L311.3,344.6 L311.6,351.3 L312.0,332.6 L312.3,334.1 L312.7,340.3 L313.1,341.5 L313.4,347.5 L313.8,341.2 L314.1,338.6 L314.5,365.4 L314.9,335.9 L315.2,347.4 L315.6,339.3 L315.9,356.8 L316.3,350.9 L316.7,351.3 L317.0,345.6 L317.4,346.2 L317.7,362.0 L318.1,345.3 L318.5,352.3 L318.8,335.5 L319.2,349.3 L319.5,356.7 L319.9,348.2 L320.3,357.1 L320.6,355.5 L321.0,338.9 L321.3,350.2 L321.7,337.0 L322.1,339.1 L322.4,356.6 L322.8,343.4 L323.1,338.7 L323.5,351.6 L323.9,358.7 L324.2,346.4 L324.6,343.0 L324.9,344.1 L325.3,338.1 L325.7,338.2 L326.0,350.8 L326.4,343.4 L326.7,350.3 L327.1,365.1 L327.5,361.5 L327.8,362.7 L328.2,365.8 L328.5,358.6 L328.9,351.6 L329.3,340.2 L329.6,371.7 L330.0,340.7 L330.3,346.5 L330.7,346.3 L331.1,366.0 L331.4,363.9 L331.8,345.7 L332.1,349.6 L332.5,353.1 L332.9,340.3 L333.2,339.5 L333.6,355.7 L333.9,353.8 L334.3,357.5 L334.7,365.3 L335.0,343.2 L335.4,365.7 L335.7,344.8 L336.1,366.0 L336.5,342.8 L336.8,349.8 L337.2,359.7 L337.5,343.4 L337.9,340.7 L338.3,345.0 L338.6,346.7 L339.0,363.0 L339.3,343.7 L339.7,356.4 L340.1,360.7 L340.4,335.9 L340.8,343.7 L341.1,362.3 L341.5,352.3 L341.9,339.6 L342.2,349.2 L342.6,346.2 L342.9,359.4 L343.3,358.1 L343.7,344.4 L344.0,364.2 L344.4,336.0 L344.7,361.7 L345.1,337.1 L345.5,350.5 L345.8,347.0 L346.2,359.1 L346.5,349.1 L346.9,343.3 L347.3,356.3 L347.6,345.7 L348.0,346.6 L348.3,357.6 L348.7,343.6 L349.1,349.1 L349.4,357.1 L349.8,356.9 L350.1,352.5 L350.5,353.2 L350.9,334.9 L351.2,348.6 L351.6,350.3 L351.9,336.8 L352.3,359.3 L352.7,353.1 L353.0,336.2 L353.4,337.3 L353.7,336.6 L354.1,338.0 L354.5,375.2 L354.8,336.9 L355.2,346.6 L355.5,343.8 L355.9,355.6 L356.3,358.5 L356.6,357.2 L357.0,356.4 L357.3,356.0 L357.7,362.9 L358.1,355.4 L358.4,347.7 L358.8,345.4 L359.1,361.2 L359.5,368.3 L359.9,366.8 L360.2,367.4 L360.6,370.9 L360.9,351.3 L361.3,374.7 L361.7,351.3 L362.0,367.7 L362.4,363.8 L362.7,356.4 L363.1,369.0 L363.5,356.0 L363.8,354.0 L364.2,373.3 L364.5,378.7 L364.9,366.1 L365.3,377.3 L365.6,382.4 L366.0,376.2 L366.3,343.4 L366.7,382.7 L367.1,362.2 L367.4,362.0 L367.8,375.3 L368.1,380.1 L368.5,363.9 L368.9,365.9 L369.2,358.1 L369.6,360.3 L369.9,367.3 L370.3,360.7 L370.7,358.6 L371.0,380.6 L371.4,384.2 L371.7,362.8 L372.1,369.2 L372.5,360.0 L372.8,372.0 L373.2,364.0 L373.5,377.0 L373.9,380.4 L374.3,382.0 L374.6,364.8 L375.0,385.1 L375.3,386.4 L375.7,370.0 L376.1,390.2 L376.4,371.7 L376.8,369.2 L377.1,366.7 L377.5,389.9 L377.9,390.9 L378.2,385.6 L378.6,371.6 L378.9,368.6 L379.3,387.0 L379.7,387.2 L380.0,383.8 L380.4,364.7 L380.7,367.1 L381.1,381.4 L381.5,366.3 L381.8,388.9 L382.2,393.7 L382.5,394.4 L382.9,390.9 L383.3,368.2 L383.6,370.3 L384.0,394.7 L384.3,367.1 L384.7,371.1 L385.1,402.3 L385.4,371.1 L385.8,392.9 L386.1,376.5 L386.5,389.5 L386.9,395.5 L387.2,379.2 L387.6,396.0 L387.9,395.0 L388.3,374.2 L388.7,364.8 L389.0,396.3 L389.4,394.6 L389.7,364.3 L390.1,390.2 L390.5,398.8 L390.8,383.9 L391.2,395.1 L391.5,393.9 L391.9,384.2 L392.3,380.5 L392.6,375.8 L393.0,399.6 L393.3,395.6 L393.7,393.5 L394.1,379.9 L394.4,396.3 L394.8,379.4 L395.1,391.8 L395.5,378.6 L395.9,387.2 L396.2,391.6 L396.6,395.4 L396.9,401.8 L397.3,403.0 L397.7,397.3 L398.0,377.4 L398.4,387.2 L398.7,396.7 L399.1,400.6 L399.5,377.1 L399.8,388.1 L400.2,403.3 L400.5,403.4 L400.9,402.4 L401.3,382.4 L401.6,387.7 L402.0,404.6 L402.3,404.7 L402.7,405.7 L403.1,398.4 L403.4,398.9 L403.8,386.5 L404.1,399.8 L404.5,387.2 L404.9,403.7 L405.2,397.3 L405.6,388.5 L405.9,385.1 L406.3,384.5 L406.7,386.2 L407.0,408.0 L407.4,392.7 L407.7,398.3 L408.1,386.7 L408.5,408.3 L408.8,411.0 L409.2,398.2 L409.5,380.3 L409.9,411.5 L410.3,403.3 L410.6,388.5 L411.0,403.3 L411.3,389.7 L411.7,409.8 L412.1,409.6 L412.4,389.3 L412.8,394.1 L413.1,403.3 L413.5,391.2 L413.9,408.0 L414.2,398.2 L414.6,401.8 L414.9,396.0 L415.3,405.8 L415.7,405.5 L416.0,405.9 L416.4,393.3 L416.7,392.4 L417.1,389.5 L417.5,407.2 L417.8,384.9 L418.2,418.4 L418.5,382.0 L418.9,399.7 L419.3,408.0 L419.6,396.0 L420.0,381.0 L420.3,390.0 L420.7,398.0 L421.1,383.2 L421.4,393.5 L421.8,417.8 L422.1,380.2 L422.5,401.0 L422.9,386.6 L423.2,383.3 L423.6,396.4 L423.9,390.0 L424.3,386.5 L424.7,380.1 L425.0,405.3 L425.4,393.9 L425.7,389.2 L426.1,393.1 L426.5,389.0 L426.8,397.8 L427.2,399.7 L427.5,383.4 L427.9,400.8 L428.3,382.7 L428.6,392.2 L429.0,401.0 L429.3,393.7 L429.7,374.8 L430.1,391.0 L430.4,397.5 L430.8,375.2 L431.1,379.3 L431.5,385.5 L431.9,385.3 L432.2,402.1 L432.6,377.0 L432.9,379.5 L433.3,392.2 L433.7,377.7 L434.0,392.3 L434.4,372.5 L434.7,391.4 L435.1,387.3 L435.5,389.3 L435.8,386.3 L436.2,386.8 L436.5,386.1 L436.9,385.3 L437.3,381.7 L437.6,393.3 L438.0,395.0 L438.3,393.8 L438.7,392.8 L439.1,401.1 L439.4,404.1 L439.8,380.0 L440.1,390.1 L440.5,392.4 L440.9,381.8 L441.2,388.7 L441.6,391.4 L441.9,380.7 L442.3,392.3 L442.7,383.1 L443.0,391.7 L443.4,386.2 L443.7,383.7 L444.1,383.2 L444.5,396.2 L444.8,381.9 L445.2,393.0 L445.5,383.4 L445.9,401.8 L446.3,400.6 L446.6,386.9 L447.0,393.3 L447.3,403.6 L447.7,387.0 L448.1,406.9 L448.4,379.5 L448.8,411.1 L449.1,422.4 L449.5,386.3 L449.9,397.2 L450.2,405.5 L450.6,399.6 L450.9,397.3 L451.3,394.3 L451.7,407.2 L452.0,392.2 L452.4,409.3 L452.7,395.9 L453.1,404.9 L453.5,415.4 L453.8,406.6 L454.2,414.6 L454.5,392.8 L454.9,404.9 L455.3,409.5 L455.6,395.3 L456.0,411.0 L456.3,410.2 L456.7,405.0 L457.1,415.1 L457.4,392.9 L457.8,419.9 L458.1,396.6 L458.5,434.1 L458.9,398.1 L459.2,394.5 L459.6,411.2 L459.9,409.7 L460.3,415.9 L460.7,419.6 L461.0,408.9 L461.4,410.5 L461.7,412.2 L462.1,404.8 L462.5,417.9 L462.8,417.2 L463.2,400.3 L463.5,416.2 L463.9,402.2 L464.3,404.2 L464.6,411.8 L465.0,407.5 L465.3,411.0 L465.7,400.7 L466.1,415.0 L466.4,396.4 L466.8,393.1 L467.1,398.4 L467.5,406.5 L467.9,415.7 L468.2,400.2 L468.6,392.8 L468.9,388.4 L469.3,409.2 L469.7,397.5 L470.0,395.3 L470.4,392.5 L470.7,390.8 L471.1,407.5 L471.5,389.7 L471.8,404.7 L472.2,396.4 L472.5,402.2 L472.9,394.5 L473.3,387.1 L473.6,383.4 L474.0,406.6 L474.3,405.9 L474.7,385.4 L475.1,388.3 L475.4,392.7 L475.8,405.9 L476.1,388.9 L476.5,394.0 L476.9,377.3 L477.2,378.1 L477.6,397.1 L477.9,390.0 L478.3,376.5 L478.7,394.6 L479.0,379.5 L479.4,398.3 L479.7,400.3 L480.1,365.0 L480.5,376.4 L480.8,387.5 L481.2,395.6 L481.5,387.8 L481.9,371.1 L482.3,377.1 L482.6,389.7 L483.0,381.6 L483.3,376.0 L483.7,387.9 L484.1,402.0 L484.4,391.6 L484.8,380.1 L485.1,378.5 L485.5,376.6 L485.9,381.9 L486.2,391.3 L486.6,400.9 L486.9,382.6 L487.3,396.9 L487.7,403.4 L488.0,387.3 L488.4,399.0 L488.7,405.6 L489.1,384.3 L489.5,393.7 L489.8,403.1 L490.2,382.4 L490.5,381.0 L490.9,397.0 L491.3,395.6 L491.6,404.9 L492.0,397.8 L492.3,405.5 L492.7,394.7 L493.1,397.8 L493.4,403.8 L493.8,392.4 L494.1,392.8 L494.5,401.9 L494.9,383.4 L495.2,395.8 L495.6,387.0 L495.9,396.1 L496.3,383.4 L496.7,385.3 L497.0,400.0 L497.4,393.7 L497.7,405.8 L498.1,401.6 L498.5,399.7 L498.8,379.0 L499.2,387.5 L499.5,413.7 L499.9,389.0 L500.3,388.4 L500.6,415.4 L501.0,392.6 L501.3,401.5 L501.7,399.1 L502.1,396.8 L502.4,404.2 L502.8,415.4 L503.1,402.2 L503.5,384.7 L503.9,418.1 L504.2,403.7 L504.6,400.4 L504.9,405.3 L505.3,414.5 L505.7,411.9 L506.0,420.2 L506.4,402.4 L506.7,419.8 L507.1,403.9 L507.5,393.1 L507.8,411.3 L508.2,420.3 L508.5,400.0 L508.9,419.7 L509.3,418.0 L509.6,402.7 L510.0,416.1 L510.3,402.7 L510.7,411.3 L511.1,407.4 L511.4,398.7 L511.8,404.6 L512.1,403.3 L512.5,394.4 L512.9,417.0 L513.2,387.9 L513.6,424.6 L513.9,418.5 L514.3,401.8 L514.7,401.6 L515.0,414.6 L515.4,399.5 L515.7,417.2 L516.1,403.0 L516.5,400.4 L516.8,398.1 L517.2,398.0 L517.5,417.8 L517.9,403.3 L518.3,390.6 L518.6,391.2 L519.0,411.2 L519.3,414.4 L519.7,416.1 L520.1,390.3 L520.4,395.2 L520.8,411.9 L521.1,411.1 L521.5,411.4 L521.9,392.7 L522.2,409.4 L522.6,409.1 L522.9,413.5 L523.3,399.5 L523.7,405.5 L524.0,392.5 L524.4,408.5 L524.7,387.0 L525.1,411.8 L525.5,406.3 L525.8,395.5 L526.2,392.3 L526.5,386.5 L526.9,408.1 L527.3,413.0 L527.6,413.5 L528.0,400.2 L528.3,392.4 L528.7,387.2 L529.1,404.8 L529.4,400.1 L529.8,389.1 L530.1,397.8 L530.5,392.8 L530.9,404.1 L531.2,383.0 L531.6,385.7 L531.9,422.4 L532.3,393.2 L532.7,387.8 L533.0,395.4 L533.4,391.9 L533.7,387.9 L534.1,397.3 L534.5,393.8 L534.8,380.1 L535.2,387.4 L535.5,393.7 L535.9,394.0 L536.3,388.9 L536.6,380.7 L537.0,399.3 L537.3,390.2 L537.7,393.0 L538.1,399.0 L538.4,374.7 L538.8,376.9 L539.1,394.7 L539.5,376.2 L539.9,373.4 L540.2,401.5 L540.6,370.0 L540.9,397.4 L541.3,400.4 L541.7,382.8 L542.0,389.4 L542.4,373.9 L542.7,399.8 L543.1,396.4 L543.5,378.2 L543.8,371.7 L544.2,392.1 L544.5,398.8 L544.9,374.1 L545.3,396.3 L545.6,395.4 L546.0,375.9 L546.3,399.0 L546.7,375.4 L547.1,378.1 L547.4,382.1 L547.8,375.9 L548.1,379.4 L548.5,386.8 L548.9,387.8 L549.2,400.3 L549.6,375.6 L549.9,398.0 L550.3,378.6 L550.7,377.5 L551.0,397.9 L551.4,388.6 L551.7,392.5 L552.1,399.0 L552.5,395.1 L552.8,394.8 L553.2,383.0 L553.5,382.1 L553.9,388.1 L554.3,385.2 L554.6,379.4 L555.0,395.4 L555.3,396.9 L555.7,401.6 L556.1,393.7 L556.4,389.8 L556.8,385.7 L557.1,387.6 L557.5,400.4 L557.9,397.9 L558.2,379.3 L558.6,393.8 L558.9,402.7 L559.3,401.2 L559.7,387.0 L560.0,400.1 L560.4,412.3 L560.7,394.4 L561.1,401.9 L561.5,380.5 L561.8,404.0 L562.2,402.2 L562.5,389.7 L562.9,401.8 L563.3,392.8 L563.6,401.9 L564.0,388.5 L564.3,398.9 L564.7,381.8 L565.1,409.1 L565.4,401.4 L565.8,407.5 L566.1,400.6 L566.5,401.1 L566.9,408.2 L567.2,411.6 L567.6,392.9 L567.9,390.8 L568.3,404.5 L568.7,396.7 L569.0,412.8 L569.4,400.7 L569.7,387.5 L570.1,385.9 L570.5,407.8 L570.8,396.1 L571.2,394.3 L571.5,406.4 L571.9,393.8 L572.3,398.1 L572.6,398.6 L573.0,410.6 L573.3,407.9 L573.7,385.3 L574.1,394.7 L574.4,415.8 L574.8,401.7 L575.1,396.0 L575.5,413.1 L575.9,390.1 L576.2,413.6 L576.6,384.9 L576.9,388.4 L577.3,399.3 L577.7,390.6 L578.0,403.6 L578.4,399.8 L578.7,389.6 L579.1,395.5 L579.5,382.5 L579.8,408.6 L580.2,382.6 L580.5,390.4 L580.9,408.0 L581.3,396.1 L581.6,396.4 L582.0,399.6 L582.3,400.9 L582.7,389.8 L583.1,383.2 L583.4,397.9 L583.8,393.4 L584.1,398.3 L584.5,408.2 L584.9,396.8 L585.2,385.6 L585.6,389.6 L585.9,405.8 L586.3,412.2 L586.7,388.6 L587.0,407.8 L587.4,394.4 L587.7,400.6 L588.1,408.0 L588.5,406.2 L588.8,381.4 L589.2,395.4 L589.5,400.8 L589.9,384.9 L590.3,386.5 L590.6,404.1 L591.0,403.5 L591.3,411.0 L591.7,383.8 L592.1,383.9 L592.4,412.6 L592.8,404.0 L593.1,385.9 L593.5,402.5 L593.9,402.9 L594.2,404.5 L594.6,408.9 L594.9,406.0 L595.3,400.9 L595.7,395.7 L596.0,426.5 L596.4,415.0 L596.7,398.6 L597.1,393.9 L597.5,405.2 L597.8,405.3 L598.2,402.9 L598.5,412.0 L598.9,428.8 L599.3,398.1 L599.6,389.7 L600.0,391.2 L600.3,403.6 L600.7,397.0 L601.1,393.7 L601.4,415.7 L601.8,405.4 L602.1,414.1 L602.5,418.5 L602.9,394.4 L603.2,422.6 L603.6,411.1 L603.9,405.8 L604.3,411.5 L604.7,403.4 L605.0,407.8 L605.4,417.0 L605.7,404.7 L606.1,413.7 L606.5,409.1 L606.8,425.0 L607.2,408.5 L607.5,425.0 L607.9,402.9 L608.3,444.5 L608.6,419.1 L609.0,417.7 L609.3,404.3 L609.7,433.4 L610.1,424.1 L610.4,434.7 L610.8,433.0 L611.1,416.1 L611.5,420.4 L611.9,416.1 L612.2,436.5 L612.6,414.0 L612.9,439.2 L613.3,429.6 L613.7,425.9 L614.0,430.7 L614.4,429.7 L614.7,431.7 L615.1,429.6 L615.5,422.5 L615.8,441.8 L616.2,433.0 L616.5,446.2 L616.9,417.9 L617.3,445.1 L617.6,434.8 L618.0,436.6 L618.3,445.8 L618.7,416.7 L619.1,421.2 L619.4,434.2 L619.8,458.6 L620.1,416.4 L620.5,425.4 L620.9,439.3 L621.2,439.7 L621.6,464.1 L621.9,428.0 L622.3,446.6 L622.7,440.4 L623.0,439.6 L623.4,452.1 L623.7,430.5 L624.1,461.8 L624.5,441.3 L624.8,441.9 L625.2,439.8 L625.5,454.9 L625.9,445.7 L626.3,424.5 L626.6,446.1 L627.0,425.6 L627.3,443.1 L627.7,440.4 L628.1,422.8 L628.4,429.7 L628.8,438.1 L629.1,434.3 L629.5,427.0 L629.9,444.3 L630.2,456.9 L630.6,424.3 L630.9,450.6 L631.3,436.3 L631.7,433.4 L632.0,452.2 L632.4,457.3 L632.7,459.0 L633.1,457.0 L633.5,427.0 L633.8,422.8 L634.2,450.6 L634.5,451.0 L634.9,428.1 L635.3,443.6 L635.6,446.6 L636.0,436.9 L636.3,428.8 L636.7,435.3 L637.1,418.5 L637.4,423.0 L637.8,434.0 L638.1,434.0 L638.5,424.2 L638.9,449.3 L639.2,451.0 L639.6,436.5 L639.9,448.6 L640.3,431.0 L640.7,456.1 L641.0,462.3 L641.4,455.7 L641.7,454.6 L642.1,448.3 L642.5,455.7 L642.8,444.3 L643.2,436.1 L643.5,456.3 L643.9,446.9 L644.3,462.5 L644.6,449.5 L645.0,447.4 L645.3,428.4 L645.7,435.3 L646.1,454.2 L646.4,443.4 L646.8,461.9 L647.1,449.9 L647.5,436.4 L647.9,435.6 L648.2,436.6 L648.6,432.9 L648.9,444.5 L649.3,427.3 L649.7,446.2 L650.0,440.6 L650.4,457.5 L650.7,457.7 L651.1,434.6 L651.5,430.1 L651.8,439.2 L652.2,442.0 L652.5,449.9 L652.9,459.6 L653.3,456.5 L653.6,436.9 L654.0,442.7 L654.3,443.6 L654.7,454.5 L655.1,424.4 L655.4,451.8 L655.8,430.7 L656.1,425.2 L656.5,458.9 L656.9,434.2 L657.2,449.8 L657.6,435.3 L657.9,432.4 L658.3,442.3 L658.7,430.4 L659.0,430.6 L659.4,422.7 L659.7,447.4 L660.1,455.5 L660.5,420.1 L660.8,430.2 L661.2,452.4 L661.5,441.0 L661.9,422.5 L662.3,426.5 L662.6,423.9 L663.0,417.2 L663.3,420.6 L663.7,420.3 L664.1,434.4 L664.4,444.6 L664.8,434.4 L665.1,439.0 L665.5,447.1 L665.9,443.1 L666.2,416.3 L666.6,412.9 L666.9,447.3 L667.3,421.0 L667.7,444.5 L668.0,417.0 L668.4,455.9 L668.7,427.4 L669.1,411.0 L669.5,447.7 L669.8,414.0 L670.2,410.8 L670.5,440.7 L670.9,421.3 L671.3,410.5 L671.6,410.4 L672.0,425.6 L672.3,414.2 L672.7,424.1 L673.1,437.0 L673.4,448.2 L673.8,422.4 L674.1,433.0 L674.5,438.0 L674.9,441.6 L675.2,429.0 L675.6,440.9 L675.9,428.6 L676.3,404.6 L676.7,436.1 L677.0,429.8 L677.4,446.0 L677.7,423.9 L678.1,425.2 L678.5,430.3 L678.8,414.2 L679.2,435.5 L679.5,413.9 L679.9,447.2 L680.3,427.2 L680.6,448.6 L681.0,420.3 L681.3,442.7 L681.7,438.6 L682.1,437.8 L682.4,451.5 L682.8,420.1 L683.1,453.4 L683.5,429.1 L683.9,428.3 L684.2,445.8 L684.6,435.3 L684.9,424.5 L685.3,441.0 L685.7,453.7 L686.0,420.7 L686.4,435.9 L686.7,426.7 L687.1,447.2 L687.5,450.2 L687.8,424.6 L688.2,452.1 L688.5,431.7 L688.9,449.8 L689.3,425.1 L689.6,438.9 L690.0,445.4 L690.3,439.2 L690.7,447.7 L691.1,451.3 L691.4,457.8 L691.8,446.5 L692.1,427.8 L692.5,470.5 L692.9,436.2 L693.2,446.6 L693.6,446.3 L693.9,454.2 L694.3,442.4 L694.7,428.7 L695.0,435.0 L695.4,443.4 L695.7,441.3 L696.1,426.6 L696.5,408.8 L696.8,441.6 L697.2,441.7 L697.5,427.0 L697.9,438.1 L698.3,429.5 L698.6,432.8 L699.0,433.0 L699.3,443.6 L699.7,434.4 L700.1,455.6 L700.4,449.6 L700.8,458.8 L701.1,443.6 L701.5,435.9 L701.9,434.6 L702.2,420.3 L702.6,447.1 L702.9,432.4 L703.3,421.7 L703.7,457.2 L704.0,430.8 L704.4,425.4 L704.7,451.0 L705.1,451.5 L705.5,451.3 L705.8,445.2 L706.2,421.8 L706.5,442.2 L706.9,459.2 L707.3,439.0 L707.6,432.2 L708.0,442.3 L708.3,445.5 L708.7,467.7 L709.1,451.6 L709.4,453.3 L709.8,420.6 L710.1,423.3 L710.5,439.3 L710.9,422.3 L711.2,427.8 L711.6,455.1 L711.9,460.8 L712.3,454.9 L712.7,427.6 L713.0,452.6 L713.4,443.4 L713.7,459.2 L714.1,430.4 L714.5,455.5 L714.8,419.7 L715.2,468.6 L715.5,454.7 L715.9,440.0 L716.3,428.6 L716.6,412.5 L717.0,433.4 L717.3,443.9 L717.7,437.3 L718.1,423.9 L718.4,423.7 L718.8,458.4 L719.1,457.0 L719.5,440.1 L719.9,431.7 L720.2,428.2 L720.6,461.6 L720.9,445.4 L721.3,424.0 L721.7,447.9 L722.0,453.2 L722.4,434.8 L722.7,461.2 L723.1,424.1 L723.5,415.5 L723.8,446.6 L724.2,472.7 L724.5,419.0 L724.9,451.1 L725.3,460.0 L725.6,457.6 L726.0,452.1 L726.3,434.5 L726.7,434.5 L727.1,429.1 L727.4,456.7 L727.8,448.8 L728.1,445.0 L728.5,424.6 L728.9,456.2 L729.2,427.8 L729.6,442.2 L729.9,459.3 L730.3,436.4 L730.7,440.2 L731.0,459.9 L731.4,433.9 L731.7,440.4 L732.1,437.4 L732.5,438.4 L732.8,439.3 L733.2,462.2 L733.5,455.0 L733.9,424.3 L734.3,447.3 L734.6,423.6 L735.0,426.6 L735.3,447.7 L735.7,449.2 L736.1,431.2 L736.4,440.7 L736.8,439.7 L737.1,453.8 L737.5,442.4 L737.9,441.4 L738.2,460.2 L738.6,454.1 L738.9,431.9 L739.3,449.1 L739.7,436.7 L740.0,438.8 L740.4,452.8 L740.7,463.1 L741.1,442.7 L741.5,449.4 L741.8,431.5 L742.2,459.8 L742.5,435.1 L742.9,444.2 L743.3,439.2 L743.6,449.8 L744.0,440.8 L744.3,447.9 L744.7,446.8 L745.1,454.0 L745.4,456.6 L745.8,450.6 L746.1,458.7 L746.5,464.6 L746.9,446.9 L747.2,426.9 L747.6,473.8 L747.9,446.5 L748.3,460.3 L748.7,467.5 L749.0,413.8 L749.4,444.6 L749.7,458.6 L750.1,446.5 L750.5,446.4 L750.8,447.8 L751.2,468.5 L751.5,437.4 L751.9,434.7 L752.3,459.0 L752.6,462.6 L753.0,430.9 L753.3,455.2 L753.7,465.1 L754.1,459.4 L754.4,436.4 L754.8,437.4 L755.1,448.6 L755.5,446.2 L755.9,438.1 L756.2,452.2 L756.6,438.4 L756.9,433.9 L757.3,451.0 L757.7,469.6 L758.0,437.3 L758.4,439.4 L758.7,452.6 L759.1,470.3 L759.5,450.2 L759.8,440.1 L760.2,454.5 L760.5,443.4 L760.9,435.5 L761.3,456.2 L761.6,448.2 L762.0,469.2 L762.3,446.6 L762.7,437.0 L763.1,444.1 L763.4,450.3 L763.8,442.1 L764.1,447.5 L764.5,459.5 L764.9,462.2 L765.2,455.0 L765.6,450.4 L765.9,435.8 L766.3,458.4 L766.7,440.5 L767.0,461.6 L767.4,470.9 L767.7,467.6 L768.1,444.1 L768.5,451.9 L768.8,451.5 L769.2,464.8 L769.5,450.3 L769.9,447.4 L770.3,457.3 L770.6,456.7 L771.0,467.9 L771.3,472.2 L771.7,469.0 L772.1,474.8 L772.4,457.4 L772.8,451.8 L773.1,464.4 L773.5,471.3 L773.9,466.0 L774.2,460.6 L774.6,443.9 L774.9,466.6 L775.3,433.4 L775.7,455.8 L776.0,472.6 L776.4,461.3 L776.7,447.7 L777.1,477.2 L777.5,467.0 L777.8,422.6 L778.2,461.5 L778.5,466.5 L778.9,446.7 L779.3,457.7 L779.6,452.3 L780.0,464.9 L780.3,475.8 L780.7,460.4 L781.1,437.4 L781.4,450.5 L781.8,460.5 L782.1,471.2 L782.5,463.6 L782.9,447.4 L783.2,464.6 L783.6,475.5 L783.9,460.3 L784.3,473.7 L784.7,492.2 L785.0,440.5 L785.4,478.2 L785.7,439.8 L786.1,449.2 L786.5,465.2 L786.8,472.1 L787.2,447.0 L787.5,474.4 L787.9,467.2 L788.3,442.2 L788.6,457.1 L789.0,476.1 L789.3,458.2 L789.7,476.3 L790.1,448.6 L790.4,475.6 L790.8,468.6 L791.1,439.9 L791.5,443.2 L791.9,469.9 L792.2,473.7 L792.6,454.0 L792.9,449.8 L793.3,478.5 L793.7,473.6 L794.0,480.4 L794.4,446.2 L794.7,459.7 L795.1,442.0 L795.5,436.9 L795.8,454.9 L796.2,441.6 L796.5,444.3 L796.9,476.9 L797.3,474.8 L797.6,478.2 L798.0,476.9 L798.3,461.6 L798.7,461.3 L799.1,464.3 L799.4,471.9 L799.8,447.6 L800.1,457.9 L800.5,455.4 L800.9,472.2 L801.2,441.6 L801.6,466.6 L801.9,444.0 L802.3,462.6 L802.7,449.1 L803.0,481.6 L803.4,445.8 L803.7,453.0 L804.1,448.8 L804.5,450.6 L804.8,467.8 L805.2,441.7 L805.5,465.7 L805.9,485.2 L806.3,441.5 L806.6,479.1 L807.0,459.8 L807.3,441.4 L807.7,462.0 L808.1,455.3 L808.4,443.3 L808.8,470.2 L809.1,474.9 L809.5,466.8 L809.9,456.4 L810.2,471.7 L810.6,437.6 L810.9,445.1 L811.3,460.6 L811.7,443.7 L812.0,462.5 L812.4,454.7 L812.7,468.4 L813.1,479.8 L813.5,436.4 L813.8,464.8 L814.2,435.8 L814.5,455.6 L814.9,447.6 L815.3,452.3 L815.6,463.4 L816.0,432.2 L816.3,458.1 L816.7,468.7 L817.1,469.0 L817.4,453.0 L817.8,458.1 L818.1,437.0 L818.5,438.9 L818.9,471.4 L819.2,430.8 L819.6,467.8 L819.9,439.5 L820.3,451.1 L820.7,438.1 L821.0,432.0 L821.4,465.6 L821.7,456.5 L822.1,467.2 L822.5,456.6 L822.8,460.8 L823.2,436.4 L823.5,431.8 L823.9,435.4 L824.3,467.4 L824.6,432.5 L825.0,435.6 L825.3,436.7 L825.7,434.9 L826.1,446.2 L826.4,457.7 L826.8,471.3 L827.1,439.8 L827.5,434.9 L827.9,473.9 L828.2,438.8 L828.6,465.0 L828.9,473.3 L829.3,451.0 L829.7,475.8 L830.0,447.4 L830.4,441.0 L830.7,471.6 L831.1,462.2 L831.5,447.5 L831.8,436.3 L832.2,446.9 L832.5,460.7 L832.9,457.9 L833.3,445.8 L833.6,452.0 L834.0,448.0 L834.3,437.4 L834.7,462.1 L835.1,458.5 L835.4,473.4 L835.8,471.0 L836.1,453.2 L836.5,469.4 L836.9,464.0 L837.2,476.8 L837.6,447.3 L837.9,450.1 L838.3,458.1 L838.7,444.1 L839.0,462.9 L839.4,455.1 L839.7,470.0 L840.1,473.1 L840.5,443.0 L840.8,482.0 L841.2,473.5 L841.5,472.2 L841.9,450.3 L842.3,451.0 L842.6,478.0 L843.0,442.3 L843.3,445.9 L843.7,467.4 L844.1,451.5 L844.4,463.9 L844.8,464.9 L845.1,459.6 L845.5,476.5 L845.9,450.8 L846.2,474.6 L846.6,460.1 L846.9,481.7 L847.3,489.0 L847.7,452.7 L848.0,457.0 L848.4,452.8 L848.7,457.4 L849.1,461.0 L849.5,478.0 L849.8,475.2 L850.2,479.0 L850.5,468.9 L850.9,458.6 L851.3,452.3 L851.6,446.6 L852.0,474.0 L852.3,456.6 L852.7,461.9 L853.1,474.1 L853.4,470.1 L853.8,452.7 L854.1,464.4 L854.5,475.7 L854.9,486.1 L855.2,459.2 L855.6,438.4 L855.9,468.4 L856.3,463.2 L856.7,486.5 L857.0,473.7 L857.4,459.5 L857.7,470.7 L858.1,471.6 L858.5,460.2 L858.8,474.3 L859.2,481.0 L859.5,456.8 L859.9,460.5 L860.3,454.1 L860.6,461.2 L861.0,481.3 L861.3,479.7 L861.7,486.5 L862.1,462.5 L862.4,449.3 L862.8,487.4 L863.1,466.4 L863.5,447.9 L863.9,472.5 L864.2,454.7 L864.6,461.6 L864.9,458.6 L865.3,456.8 L865.7,477.4 L866.0,442.1 L866.4,478.9 L866.7,443.5 L867.1,444.2 L867.5,446.7 L867.8,475.8 L868.2,480.3 L868.5,444.5 L868.9,461.6 L869.3,464.0 L869.6,447.0 L870.0,470.3 L870.3,458.6 L870.7,448.2 L871.1,447.6 L871.4,464.1 L871.8,438.1 L872.1,472.1 L872.5,472.1 L872.9,461.0 L873.2,438.5 L873.6,467.9 L873.9,454.1 L874.3,441.3 L874.7,452.2 L875.0,455.8 L875.4,444.0 L875.7,480.1 L876.1,457.6 L876.5,439.5 L876.8,466.1 L877.2,456.5 L877.5,462.1 L877.9,462.0 L878.3,456.4 L878.6,489.8 L879.0,477.1 L879.3,463.5 L879.7,463.6 L880.1,460.8 L880.4,458.9 L880.8,480.8 L881.1,481.4 L881.5,473.7 L881.9,443.7 L882.2,458.5 L882.6,472.4 L882.9,465.7 M463.5,405 L464.2,478 L465,410 M196,398 L196.5,425 L197,400 M742,450 L742.5,498 L743,455 M849,460 L849.5,509 L850.2,465 M852,462 L852.6,505 L853,470" fill="none" stroke="#a4a6a9" stroke-width="1.7" stroke-linejoin="round"/>
<path d="M107.0,390.0 C108.3,389.2 111.5,386.3 115.0,385.3 C118.5,384.3 123.8,383.7 128.0,383.8 C132.2,383.9 135.5,384.9 140.0,386.2 C144.5,387.5 150.0,390.1 155.0,391.5 C160.0,392.9 165.0,394.0 170.0,394.5 C175.0,395.0 180.0,394.9 185.0,394.5 C190.0,394.1 196.3,394.4 200.0,392.4 C203.7,390.3 204.8,384.6 207.0,382.2 C209.2,379.8 210.8,378.4 213.0,378.2 C215.2,377.9 217.8,380.5 220.0,380.7 C222.2,380.9 223.5,381.0 226.0,379.2 C228.5,377.4 231.8,373.1 235.0,370.0 C238.2,366.9 241.7,363.6 245.0,360.7 C248.3,357.8 251.7,354.6 255.0,352.4 C258.3,350.2 261.3,348.8 265.0,347.5 C268.7,346.2 272.8,344.4 277.0,344.4 C281.2,344.4 286.5,346.3 290.0,347.5 C293.5,348.7 293.8,350.9 298.0,351.5 C302.2,352.1 309.7,350.5 315.0,350.9 C320.3,351.3 326.7,352.8 330.0,354.0 C333.3,355.2 332.8,358.5 335.0,358.3 C337.2,358.1 340.5,354.2 343.0,353.0 C345.5,351.8 348.0,350.9 350.0,350.9 C352.0,350.9 353.0,350.3 355.0,353.0 C357.0,355.7 359.2,363.0 362.0,366.9 C364.8,370.8 368.2,373.2 372.0,376.1 C375.8,379.0 380.3,381.8 385.0,384.4 C389.7,387.0 395.5,389.4 400.0,391.5 C404.5,393.6 406.8,397.6 412.0,397.0 C417.2,396.4 425.3,388.2 431.0,388.0 C436.7,387.8 440.5,392.0 446.0,396.0 C451.5,400.0 458.0,414.0 464.0,412.0 C470.0,410.0 476.5,386.4 482.0,384.0 C487.5,381.6 492.5,393.8 497.0,397.5 C501.5,401.2 504.0,406.1 509.0,406.4 C514.0,406.6 521.2,403.1 527.0,399.0 C532.8,394.9 538.5,383.5 544.0,381.7 C549.5,379.9 555.2,385.2 560.0,388.0 C564.8,390.8 569.7,397.4 573.0,398.5 C576.3,399.6 577.3,395.5 580.0,394.4 C582.7,393.3 586.0,391.0 589.0,391.8 C592.0,392.6 594.2,393.8 598.0,399.0 C601.8,404.2 607.2,417.1 612.0,423.0 C616.8,428.9 622.5,432.4 627.0,434.7 C631.5,437.0 634.0,437.5 639.0,437.0 C644.0,436.5 652.2,434.3 657.0,431.8 C661.8,429.3 664.8,423.5 668.0,422.0 C671.2,420.5 673.7,422.0 676.0,423.0 C678.3,424.0 680.7,426.7 682.0,428.0 C683.3,429.3 681.0,430.4 684.0,431.0 C687.0,431.6 692.3,430.9 700.0,431.5 C707.7,432.1 720.0,432.9 730.0,434.7 C740.0,436.4 750.0,439.1 760.0,442.0 C770.0,444.9 782.3,450.6 790.0,452.0 C797.7,453.4 801.0,452.2 806.0,450.5 C811.0,448.8 815.7,442.9 820.0,442.0 C824.3,441.1 826.2,441.7 832.0,445.3 C837.8,448.9 849.5,461.8 855.0,463.5 C860.5,465.2 861.7,457.1 865.0,455.3 C868.3,453.5 871.8,452.8 875.0,452.9 C878.2,453.0 882.5,455.5 884.0,456.0" fill="none" stroke="#e5242b" stroke-width="2.6" stroke-linejoin="round"/>
<path d="M107.5,539.8 L107.9,557.8 L108.2,553.0 L108.6,542.2 L108.9,520.2 L109.3,537.7 L109.7,515.7 L110.0,557.5 L110.4,540.9 L110.7,510.9 L111.1,548.3 L111.5,545.7 L111.8,558.5 L112.2,560.3 L112.5,529.5 L112.9,508.3 L113.3,508.5 L113.6,501.6 L114.0,510.4 L114.3,546.7 L114.7,501.3 L115.1,491.9 L115.4,541.9 L115.8,503.9 L116.1,539.7 L116.5,542.3 L116.9,534.9 L117.2,501.7 L117.6,537.7 L117.9,506.4 L118.3,502.4 L118.7,488.6 L119.0,552.6 L119.4,556.5 L119.7,506.0 L120.1,518.3 L120.5,510.4 L120.8,520.6 L121.2,508.6 L121.5,565.6 L121.9,550.7 L122.3,560.3 L122.6,550.2 L123.0,531.1 L123.3,523.9 L123.7,522.3 L124.1,540.1 L124.4,543.6 L124.8,523.7 L125.1,539.6 L125.5,509.3 L125.9,504.8 L126.2,551.5 L126.6,514.1 L126.9,556.5 L127.3,561.3 L127.7,515.1 L128.0,519.0 L128.4,537.6 L128.7,520.5 L129.1,504.9 L129.5,534.6 L129.8,509.2 L130.2,535.5 L130.5,512.3 L130.9,540.7 L131.3,550.4 L131.6,507.8 L132.0,557.1 L132.3,543.2 L132.7,541.2 L133.1,540.2 L133.4,516.8 L133.8,503.0 L134.1,541.3 L134.5,522.1 L134.9,572.3 L135.2,511.9 L135.6,543.7 L135.9,543.1 L136.3,544.1 L136.7,537.1 L137.0,515.9 L137.4,556.6 L137.7,515.0 L138.1,513.8 L138.5,549.2 L138.8,555.8 L139.2,495.7 L139.5,496.9 L139.9,530.2 L140.3,548.9 L140.6,552.7 L141.0,510.1 L141.3,544.0 L141.7,541.6 L142.1,548.3 L142.4,546.3 L142.8,534.7 L143.1,522.4 L143.5,519.3 L143.9,536.5 L144.2,508.8 L144.6,528.9 L144.9,497.6 L145.3,510.8 L145.7,494.1 L146.0,496.6 L146.4,496.4 L146.7,495.1 L147.1,500.3 L147.5,497.4 L147.8,541.3 L148.2,522.3 L148.5,491.6 L148.9,499.3 L149.3,537.8 L149.6,526.2 L150.0,505.5 L150.3,487.2 L150.7,509.5 L151.1,506.9 L151.4,466.6 L151.8,546.3 L152.1,536.7 L152.5,532.8 L152.9,521.7 L153.2,537.4 L153.6,539.8 L153.9,520.2 L154.3,509.6 L154.7,501.5 L155.0,518.2 L155.4,498.1 L155.7,498.1 L156.1,536.6 L156.5,494.9 L156.8,505.2 L157.2,544.5 L157.5,531.2 L157.9,525.4 L158.3,558.0 L158.6,494.6 L159.0,493.5 L159.3,500.2 L159.7,502.1 L160.1,498.2 L160.4,498.1 L160.8,551.4 L161.1,475.0 L161.5,535.9 L161.9,539.9 L162.2,515.4 L162.6,569.6 L162.9,520.2 L163.3,538.8 L163.7,512.1 L164.0,514.7 L164.4,505.5 L164.7,537.0 L165.1,555.9 L165.5,536.9 L165.8,505.5 L166.2,510.7 L166.5,534.2 L166.9,529.8 L167.3,517.7 L167.6,486.6 L168.0,502.3 L168.3,509.5 L168.7,531.6 L169.1,540.2 L169.4,546.9 L169.8,543.6 L170.1,507.2 L170.5,471.3 L170.9,504.3 L171.2,507.8 L171.6,506.3 L171.9,508.3 L172.3,553.6 L172.7,532.6 L173.0,477.4 L173.4,501.2 L173.7,525.5 L174.1,514.1 L174.5,547.7 L174.8,489.5 L175.2,550.4 L175.5,516.0 L175.9,493.7 L176.3,529.4 L176.6,512.2 L177.0,515.1 L177.3,521.7 L177.7,526.8 L178.1,513.6 L178.4,500.8 L178.8,525.2 L179.1,490.3 L179.5,502.4 L179.9,541.1 L180.2,503.5 L180.6,524.1 L180.9,546.6 L181.3,527.0 L181.7,516.7 L182.0,500.5 L182.4,507.6 L182.7,522.1 L183.1,534.8 L183.5,531.3 L183.8,519.5 L184.2,543.0 L184.5,485.1 L184.9,503.5 L185.3,537.0 L185.6,521.8 L186.0,558.6 L186.3,533.1 L186.7,498.8 L187.1,482.1 L187.4,483.8 L187.8,507.2 L188.1,505.0 L188.5,485.9 L188.9,493.8 L189.2,527.7 L189.6,547.6 L189.9,484.0 L190.3,517.1 L190.7,497.9 L191.0,519.4 L191.4,494.1 L191.7,537.7 L192.1,503.5 L192.5,521.5 L192.8,477.3 L193.2,524.5 L193.5,544.0 L193.9,502.0 L194.3,483.3 L194.6,482.8 L195.0,498.8 L195.3,529.3 L195.7,515.5 L196.1,511.3 L196.4,484.7 L196.8,501.3 L197.1,514.6 L197.5,525.5 L197.9,528.0 L198.2,461.7 L198.6,525.8 L198.9,484.1 L199.3,510.2 L199.7,523.2 L200.0,535.2 L200.4,542.2 L200.7,527.2 L201.1,462.4 L201.5,510.3 L201.8,511.8 L202.2,504.4 L202.5,541.1 L202.9,506.9 L203.3,484.3 L203.6,535.0 L204.0,473.5 L204.3,510.5 L204.7,540.3 L205.1,487.4 L205.4,488.7 L205.8,516.6 L206.1,484.4 L206.5,536.9 L206.9,540.9 L207.2,498.5 L207.6,534.5 L207.9,509.3 L208.3,555.3 L208.7,508.8 L209.0,537.7 L209.4,502.5 L209.7,555.3 L210.1,502.4 L210.5,498.0 L210.8,543.8 L211.2,487.8 L211.5,491.0 L211.9,520.1 L212.3,541.4 L212.6,536.3 L213.0,526.2 L213.3,482.9 L213.7,485.0 L214.1,529.9 L214.4,529.6 L214.8,541.3 L215.1,503.4 L215.5,516.4 L215.9,499.1 L216.2,487.5 L216.6,560.3 L216.9,524.7 L217.3,485.2 L217.7,469.3 L218.0,534.0 L218.4,526.5 L218.7,498.1 L219.1,478.7 L219.5,492.2 L219.8,485.5 L220.2,499.6 L220.5,506.5 L220.9,505.3 L221.3,484.5 L221.6,496.1 L222.0,488.6 L222.3,527.0 L222.7,523.0 L223.1,532.0 L223.4,530.9 L223.8,523.3 L224.1,485.8 L224.5,496.4 L224.9,529.0 L225.2,492.2 L225.6,485.8 L225.9,529.4 L226.3,498.7 L226.7,514.2 L227.0,483.5 L227.4,512.2 L227.7,532.9 L228.1,522.9 L228.5,482.2 L228.8,524.7 L229.2,519.1 L229.5,474.8 L229.9,489.4 L230.3,486.9 L230.6,525.1 L231.0,504.8 L231.3,470.7 L231.7,492.0 L232.1,508.7 L232.4,463.5 L232.8,505.8 L233.1,462.1 L233.5,505.9 L233.9,467.4 L234.2,516.5 L234.6,461.7 L234.9,497.4 L235.3,470.3 L235.7,457.2 L236.0,458.8 L236.4,490.3 L236.7,510.3 L237.1,494.9 L237.5,455.5 L237.8,452.8 L238.2,512.9 L238.5,478.4 L238.9,508.3 L239.3,500.4 L239.6,497.9 L240.0,505.4 L240.3,452.7 L240.7,473.2 L241.1,456.6 L241.4,514.4 L241.8,509.4 L242.1,508.5 L242.5,458.8 L242.9,492.3 L243.2,510.3 L243.6,490.8 L243.9,491.9 L244.3,488.7 L244.7,462.3 L245.0,517.2 L245.4,499.6 L245.7,516.1 L246.1,510.5 L246.5,471.9 L246.8,504.2 L247.2,490.1 L247.5,470.0 L247.9,493.6 L248.3,518.8 L248.6,460.2 L249.0,500.3 L249.3,484.6 L249.7,490.1 L250.1,502.8 L250.4,472.6 L250.8,463.5 L251.1,470.3 L251.5,515.2 L251.9,502.3 L252.2,492.2 L252.6,512.0 L252.9,479.4 L253.3,470.1 L253.7,499.3 L254.0,506.9 L254.4,492.5 L254.7,465.3 L255.1,489.8 L255.5,505.0 L255.8,484.2 L256.2,518.5 L256.5,475.4 L256.9,520.7 L257.3,485.6 L257.6,468.1 L258.0,477.7 L258.3,470.0 L258.7,496.5 L259.1,515.6 L259.4,510.2 L259.8,533.3 L260.1,466.0 L260.5,502.0 L260.9,512.8 L261.2,484.3 L261.6,494.7 L261.9,493.7 L262.3,496.9 L262.7,472.1 L263.0,537.9 L263.4,485.4 L263.7,503.6 L264.1,474.4 L264.5,537.4 L264.8,477.6 L265.2,519.5 L265.5,532.9 L265.9,519.1 L266.3,499.8 L266.6,501.8 L267.0,513.7 L267.3,489.2 L267.7,476.5 L268.1,529.4 L268.4,505.4 L268.8,520.3 L269.1,503.5 L269.5,490.7 L269.9,476.4 L270.2,512.2 L270.6,507.2 L270.9,473.7 L271.3,482.3 L271.7,532.1 L272.0,516.9 L272.4,544.4 L272.7,494.4 L273.1,512.5 L273.5,523.5 L273.8,478.3 L274.2,512.4 L274.5,507.2 L274.9,467.3 L275.3,478.0 L275.6,496.1 L276.0,512.8 L276.3,487.4 L276.7,505.2 L277.1,497.0 L277.4,506.1 L277.8,549.4 L278.1,519.2 L278.5,478.5 L278.9,547.3 L279.2,476.4 L279.6,494.3 L279.9,519.9 L280.3,523.2 L280.7,536.5 L281.0,490.6 L281.4,507.4 L281.7,516.2 L282.1,525.0 L282.5,530.7 L282.8,495.3 L283.2,531.4 L283.5,490.5 L283.9,523.6 L284.3,479.5 L284.6,490.9 L285.0,528.2 L285.3,535.2 L285.7,501.9 L286.1,522.6 L286.4,498.2 L286.8,546.4 L287.1,510.2 L287.5,481.5 L287.9,468.4 L288.2,514.8 L288.6,533.1 L288.9,528.2 L289.3,484.9 L289.7,496.9 L290.0,473.3 L290.4,473.8 L290.7,533.0 L291.1,481.2 L291.5,492.2 L291.8,515.8 L292.2,482.6 L292.5,494.5 L292.9,453.5 L293.3,518.8 L293.6,489.5 L294.0,477.7 L294.3,486.2 L294.7,504.9 L295.1,494.9 L295.4,450.2 L295.8,484.4 L296.1,487.0 L296.5,530.6 L296.9,488.3 L297.2,534.9 L297.6,522.5 L297.9,469.6 L298.3,467.3 L298.7,486.9 L299.0,526.5 L299.4,531.5 L299.7,486.1 L300.1,462.8 L300.5,493.0 L300.8,462.8 L301.2,475.2 L301.5,473.6 L301.9,482.2 L302.3,470.9 L302.6,473.0 L303.0,462.5 L303.3,492.2 L303.7,478.6 L304.1,514.8 L304.4,511.0 L304.8,491.8 L305.1,521.2 L305.5,484.1 L305.9,467.1 L306.2,517.5 L306.6,524.6 L306.9,467.9 L307.3,490.3 L307.7,466.7 L308.0,506.4 L308.4,517.1 L308.7,471.1 L309.1,511.9 L309.5,498.9 L309.8,475.7 L310.2,482.4 L310.5,482.3 L310.9,482.9 L311.3,503.1 L311.6,473.3 L312.0,527.1 L312.3,493.7 L312.7,496.8 L313.1,517.9 L313.4,475.8 L313.8,484.0 L314.1,513.7 L314.5,513.2 L314.9,501.6 L315.2,517.8 L315.6,471.1 L315.9,515.6 L316.3,523.9 L316.7,517.8 L317.0,527.1 L317.4,500.2 L317.7,524.6 L318.1,520.0 L318.5,475.4 L318.8,508.3 L319.2,532.7 L319.5,505.3 L319.9,500.0 L320.3,500.0 L320.6,528.3 L321.0,499.3 L321.3,489.3 L321.7,519.3 L322.1,538.2 L322.4,515.4 L322.8,479.5 L323.1,484.4 L323.5,496.7 L323.9,522.9 L324.2,534.7 L324.6,527.1 L324.9,486.8 L325.3,522.7 L325.7,529.6 L326.0,509.3 L326.4,495.3 L326.7,514.0 L327.1,510.6 L327.5,504.5 L327.8,484.2 L328.2,499.8 L328.5,528.9 L328.9,502.6 L329.3,523.7 L329.6,509.0 L330.0,496.0 L330.3,527.7 L330.7,539.0 L331.1,526.5 L331.4,528.0 L331.8,507.0 L332.1,472.3 L332.5,482.7 L332.9,520.2 L333.2,528.3 L333.6,490.9 L333.9,488.9 L334.3,526.5 L334.7,508.2 L335.0,503.9 L335.4,521.9 L335.7,487.8 L336.1,518.6 L336.5,526.5 L336.8,529.8 L337.2,486.5 L337.5,490.3 L337.9,533.9 L338.3,539.8 L338.6,540.6 L339.0,521.3 L339.3,496.0 L339.7,539.2 L340.1,513.5 L340.4,549.1 L340.8,524.9 L341.1,495.6 L341.5,497.2 L341.9,551.6 L342.2,518.0 L342.6,496.4 L342.9,504.5 L343.3,520.6 L343.7,558.1 L344.0,502.8 L344.4,550.2 L344.7,525.4 L345.1,548.5 L345.5,553.3 L345.8,558.1 L346.2,516.8 L346.5,549.1 L346.9,516.5 L347.3,521.9 L347.6,522.9 L348.0,567.7 L348.3,563.7 L348.7,555.4 L349.1,523.6 L349.4,520.4 L349.8,558.0 L350.1,503.3 L350.5,564.1 L350.9,555.1 L351.2,535.7 L351.6,546.6 L351.9,562.8 L352.3,542.5 L352.7,516.8 L353.0,539.0 L353.4,557.5 L353.7,548.3 L354.1,562.2 L354.5,557.9 L354.8,588.1 L355.2,555.8 L355.5,529.3 L355.9,526.2 L356.3,523.1 L356.6,539.7 L357.0,539.7 L357.3,530.4 L357.7,561.0 L358.1,527.9 L358.4,518.4 L358.8,541.1 L359.1,535.8 L359.5,569.3 L359.9,540.9 L360.2,541.4 L360.6,565.8 L360.9,552.5 L361.3,530.3 L361.7,570.4 L362.0,516.7 L362.4,520.0 L362.7,540.3 L363.1,532.5 L363.5,567.9 L363.8,565.1 L364.2,556.8 L364.5,527.0 L364.9,545.1 L365.3,528.9 L365.6,575.3 L366.0,538.5 L366.3,570.7 L366.7,564.0 L367.1,553.4 L367.4,563.0 L367.8,539.6 L368.1,587.8 L368.5,568.9 L368.9,548.2 L369.2,529.5 L369.6,549.6 L369.9,592.1 L370.3,569.9 L370.7,570.8 L371.0,539.4 L371.4,530.6 L371.7,577.4 L372.1,555.9 L372.5,543.3 L372.8,538.9 L373.2,576.6 L373.5,537.2 L373.9,575.6 L374.3,568.7 L374.6,543.3 L375.0,580.5 L375.3,581.7 L375.7,539.5 L376.1,560.4 L376.4,560.8 L376.8,556.4 L377.1,598.2 L377.5,559.5 L377.9,572.6 L378.2,585.6 L378.6,584.2 L378.9,569.4 L379.3,588.2 L379.7,562.5 L380.0,577.7 L380.4,542.4 L380.7,559.3 L381.1,555.9 L381.5,597.1 L381.8,543.2 L382.2,546.5 L382.5,567.3 L382.9,589.4 L383.3,586.8 L383.6,565.5 L384.0,548.1 L384.3,574.0 L384.7,552.6 L385.1,549.3 L385.4,563.7 L385.8,540.9 L386.1,604.1 L386.5,578.6 L386.9,553.2 L387.2,544.2 L387.6,564.8 L387.9,550.0 L388.3,591.0 L388.7,564.6 L389.0,574.1 L389.4,585.7 L389.7,565.0 L390.1,575.3 L390.5,561.7 L390.8,582.0 L391.2,534.3 L391.5,561.0 L391.9,585.6 L392.3,561.8 L392.6,555.5 L393.0,597.6 L393.3,570.0 L393.7,574.4 L394.1,565.3 L394.4,541.5 L394.8,585.7 L395.1,547.2 L395.5,590.6 L395.9,572.5 L396.2,578.7 L396.6,592.0 L396.9,579.1 L397.3,544.8 L397.7,595.5 L398.0,580.1 L398.4,587.1 L398.7,551.8 L399.1,579.1 L399.5,576.6 L399.8,568.1 L400.2,576.6 L400.5,549.4 L400.9,560.1 L401.3,588.1 L401.6,585.6 L402.0,574.2 L402.3,540.8 L402.7,579.9 L403.1,574.5 L403.4,577.8 L403.8,575.8 L404.1,569.5 L404.5,562.4 L404.9,539.8 L405.2,560.5 L405.6,575.8 L405.9,580.9 L406.3,541.5 L406.7,567.3 L407.0,584.8 L407.4,562.5 L407.7,549.1 L408.1,542.3 L408.5,562.0 L408.8,549.8 L409.2,552.5 L409.5,576.5 L409.9,565.7 L410.3,545.7 L410.6,547.4 L411.0,536.8 L411.3,537.6 L411.7,576.1 L412.1,571.3 L412.4,537.4 L412.8,584.2 L413.1,536.3 L413.5,536.4 L413.9,546.2 L414.2,558.1 L414.6,559.7 L414.9,576.7 L415.3,561.9 L415.7,541.8 L416.0,549.7 L416.4,576.4 L416.7,574.9 L417.1,576.8 L417.5,571.8 L417.8,545.9 L418.2,548.9 L418.5,554.1 L418.9,548.2 L419.3,565.6 L419.6,551.5 L420.0,576.4 L420.3,541.0 L420.7,573.3 L421.1,537.9 L421.4,537.4 L421.8,585.0 L422.1,568.9 L422.5,541.9 L422.9,543.0 L423.2,577.7 L423.6,553.0 L423.9,567.3 L424.3,581.8 L424.7,581.9 L425.0,591.2 L425.4,572.5 L425.7,558.9 L426.1,567.4 L426.5,564.1 L426.8,560.1 L427.2,592.5 L427.5,587.2 L427.9,535.9 L428.3,590.7 L428.6,592.6 L429.0,565.9 L429.3,570.7 L429.7,564.6 L430.1,567.3 L430.4,579.5 L430.8,576.8 L431.1,542.8 L431.5,538.4 L431.9,569.0 L432.2,552.1 L432.6,577.1 L432.9,538.6 L433.3,550.7 L433.7,567.7 L434.0,576.1 L434.4,558.1 L434.7,565.2 L435.1,557.3 L435.5,554.1 L435.8,558.0 L436.2,575.5 L436.5,570.8 L436.9,544.5 L437.3,570.5 L437.6,583.7 L438.0,559.8 L438.3,581.4 L438.7,576.7 L439.1,564.5 L439.4,544.2 L439.8,568.6 L440.1,556.8 L440.5,591.6 L440.9,585.3 L441.2,587.2 L441.6,544.2 L441.9,582.0 L442.3,589.7 L442.7,576.6 L443.0,563.8 L443.4,552.0 L443.7,585.2 L444.1,549.4 L444.5,546.6 L444.8,583.7 L445.2,581.5 L445.5,564.1 L445.9,587.1 L446.3,589.6 L446.6,565.1 L447.0,546.0 L447.3,552.0 L447.7,566.4 L448.1,556.9 L448.4,550.4 L448.8,564.3 L449.1,566.7 L449.5,579.4 L449.9,586.1 L450.2,574.1 L450.6,593.8 L450.9,555.8 L451.3,547.0 L451.7,561.1 L452.0,547.2 L452.4,595.8 L452.7,571.3 L453.1,575.5 L453.5,551.8 L453.8,549.2 L454.2,546.7 L454.5,566.0 L454.9,587.5 L455.3,543.2 L455.6,543.8 L456.0,538.4 L456.3,557.4 L456.7,566.4 L457.1,576.6 L457.4,552.9 L457.8,587.3 L458.1,557.0 L458.5,561.3 L458.9,586.3 L459.2,564.4 L459.6,546.8 L459.9,549.7 L460.3,577.6 L460.7,554.1 L461.0,552.0 L461.4,535.8 L461.7,535.9 L462.1,541.6 L462.5,548.9 L462.8,583.1 L463.2,589.1 L463.5,588.4 L463.9,559.7 L464.3,548.6 L464.6,577.4 L465.0,583.2 L465.3,591.7 L465.7,570.1 L466.1,550.0 L466.4,541.5 L466.8,564.3 L467.1,580.8 L467.5,557.8 L467.9,573.0 L468.2,541.3 L468.6,568.6 L468.9,544.2 L469.3,569.7 L469.7,544.7 L470.0,556.5 L470.4,553.9 L470.7,538.8 L471.1,567.1 L471.5,540.2 L471.8,568.1 L472.2,561.1 L472.5,578.9 L472.9,528.8 L473.3,540.1 L473.6,553.8 L474.0,571.4 L474.3,540.5 L474.7,545.9 L475.1,542.2 L475.4,577.3 L475.8,550.7 L476.1,544.0 L476.5,570.3 L476.9,550.9 L477.2,566.7 L477.6,576.7 L477.9,569.7 L478.3,579.7 L478.7,552.1 L479.0,577.4 L479.4,571.5 L479.7,560.8 L480.1,573.2 L480.5,573.0 L480.8,549.1 L481.2,554.0 L481.5,567.7 L481.9,550.9 L482.3,563.3 L482.6,560.3 L483.0,569.0 L483.3,535.1 L483.7,572.1 L484.1,577.2 L484.4,565.7 L484.8,557.6 L485.1,551.6 L485.5,584.6 L485.9,588.6 L486.2,579.9 L486.6,535.8 L486.9,583.2 L487.3,563.1 L487.7,553.7 L488.0,566.0 L488.4,543.8 L488.7,547.7 L489.1,571.3 L489.5,589.7 L489.8,590.6 L490.2,576.4 L490.5,556.7 L490.9,543.0 L491.3,584.7 L491.6,545.5 L492.0,582.0 L492.3,581.9 L492.7,550.1 L493.1,581.3 L493.4,532.3 L493.8,558.7 L494.1,584.8 L494.5,557.0 L494.9,576.5 L495.2,551.2 L495.6,591.0 L495.9,581.5 L496.3,567.4 L496.7,551.9 L497.0,595.8 L497.4,569.9 L497.7,592.9 L498.1,595.6 L498.5,575.9 L498.8,569.4 L499.2,561.2 L499.5,571.3 L499.9,567.6 L500.3,553.5 L500.6,611.0 L501.0,608.9 L501.3,593.5 L501.7,548.5 L502.1,599.1 L502.4,580.3 L502.8,564.5 L503.1,585.6 L503.5,584.1 L503.9,608.7 L504.2,542.3 L504.6,564.8 L504.9,558.1 L505.3,579.4 L505.7,567.0 L506.0,580.2 L506.4,592.2 L506.7,565.3 L507.1,599.1 L507.5,594.4 L507.8,591.9 L508.2,556.3 L508.5,545.4 L508.9,610.2 L509.3,582.7 L509.6,575.0 L510.0,570.2 L510.3,572.8 L510.7,584.2 L511.1,556.6 L511.4,575.7 L511.8,616.1 L512.1,583.2 L512.5,589.6 L512.9,591.9 L513.2,598.0 L513.6,556.8 L513.9,556.1 L514.3,560.5 L514.7,568.4 L515.0,556.7 L515.4,585.7 L515.7,593.3 L516.1,593.9 L516.5,578.9 L516.8,577.4 L517.2,569.6 L517.5,603.8 L517.9,596.4 L518.3,597.6 L518.6,583.4 L519.0,561.9 L519.3,562.8 L519.7,561.1 L520.1,604.7 L520.4,562.3 L520.8,584.2 L521.1,616.0 L521.5,599.5 L521.9,554.7 L522.2,591.4 L522.6,578.4 L522.9,600.6 L523.3,563.9 L523.7,567.3 L524.0,574.9 L524.4,590.4 L524.7,576.3 L525.1,564.8 L525.5,603.5 L525.8,551.4 L526.2,571.8 L526.5,605.5 L526.9,596.1 L527.3,590.1 L527.6,594.9 L528.0,575.1 L528.3,595.3 L528.7,578.3 L529.1,580.4 L529.4,592.5 L529.8,584.8 L530.1,607.5 L530.5,576.5 L530.9,573.9 L531.2,599.3 L531.6,621.2 L531.9,572.7 L532.3,601.4 L532.7,565.9 L533.0,569.6 L533.4,599.5 L533.7,583.9 L534.1,567.4 L534.5,572.2 L534.8,625.4 L535.2,583.6 L535.5,597.8 L535.9,611.1 L536.3,615.9 L536.6,602.5 L537.0,585.0 L537.3,600.2 L537.7,613.7 L538.1,609.9 L538.4,592.4 L538.8,614.3 L539.1,612.6 L539.5,587.6 L539.9,593.4 L540.2,588.0 L540.6,576.6 L540.9,611.4 L541.3,609.8 L541.7,572.3 L542.0,575.3 L542.4,605.2 L542.7,567.4 L543.1,578.7 L543.5,591.9 L543.8,596.5 L544.2,608.4 L544.5,554.8 L544.9,580.0 L545.3,554.3 L545.6,580.1 L546.0,601.1 L546.3,585.2 L546.7,596.5 L547.1,599.0 L547.4,595.7 L547.8,586.6 L548.1,591.2 L548.5,608.8 L548.9,611.6 L549.2,576.6 L549.6,577.2 L549.9,581.5 L550.3,574.6 L550.7,614.6 L551.0,573.1 L551.4,604.8 L551.7,595.4 L552.1,615.9 L552.5,579.9 L552.8,610.1 L553.2,573.0 L553.5,579.1 L553.9,589.6 L554.3,608.3 L554.6,596.8 L555.0,604.2 L555.3,590.7 L555.7,569.3 L556.1,624.1 L556.4,580.3 L556.8,571.3 L557.1,610.7 L557.5,590.3 L557.9,606.7 L558.2,612.9 L558.6,612.4 L558.9,550.4 L559.3,567.8 L559.7,599.2 L560.0,582.0 L560.4,588.0 L560.7,606.4 L561.1,596.1 L561.5,554.6 L561.8,600.4 L562.2,587.5 L562.5,581.3 L562.9,595.9 L563.3,608.5 L563.6,606.0 L564.0,606.0 L564.3,578.0 L564.7,573.7 L565.1,598.4 L565.4,589.6 L565.8,612.5 L566.1,573.6 L566.5,612.8 L566.9,611.4 L567.2,566.3 L567.6,612.6 L567.9,602.2 L568.3,592.9 L568.7,574.2 L569.0,605.5 L569.4,558.1 L569.7,589.1 L570.1,583.6 L570.5,608.0 L570.8,579.8 L571.2,596.0 L571.5,595.1 L571.9,573.6 L572.3,601.2 L572.6,581.2 L573.0,586.5 L573.3,579.4 L573.7,578.0 L574.1,602.7 L574.4,571.7 L574.8,596.2 L575.1,600.5 L575.5,605.5 L575.9,582.0 L576.2,570.9 L576.6,596.7 L576.9,570.1 L577.3,611.8 L577.7,567.7 L578.0,607.4 L578.4,590.6 L578.7,588.8 L579.1,585.9 L579.5,569.9 L579.8,598.8 L580.2,556.1 L580.5,594.6 L580.9,590.7 L581.3,608.1 L581.6,586.8 L582.0,609.4 L582.3,567.2 L582.7,583.9 L583.1,592.9 L583.4,565.1 L583.8,591.0 L584.1,571.5 L584.5,610.3 L584.9,617.3 L585.2,591.5 L585.6,594.9 L585.9,601.8 L586.3,592.2 L586.7,607.2 L587.0,563.6 L587.4,589.2 L587.7,563.3 L588.1,578.9 L588.5,589.9 L588.8,546.3 L589.2,557.8 L589.5,590.2 L589.9,589.1 L590.3,559.4 L590.6,564.1 L591.0,580.8 L591.3,560.5 L591.7,575.0 L592.1,591.8 L592.4,561.3 L592.8,613.9 L593.1,589.1 L593.5,618.7 L593.9,560.8 L594.2,585.5 L594.6,596.2 L594.9,582.0 L595.3,555.8 L595.7,568.6 L596.0,576.8 L596.4,556.1 L596.7,556.5 L597.1,575.3 L597.5,562.0 L597.8,593.9 L598.2,574.2 L598.5,596.2 L598.9,573.8 L599.3,571.3 L599.6,588.8 L600.0,582.7 L600.3,579.4 L600.7,562.3 L601.1,561.1 L601.4,598.5 L601.8,574.2 L602.1,599.5 L602.5,563.6 L602.9,584.9 L603.2,588.5 L603.6,593.3 L603.9,564.9 L604.3,589.6 L604.7,558.4 L605.0,600.2 L605.4,561.1 L605.7,580.3 L606.1,600.3 L606.5,573.3 L606.8,582.7 L607.2,580.0 L607.5,586.9 L607.9,587.3 L608.3,570.8 L608.6,557.1 L609.0,584.1 L609.3,597.5 L609.7,605.9 L610.1,601.4 L610.4,562.1 L610.8,568.8 L611.1,598.0 L611.5,557.9 L611.9,571.3 L612.2,559.2 L612.6,569.5 L612.9,595.3 L613.3,571.4 L613.7,610.1 L614.0,575.7 L614.4,594.5 L614.7,592.4 L615.1,616.1 L615.5,603.4 L615.8,581.1 L616.2,586.0 L616.5,595.1 L616.9,559.6 L617.3,588.8 L617.6,602.1 L618.0,582.2 L618.3,598.8 L618.7,601.5 L619.1,602.4 L619.4,584.8 L619.8,566.0 L620.1,554.1 L620.5,564.2 L620.9,590.9 L621.2,590.1 L621.6,608.6 L621.9,622.1 L622.3,572.2 L622.7,565.4 L623.0,603.0 L623.4,584.5 L623.7,558.6 L624.1,603.4 L624.5,584.8 L624.8,605.2 L625.2,571.9 L625.5,601.3 L625.9,609.2 L626.3,565.4 L626.6,589.1 L627.0,604.6 L627.3,593.0 L627.7,604.2 L628.1,580.6 L628.4,594.8 L628.8,573.5 L629.1,610.1 L629.5,598.4 L629.9,589.1 L630.2,600.2 L630.6,609.7 L630.9,573.9 L631.3,584.4 L631.7,597.4 L632.0,589.2 L632.4,591.0 L632.7,606.8 L633.1,572.2 L633.5,579.3 L633.8,574.0 L634.2,576.5 L634.5,624.9 L634.9,602.2 L635.3,583.3 L635.6,589.0 L636.0,588.8 L636.3,601.8 L636.7,568.7 L637.1,597.1 L637.4,611.4 L637.8,564.3 L638.1,602.4 L638.5,596.5 L638.9,578.1 L639.2,611.2 L639.6,573.6 L639.9,604.8 L640.3,582.9 L640.7,609.8 L641.0,577.4 L641.4,611.3 L641.7,602.6 L642.1,571.1 L642.5,578.5 L642.8,577.0 L643.2,573.3 L643.5,617.0 L643.9,574.6 L644.3,609.2 L644.6,577.2 L645.0,591.8 L645.3,577.8 L645.7,594.8 L646.1,596.2 L646.4,552.7 L646.8,570.6 L647.1,613.8 L647.5,602.3 L647.9,611.1 L648.2,597.4 L648.6,605.8 L648.9,619.2 L649.3,586.1 L649.7,596.5 L650.0,596.1 L650.4,587.6 L650.7,568.2 L651.1,594.6 L651.5,615.6 L651.8,604.6 L652.2,608.4 L652.5,618.0 L652.9,616.5 L653.3,609.5 L653.6,614.4 L654.0,583.1 L654.3,614.5 L654.7,593.7 L655.1,555.4 L655.4,584.4 L655.8,613.4 L656.1,615.3 L656.5,613.9 L656.9,613.8 L657.2,619.2 L657.6,595.3 L657.9,575.7 L658.3,576.8 L658.7,607.4 L659.0,594.3 L659.4,583.2 L659.7,585.3 L660.1,586.4 L660.5,593.6 L660.8,620.2 L661.2,609.6 L661.5,584.5 L661.9,594.3 L662.3,607.7 L662.6,616.0 L663.0,568.5 L663.3,610.7 L663.7,602.0 L664.1,621.2 L664.4,582.1 L664.8,602.4 L665.1,604.8 L665.5,615.6 L665.9,608.2 L666.2,618.0 L666.6,572.2 L666.9,585.2 L667.3,627.5 L667.7,586.5 L668.0,618.5 L668.4,583.0 L668.7,580.9 L669.1,596.3 L669.5,584.2 L669.8,584.0 L670.2,581.9 L670.5,573.4 L670.9,607.3 L671.3,595.1 L671.6,606.0 L672.0,602.8 L672.3,609.1 L672.7,570.0 L673.1,609.5 L673.4,576.8 L673.8,585.1 L674.1,605.2 L674.5,599.4 L674.9,598.5 L675.2,605.4 L675.6,597.0 L675.9,610.8 L676.3,606.5 L676.7,604.6 L677.0,606.9 L677.4,606.3 L677.7,605.8 L678.1,601.0 L678.5,592.9 L678.8,570.4 L679.2,598.9 L679.5,576.0 L679.9,590.0 L680.3,574.0 L680.6,577.9 L681.0,580.1 L681.3,565.1 L681.7,603.0 L682.1,591.1 L682.4,568.0 L682.8,599.3 L683.1,588.8 L683.5,598.8 L683.9,577.4 L684.2,596.2 L684.6,578.0 L684.9,593.1 L685.3,573.7 L685.7,587.8 L686.0,588.4 L686.4,610.1 L686.7,579.5 L687.1,596.5 L687.5,612.0 L687.8,584.1 L688.2,588.1 L688.5,618.3 L688.9,573.2 L689.3,585.9 L689.6,599.7 L690.0,574.1 L690.3,606.0 L690.7,580.6 L691.1,614.2 L691.4,618.7 L691.8,613.1 L692.1,573.9 L692.5,603.5 L692.9,574.2 L693.2,580.6 L693.6,574.9 L693.9,582.7 L694.3,611.4 L694.7,603.4 L695.0,573.8 L695.4,578.8 L695.7,609.8 L696.1,601.2 L696.5,598.3 L696.8,606.1 L697.2,607.9 L697.5,573.0 L697.9,591.4 L698.3,578.5 L698.6,613.5 L699.0,555.5 L699.3,601.1 L699.7,611.6 L700.1,603.9 L700.4,589.8 L700.8,574.1 L701.1,595.9 L701.5,613.4 L701.9,572.4 L702.2,616.4 L702.6,596.2 L702.9,590.9 L703.3,598.7 L703.7,617.1 L704.0,610.8 L704.4,614.6 L704.7,608.0 L705.1,571.5 L705.5,630.3 L705.8,603.6 L706.2,583.2 L706.5,575.6 L706.9,602.1 L707.3,586.8 L707.6,609.3 L708.0,615.2 L708.3,601.5 L708.7,616.1 L709.1,572.2 L709.4,593.3 L709.8,580.9 L710.1,578.1 L710.5,619.5 L710.9,575.5 L711.2,600.0 L711.6,612.6 L711.9,549.9 L712.3,581.9 L712.7,608.0 L713.0,601.7 L713.4,569.2 L713.7,582.4 L714.1,632.7 L714.5,615.8 L714.8,593.5 L715.2,613.7 L715.5,591.4 L715.9,624.8 L716.3,611.1 L716.6,595.3 L717.0,608.9 L717.3,592.7 L717.7,603.3 L718.1,596.7 L718.4,577.1 L718.8,567.2 L719.1,575.4 L719.5,595.0 L719.9,584.0 L720.2,594.8 L720.6,596.1 L720.9,612.9 L721.3,587.0 L721.7,595.7 L722.0,578.2 L722.4,596.8 L722.7,569.8 L723.1,582.4 L723.5,585.0 L723.8,551.3 L724.2,568.4 L724.5,577.2 L724.9,581.8 L725.3,573.2 L725.6,571.0 L726.0,608.5 L726.3,590.9 L726.7,611.6 L727.1,584.4 L727.4,571.0 L727.8,605.2 L728.1,576.6 L728.5,609.5 L728.9,597.0 L729.2,565.0 L729.6,601.9 L729.9,603.9 L730.3,614.6 L730.7,594.7 L731.0,597.7 L731.4,588.3 L731.7,581.7 L732.1,620.7 L732.5,588.4 L732.8,592.4 L733.2,579.4 L733.5,626.8 L733.9,628.1 L734.3,630.7 L734.6,616.3 L735.0,613.9 L735.3,599.1 L735.7,614.7 L736.1,557.0 L736.4,600.1 L736.8,592.6 L737.1,591.4 L737.5,576.3 L737.9,622.4 L738.2,619.3 L738.6,615.1 L738.9,574.8 L739.3,610.9 L739.7,589.3 L740.0,571.4 L740.4,596.3 L740.7,577.1 L741.1,606.5 L741.5,601.0 L741.8,572.0 L742.2,583.7 L742.5,603.9 L742.9,605.3 L743.3,601.5 L743.6,574.3 L744.0,605.5 L744.3,618.7 L744.7,564.5 L745.1,576.5 L745.4,625.4 L745.8,595.7 L746.1,625.6 L746.5,578.3 L746.9,577.7 L747.2,610.3 L747.6,570.6 L747.9,614.7 L748.3,579.0 L748.7,594.9 L749.0,600.9 L749.4,607.4 L749.7,615.9 L750.1,565.7 L750.5,574.5 L750.8,597.4 L751.2,607.3 L751.5,580.8 L751.9,601.5 L752.3,589.3 L752.6,616.5 L753.0,607.1 L753.3,606.0 L753.7,578.2 L754.1,581.6 L754.4,602.4 L754.8,607.2 L755.1,598.5 L755.5,589.5 L755.9,561.3 L756.2,587.4 L756.6,610.8 L756.9,640.5 L757.3,601.2 L757.7,617.2 L758.0,622.3 L758.4,627.9 L758.7,613.2 L759.1,623.6 L759.5,632.7 L759.8,612.4 L760.2,628.3 L760.5,604.5 L760.9,598.9 L761.3,568.0 L761.6,629.9 L762.0,646.9 L762.3,628.2 L762.7,632.1 L763.1,618.5 L763.4,629.9 L763.8,587.5 L764.1,638.5 L764.5,635.3 L764.9,625.3 L765.2,636.7 L765.6,613.7 L765.9,615.2 L766.3,587.0 L766.7,660.1 L767.0,584.7 L767.4,608.4 L767.7,641.6 L768.1,638.1 L768.5,602.5 L768.8,615.5 L769.2,607.4 L769.5,624.4 L769.9,627.3 L770.3,592.3 L770.6,602.4 L771.0,599.1 L771.3,617.0 L771.7,608.8 L772.1,614.7 L772.4,605.4 L772.8,599.5 L773.1,608.1 L773.5,667.8 L773.9,619.7 L774.2,601.8 L774.6,627.6 L774.9,636.7 L775.3,596.2 L775.7,608.9 L776.0,632.9 L776.4,577.9 L776.7,647.6 L777.1,607.9 L777.5,632.0 L777.8,625.8 L778.2,648.4 L778.5,642.2 L778.9,640.9 L779.3,596.0 L779.6,606.2 L780.0,654.3 L780.3,601.7 L780.7,643.6 L781.1,657.9 L781.4,606.4 L781.8,659.3 L782.1,648.5 L782.5,596.8 L782.9,601.9 L783.2,582.6 L783.6,612.6 L783.9,600.7 L784.3,610.4 L784.7,654.9 L785.0,659.7 L785.4,646.4 L785.7,633.1 L786.1,647.7 L786.5,651.8 L786.8,636.4 L787.2,606.3 L787.5,603.0 L787.9,613.9 L788.3,619.1 L788.6,664.5 L789.0,650.1 L789.3,645.2 L789.7,596.8 L790.1,655.7 L790.4,639.5 L790.8,670.9 L791.1,588.6 L791.5,618.3 L791.9,645.8 L792.2,643.0 L792.6,667.8 L792.9,650.7 L793.3,665.9 L793.7,631.9 L794.0,648.8 L794.4,603.0 L794.7,626.1 L795.1,624.4 L795.5,663.6 L795.8,625.8 L796.2,654.3 L796.5,609.7 L796.9,632.6 L797.3,630.4 L797.6,616.7 L798.0,623.3 L798.3,601.9 L798.7,647.0 L799.1,672.4 L799.4,624.3 L799.8,595.7 L800.1,617.2 L800.5,670.8 L800.9,673.5 L801.2,618.9 L801.6,669.6 L801.9,651.6 L802.3,639.7 L802.7,663.5 L803.0,658.8 L803.4,663.1 L803.7,625.4 L804.1,620.3 L804.5,672.0 L804.8,621.5 L805.2,666.2 L805.5,644.7 L805.9,697.0 L806.3,597.5 L806.6,685.0 L807.0,672.8 L807.3,680.5 L807.7,615.3 L808.1,661.7 L808.4,620.2 L808.8,635.1 L809.1,684.4 L809.5,668.4 L809.9,670.4 L810.2,644.2 L810.6,679.3 L810.9,658.5 L811.3,668.2 L811.7,622.0 L812.0,614.7 L812.4,675.6 L812.7,648.9 L813.1,708.2 L813.5,653.9 L813.8,637.2 L814.2,625.1 L814.5,678.9 L814.9,628.0 L815.3,613.2 L815.6,640.6 L816.0,651.6 L816.3,668.9 L816.7,620.9 L817.1,650.5 L817.4,632.4 L817.8,615.4 L818.1,670.2 L818.5,642.2 L818.9,668.1 L819.2,638.5 L819.6,686.9 L819.9,628.7 L820.3,625.7 L820.7,671.8 L821.0,655.4 L821.4,627.1 L821.7,646.3 L822.1,657.7 L822.5,655.7 L822.8,610.3 L823.2,685.1 L823.5,666.0 L823.9,687.9 L824.3,656.8 L824.6,626.5 L825.0,637.0 L825.3,677.1 L825.7,665.6 L826.1,635.8 L826.4,674.2 L826.8,660.4 L827.1,700.1 L827.5,629.3 L827.9,634.6 L828.2,650.3 L828.6,611.5 L828.9,660.7 L829.3,636.5 L829.7,695.0 L830.0,628.8 L830.4,649.0 L830.7,607.4 L831.1,655.3 L831.5,662.7 L831.8,665.4 L832.2,669.4 L832.5,702.1 L832.9,614.2 L833.3,659.6 L833.6,692.2 L834.0,698.7 L834.3,699.7 L834.7,698.6 L835.1,673.3 L835.4,669.8 L835.8,648.9 L836.1,615.0 L836.5,650.0 L836.9,671.6 L837.2,706.2 L837.6,605.6 L837.9,628.4 L838.3,662.7 L838.7,612.3 L839.0,650.1 L839.4,714.2 L839.7,640.3 L840.1,638.8 L840.5,653.7 L840.8,660.7 L841.2,698.6 L841.5,641.6 L841.9,696.4 L842.3,687.8 L842.6,633.4 L843.0,652.1 L843.3,677.0 L843.7,646.4 L844.1,670.8 L844.4,691.1 L844.8,687.9 L845.1,662.9 L845.5,694.4 L845.9,658.6 L846.2,648.8 L846.6,658.5 L846.9,633.8 L847.3,702.6 L847.7,638.9 L848.0,668.9 L848.4,656.1 L848.7,668.0 L849.1,632.5 L849.5,704.7 L849.8,670.2 L850.2,666.2 L850.5,642.5 L850.9,702.7 L851.3,643.3 L851.6,691.3 L852.0,669.3 L852.3,667.7 L852.7,624.9 L853.1,676.1 L853.4,666.0 L853.8,637.8 L854.1,701.3 L854.5,721.0 L854.9,721.7 L855.2,701.4 L855.6,721.5 L855.9,694.3 L856.3,653.8 L856.7,669.6 L857.0,691.0 L857.4,684.6 L857.7,713.6 L858.1,720.1 L858.5,676.4 L858.8,675.7 L859.2,673.8 L859.5,669.8 L859.9,688.6 L860.3,667.7 L860.6,644.2 L861.0,617.5 L861.3,684.8 L861.7,672.6 L862.1,699.8 L862.4,617.9 L862.8,704.7 L863.1,692.8 L863.5,692.7 L863.9,700.3 L864.2,685.0 L864.6,656.6 L864.9,732.8 L865.3,682.0 L865.7,708.3 L866.0,732.5 L866.4,666.1 L866.7,670.4 L867.1,732.0 L867.5,708.9 L867.8,664.7 L868.2,667.0 L868.5,727.4 L868.9,702.9 L869.3,662.1 L869.6,668.7 L870.0,707.5 L870.3,737.4 L870.7,689.3 L871.1,644.7 L871.4,697.0 L871.8,643.7 L872.1,681.4 L872.5,737.9 L872.9,661.8 L873.2,645.2 L873.6,679.5 L873.9,698.2 L874.3,719.1 L874.7,742.2 L875.0,741.6 L875.4,657.9 L875.7,739.0 L876.1,676.3 L876.5,680.6 L876.8,706.3 L877.2,731.5 L877.5,698.9 L877.9,716.2 L878.3,728.6 L878.6,670.1 L879.0,665.6 L879.3,664.0 L879.7,652.8 L880.1,663.4 L880.4,680.8 L880.8,666.0 L881.1,738.2 L881.5,705.3 L881.9,729.0 L882.2,648.7 L882.6,664.8 L882.9,693.9" fill="none" stroke="#bfc0c2" stroke-width="1.8" stroke-linejoin="round"/>
<path d="M107.5,508.3 L107.9,513.4 L108.2,537.4 L108.6,524.1 L108.9,525.4 L109.3,548.7 L109.7,530.0 L110.0,510.3 L110.4,523.2 L110.7,526.8 L111.1,550.9 L111.5,512.7 L111.8,540.0 L112.2,542.4 L112.5,513.8 L112.9,550.2 L113.3,520.3 L113.6,511.2 L114.0,550.4 L114.3,551.6 L114.7,531.9 L115.1,519.6 L115.4,510.8 L115.8,550.9 L116.1,531.2 L116.5,553.4 L116.9,536.7 L117.2,544.7 L117.6,530.6 L117.9,529.2 L118.3,538.3 L118.7,513.6 L119.0,530.1 L119.4,540.9 L119.7,521.4 L120.1,519.7 L120.5,526.8 L120.8,524.4 L121.2,544.1 L121.5,516.6 L121.9,549.9 L122.3,518.5 L122.6,521.7 L123.0,534.6 L123.3,527.2 L123.7,526.3 L124.1,514.7 L124.4,515.7 L124.8,550.0 L125.1,557.8 L125.5,555.6 L125.9,536.4 L126.2,522.1 L126.6,534.4 L126.9,541.7 L127.3,533.7 L127.7,541.9 L128.0,531.5 L128.4,545.0 L128.7,549.7 L129.1,544.0 L129.5,579.1 L129.8,553.1 L130.2,539.8 L130.5,512.7 L130.9,553.4 L131.3,550.6 L131.6,517.2 L132.0,518.3 L132.3,551.0 L132.7,530.0 L133.1,543.3 L133.4,541.2 L133.8,544.8 L134.1,524.0 L134.5,543.8 L134.9,480.3 L135.2,523.8 L135.6,525.4 L135.9,547.6 L136.3,520.9 L136.7,545.9 L137.0,537.1 L137.4,520.0 L137.7,508.2 L138.1,542.2 L138.5,508.0 L138.8,546.0 L139.2,517.2 L139.5,545.9 L139.9,504.4 L140.3,505.2 L140.6,541.9 L141.0,510.7 L141.3,511.0 L141.7,524.2 L142.1,525.0 L142.4,509.7 L142.8,540.4 L143.1,504.6 L143.5,506.2 L143.9,543.9 L144.2,520.8 L144.6,503.5 L144.9,503.6 L145.3,513.2 L145.7,514.1 L146.0,537.5 L146.4,514.9 L146.7,514.6 L147.1,517.0 L147.5,510.6 L147.8,514.2 L148.2,535.4 L148.5,534.8 L148.9,519.5 L149.3,498.9 L149.6,527.2 L150.0,509.1 L150.3,531.6 L150.7,524.3 L151.1,517.3 L151.4,505.3 L151.8,517.6 L152.1,533.9 L152.5,523.9 L152.9,508.6 L153.2,521.9 L153.6,506.2 L153.9,506.8 L154.3,525.1 L154.7,533.7 L155.0,526.5 L155.4,508.2 L155.7,504.0 L156.1,530.2 L156.5,506.2 L156.8,527.6 L157.2,529.5 L157.5,496.0 L157.9,541.1 L158.3,541.4 L158.6,506.2 L159.0,474.7 L159.3,539.4 L159.7,510.8 L160.1,517.4 L160.4,504.5 L160.8,537.1 L161.1,517.0 L161.5,540.9 L161.9,544.5 L162.2,524.4 L162.6,516.1 L162.9,504.6 L163.3,536.3 L163.7,544.9 L164.0,503.4 L164.4,537.2 L164.7,510.7 L165.1,519.9 L165.5,516.0 L165.8,525.2 L166.2,515.2 L166.5,540.6 L166.9,501.6 L167.3,527.5 L167.6,530.3 L168.0,542.3 L168.3,525.8 L168.7,518.0 L169.1,507.4 L169.4,512.2 L169.8,534.5 L170.1,498.7 L170.5,537.1 L170.9,535.4 L171.2,518.6 L171.6,533.6 L171.9,508.3 L172.3,504.8 L172.7,530.0 L173.0,528.4 L173.4,511.8 L173.7,528.0 L174.1,502.1 L174.5,497.7 L174.8,532.0 L175.2,516.7 L175.5,529.2 L175.9,519.3 L176.3,516.9 L176.6,536.7 L177.0,537.5 L177.3,516.3 L177.7,510.0 L178.1,509.4 L178.4,529.8 L178.8,507.7 L179.1,513.9 L179.5,495.3 L179.9,503.8 L180.2,532.2 L180.6,535.5 L180.9,538.9 L181.3,504.9 L181.7,519.8 L182.0,518.5 L182.4,532.7 L182.7,511.8 L183.1,532.7 L183.5,504.3 L183.8,510.1 L184.2,501.1 L184.5,497.2 L184.9,521.9 L185.3,525.7 L185.6,510.8 L186.0,524.9 L186.3,515.1 L186.7,525.9 L187.1,507.9 L187.4,502.0 L187.8,519.5 L188.1,498.2 L188.5,522.0 L188.9,522.9 L189.2,497.9 L189.6,518.6 L189.9,510.7 L190.3,526.2 L190.7,490.6 L191.0,556.9 L191.4,498.3 L191.7,521.5 L192.1,494.8 L192.5,498.8 L192.8,507.1 L193.2,520.4 L193.5,518.1 L193.9,486.9 L194.3,501.6 L194.6,524.3 L195.0,501.7 L195.3,492.0 L195.7,488.8 L196.1,501.3 L196.4,511.6 L196.8,526.3 L197.1,523.2 L197.5,524.6 L197.9,491.0 L198.2,489.7 L198.6,499.3 L198.9,515.2 L199.3,505.0 L199.7,523.3 L200.0,508.8 L200.4,528.1 L200.7,513.0 L201.1,502.3 L201.5,504.6 L201.8,521.7 L202.2,506.5 L202.5,506.3 L202.9,494.3 L203.3,522.2 L203.6,508.5 L204.0,493.6 L204.3,508.8 L204.7,518.8 L205.1,525.8 L205.4,532.7 L205.8,499.4 L206.1,514.3 L206.5,502.8 L206.9,507.4 L207.2,516.6 L207.6,521.6 L207.9,491.6 L208.3,495.4 L208.7,527.9 L209.0,508.6 L209.4,493.2 L209.7,516.2 L210.1,512.6 L210.5,506.9 L210.8,534.5 L211.2,529.3 L211.5,515.5 L211.9,530.7 L212.3,534.0 L212.6,505.5 L213.0,500.3 L213.3,509.6 L213.7,520.1 L214.1,533.9 L214.4,527.4 L214.8,525.2 L215.1,514.6 L215.5,524.5 L215.9,508.1 L216.2,492.1 L216.6,498.0 L216.9,511.4 L217.3,506.5 L217.7,528.8 L218.0,521.7 L218.4,522.0 L218.7,499.3 L219.1,518.1 L219.5,496.2 L219.8,518.8 L220.2,491.1 L220.5,492.4 L220.9,487.9 L221.3,506.4 L221.6,509.6 L222.0,524.5 L222.3,498.3 L222.7,497.8 L223.1,494.7 L223.4,515.9 L223.8,495.7 L224.1,513.5 L224.5,508.6 L224.9,500.9 L225.2,496.9 L225.6,517.7 L225.9,522.2 L226.3,494.0 L226.7,505.9 L227.0,519.5 L227.4,488.8 L227.7,482.1 L228.1,513.3 L228.5,495.1 L228.8,507.6 L229.2,519.2 L229.5,489.8 L229.9,501.8 L230.3,490.6 L230.6,514.2 L231.0,489.5 L231.3,491.5 L231.7,503.2 L232.1,481.4 L232.4,507.5 L232.8,480.3 L233.1,499.9 L233.5,504.1 L233.9,466.9 L234.2,485.1 L234.6,487.3 L234.9,502.2 L235.3,483.9 L235.7,495.3 L236.0,471.7 L236.4,482.0 L236.7,492.2 L237.1,467.0 L237.5,466.7 L237.8,463.5 L238.2,469.3 L238.5,471.4 L238.9,475.2 L239.3,483.6 L239.6,464.5 L240.0,474.0 L240.3,471.3 L240.7,437.8 L241.1,488.0 L241.4,497.1 L241.8,496.3 L242.1,475.2 L242.5,493.0 L242.9,478.5 L243.2,481.8 L243.6,491.3 L243.9,479.6 L244.3,499.8 L244.7,463.7 L245.0,502.9 L245.4,483.1 L245.7,490.0 L246.1,465.7 L246.5,478.4 L246.8,463.7 L247.2,500.3 L247.5,476.1 L247.9,504.7 L248.3,498.8 L248.6,471.4 L249.0,460.9 L249.3,469.0 L249.7,464.1 L250.1,503.0 L250.4,470.2 L250.8,500.6 L251.1,466.9 L251.5,486.2 L251.9,466.6 L252.2,475.5 L252.6,475.1 L252.9,482.9 L253.3,496.7 L253.7,508.8 L254.0,506.6 L254.4,484.2 L254.7,499.8 L255.1,499.3 L255.5,512.9 L255.8,486.2 L256.2,501.2 L256.5,489.8 L256.9,523.4 L257.3,492.0 L257.6,504.3 L258.0,476.2 L258.3,511.1 L258.7,503.5 L259.1,464.0 L259.4,506.8 L259.8,479.3 L260.1,502.4 L260.5,516.3 L260.9,495.0 L261.2,499.6 L261.6,509.3 L261.9,479.7 L262.3,478.8 L262.7,481.9 L263.0,520.5 L263.4,514.7 L263.7,549.4 L264.1,503.0 L264.5,510.3 L264.8,500.8 L265.2,517.4 L265.5,516.3 L265.9,486.2 L266.3,498.3 L266.6,507.1 L267.0,519.1 L267.3,490.5 L267.7,521.8 L268.1,519.7 L268.4,491.0 L268.8,514.2 L269.1,524.2 L269.5,523.9 L269.9,521.1 L270.2,486.8 L270.6,524.1 L270.9,500.3 L271.3,488.1 L271.7,485.2 L272.0,514.8 L272.4,506.4 L272.7,506.0 L273.1,492.6 L273.5,511.3 L273.8,515.5 L274.2,502.7 L274.5,486.5 L274.9,483.7 L275.3,507.8 L275.6,488.7 L276.0,481.5 L276.3,516.6 L276.7,480.0 L277.1,497.8 L277.4,511.5 L277.8,485.4 L278.1,483.7 L278.5,492.0 L278.9,491.8 L279.2,481.0 L279.6,502.6 L279.9,522.6 L280.3,519.2 L280.7,510.5 L281.0,490.5 L281.4,517.2 L281.7,478.4 L282.1,500.4 L282.5,507.7 L282.8,512.8 L283.2,520.3 L283.5,506.5 L283.9,504.9 L284.3,512.9 L284.6,518.7 L285.0,484.9 L285.3,514.9 L285.7,514.7 L286.1,500.5 L286.4,518.6 L286.8,517.5 L287.1,484.2 L287.5,523.2 L287.9,501.0 L288.2,484.3 L288.6,495.6 L288.9,524.4 L289.3,494.4 L289.7,522.5 L290.0,502.3 L290.4,492.1 L290.7,516.4 L291.1,489.7 L291.5,509.7 L291.8,480.5 L292.2,486.7 L292.5,502.0 L292.9,490.7 L293.3,476.4 L293.6,492.8 L294.0,504.6 L294.3,508.0 L294.7,512.6 L295.1,477.1 L295.4,509.5 L295.8,495.6 L296.1,506.9 L296.5,489.4 L296.9,490.1 L297.2,512.6 L297.6,501.0 L297.9,498.2 L298.3,543.6 L298.7,486.4 L299.0,509.4 L299.4,501.9 L299.7,506.0 L300.1,464.3 L300.5,500.0 L300.8,500.3 L301.2,505.5 L301.5,497.3 L301.9,509.0 L302.3,489.6 L302.6,481.3 L303.0,482.7 L303.3,512.4 L303.7,485.2 L304.1,477.2 L304.4,491.2 L304.8,499.4 L305.1,506.9 L305.5,477.2 L305.9,493.9 L306.2,508.6 L306.6,493.2 L306.9,484.2 L307.3,514.8 L307.7,489.8 L308.0,479.7 L308.4,495.4 L308.7,502.4 L309.1,507.6 L309.5,505.3 L309.8,508.2 L310.2,495.9 L310.5,506.5 L310.9,510.8 L311.3,512.8 L311.6,528.3 L312.0,487.6 L312.3,508.5 L312.7,512.0 L313.1,519.8 L313.4,516.3 L313.8,477.5 L314.1,520.7 L314.5,496.1 L314.9,530.2 L315.2,483.1 L315.6,495.1 L315.9,484.5 L316.3,495.6 L316.7,491.1 L317.0,489.1 L317.4,496.3 L317.7,518.9 L318.1,501.6 L318.5,493.7 L318.8,483.8 L319.2,495.1 L319.5,524.3 L319.9,523.2 L320.3,547.1 L320.6,518.7 L321.0,521.7 L321.3,483.8 L321.7,525.0 L322.1,524.1 L322.4,494.3 L322.8,527.4 L323.1,515.5 L323.5,496.9 L323.9,525.6 L324.2,489.5 L324.6,514.8 L324.9,506.7 L325.3,512.0 L325.7,527.0 L326.0,510.7 L326.4,521.8 L326.7,493.9 L327.1,530.6 L327.5,507.0 L327.8,492.2 L328.2,497.7 L328.5,530.6 L328.9,490.5 L329.3,531.9 L329.6,525.5 L330.0,506.1 L330.3,531.2 L330.7,496.4 L331.1,525.2 L331.4,505.3 L331.8,525.2 L332.1,494.7 L332.5,525.7 L332.9,516.9 L333.2,529.3 L333.6,516.8 L333.9,528.1 L334.3,508.9 L334.7,530.2 L335.0,533.4 L335.4,495.7 L335.7,524.4 L336.1,507.4 L336.5,534.6 L336.8,537.4 L337.2,525.7 L337.5,510.1 L337.9,531.8 L338.3,528.5 L338.6,505.9 L339.0,513.8 L339.3,502.2 L339.7,519.2 L340.1,510.8 L340.4,516.6 L340.8,520.4 L341.1,535.4 L341.5,538.6 L341.9,515.4 L342.2,512.7 L342.6,531.4 L342.9,532.9 L343.3,525.3 L343.7,542.0 L344.0,518.3 L344.4,548.1 L344.7,533.2 L345.1,542.4 L345.5,523.3 L345.8,514.8 L346.2,541.5 L346.5,529.2 L346.9,534.2 L347.3,547.9 L347.6,533.8 L348.0,549.1 L348.3,528.2 L348.7,538.1 L349.1,533.9 L349.4,527.2 L349.8,543.8 L350.1,541.8 L350.5,548.5 L350.9,545.7 L351.2,534.8 L351.6,532.8 L351.9,546.4 L352.3,544.8 L352.7,533.0 L353.0,541.3 L353.4,526.1 L353.7,528.5 L354.1,529.1 L354.5,533.2 L354.8,552.0 L355.2,553.1 L355.5,556.8 L355.9,543.6 L356.3,551.7 L356.6,549.1 L357.0,530.9 L357.3,536.6 L357.7,562.4 L358.1,526.9 L358.4,528.2 L358.8,548.1 L359.1,546.1 L359.5,550.5 L359.9,542.0 L360.2,554.1 L360.6,540.6 L360.9,545.6 L361.3,553.5 L361.7,562.0 L362.0,535.8 L362.4,544.4 L362.7,544.1 L363.1,531.4 L363.5,564.4 L363.8,557.2 L364.2,544.0 L364.5,539.9 L364.9,538.1 L365.3,546.7 L365.6,542.2 L366.0,551.2 L366.3,551.7 L366.7,553.6 L367.1,563.3 L367.4,561.7 L367.8,538.4 L368.1,538.4 L368.5,557.1 L368.9,552.8 L369.2,535.0 L369.6,546.7 L369.9,542.8 L370.3,556.8 L370.7,545.6 L371.0,573.0 L371.4,572.4 L371.7,539.7 L372.1,564.5 L372.5,573.7 L372.8,552.0 L373.2,576.3 L373.5,548.0 L373.9,548.1 L374.3,548.0 L374.6,556.5 L375.0,539.1 L375.3,574.4 L375.7,548.8 L376.1,547.9 L376.4,551.2 L376.8,579.3 L377.1,582.8 L377.5,575.2 L377.9,550.7 L378.2,552.7 L378.6,584.8 L378.9,572.2 L379.3,573.7 L379.7,573.1 L380.0,555.5 L380.4,580.2 L380.7,578.0 L381.1,561.6 L381.5,560.7 L381.8,551.8 L382.2,557.4 L382.5,554.7 L382.9,564.4 L383.3,569.6 L383.6,582.0 L384.0,562.5 L384.3,557.1 L384.7,578.0 L385.1,550.9 L385.4,554.6 L385.8,571.1 L386.1,571.1 L386.5,565.9 L386.9,558.2 L387.2,552.3 L387.6,548.7 L387.9,571.5 L388.3,569.4 L388.7,567.0 L389.0,567.5 L389.4,579.1 L389.7,581.7 L390.1,560.6 L390.5,555.3 L390.8,553.4 L391.2,553.3 L391.5,582.2 L391.9,563.9 L392.3,553.8 L392.6,554.3 L393.0,571.1 L393.3,564.7 L393.7,573.5 L394.1,583.1 L394.4,558.8 L394.8,580.4 L395.1,555.6 L395.5,555.7 L395.9,583.9 L396.2,574.3 L396.6,575.1 L396.9,581.1 L397.3,564.8 L397.7,564.4 L398.0,554.7 L398.4,566.6 L398.7,568.9 L399.1,569.6 L399.5,559.2 L399.8,552.2 L400.2,558.6 L400.5,549.4 L400.9,547.9 L401.3,550.7 L401.6,546.7 L402.0,577.7 L402.3,547.7 L402.7,554.4 L403.1,577.4 L403.4,552.5 L403.8,566.0 L404.1,575.0 L404.5,558.6 L404.9,570.2 L405.2,535.2 L405.6,550.3 L405.9,576.4 L406.3,567.8 L406.7,548.2 L407.0,573.5 L407.4,570.9 L407.7,574.4 L408.1,564.2 L408.5,569.2 L408.8,546.2 L409.2,573.1 L409.5,545.3 L409.9,560.0 L410.3,554.6 L410.6,564.3 L411.0,577.6 L411.3,576.5 L411.7,550.4 L412.1,568.8 L412.4,569.9 L412.8,542.6 L413.1,573.4 L413.5,562.6 L413.9,563.2 L414.2,552.6 L414.6,563.4 L414.9,560.7 L415.3,546.0 L415.7,525.0 L416.0,578.4 L416.4,554.2 L416.7,577.6 L417.1,597.2 L417.5,570.5 L417.8,546.4 L418.2,548.5 L418.5,548.3 L418.9,569.1 L419.3,558.7 L419.6,550.1 L420.0,575.5 L420.3,558.6 L420.7,567.4 L421.1,569.8 L421.4,567.2 L421.8,563.3 L422.1,547.3 L422.5,555.7 L422.9,574.6 L423.2,573.5 L423.6,583.6 L423.9,549.5 L424.3,556.3 L424.7,553.1 L425.0,578.1 L425.4,573.3 L425.7,578.8 L426.1,556.7 L426.5,580.2 L426.8,549.7 L427.2,551.9 L427.5,558.2 L427.9,573.9 L428.3,571.8 L428.6,552.8 L429.0,551.9 L429.3,576.7 L429.7,564.4 L430.1,551.3 L430.4,548.2 L430.8,527.1 L431.1,552.7 L431.5,578.8 L431.9,555.3 L432.2,581.8 L432.6,565.9 L432.9,572.0 L433.3,551.5 L433.7,555.9 L434.0,555.5 L434.4,550.6 L434.7,563.7 L435.1,553.0 L435.5,554.0 L435.8,558.1 L436.2,570.1 L436.5,579.7 L436.9,552.9 L437.3,580.1 L437.6,566.0 L438.0,547.9 L438.3,555.0 L438.7,576.6 L439.1,549.6 L439.4,557.5 L439.8,558.6 L440.1,552.7 L440.5,572.0 L440.9,566.7 L441.2,554.1 L441.6,581.2 L441.9,572.8 L442.3,579.1 L442.7,582.6 L443.0,562.0 L443.4,563.3 L443.7,570.0 L444.1,549.9 L444.5,578.3 L444.8,580.8 L445.2,576.9 L445.5,567.3 L445.9,579.6 L446.3,574.1 L446.6,580.5 L447.0,573.7 L447.3,565.0 L447.7,566.7 L448.1,577.7 L448.4,555.4 L448.8,583.2 L449.1,584.8 L449.5,583.7 L449.9,570.8 L450.2,551.5 L450.6,582.4 L450.9,557.5 L451.3,550.2 L451.7,566.4 L452.0,582.7 L452.4,571.4 L452.7,558.0 L453.1,553.6 L453.5,568.6 L453.8,560.8 L454.2,553.7 L454.5,558.8 L454.9,578.4 L455.3,569.5 L455.6,562.4 L456.0,553.0 L456.3,562.3 L456.7,549.4 L457.1,573.3 L457.4,570.8 L457.8,595.6 L458.1,594.4 L458.5,563.0 L458.9,555.3 L459.2,577.5 L459.6,555.5 L459.9,574.6 L460.3,577.6 L460.7,558.4 L461.0,545.3 L461.4,567.5 L461.7,559.5 L462.1,561.3 L462.5,576.5 L462.8,544.9 L463.2,573.6 L463.5,556.5 L463.9,546.8 L464.3,548.0 L464.6,549.3 L465.0,557.9 L465.3,572.8 L465.7,563.3 L466.1,558.0 L466.4,570.2 L466.8,555.6 L467.1,544.3 L467.5,550.4 L467.9,573.4 L468.2,567.5 L468.6,558.5 L468.9,574.1 L469.3,547.4 L469.7,573.6 L470.0,573.8 L470.4,551.8 L470.7,555.5 L471.1,548.7 L471.5,542.3 L471.8,549.7 L472.2,573.9 L472.5,545.6 L472.9,553.8 L473.3,557.7 L473.6,547.8 L474.0,551.2 L474.3,554.5 L474.7,565.9 L475.1,574.8 L475.4,553.0 L475.8,560.2 L476.1,563.1 L476.5,559.5 L476.9,572.0 L477.2,579.0 L477.6,555.7 L477.9,559.5 L478.3,548.5 L478.7,548.1 L479.0,569.2 L479.4,555.4 L479.7,556.6 L480.1,582.6 L480.5,562.2 L480.8,566.5 L481.2,559.9 L481.5,578.5 L481.9,555.5 L482.3,558.3 L482.6,566.7 L483.0,582.5 L483.3,561.3 L483.7,577.1 L484.1,563.9 L484.4,572.1 L484.8,553.2 L485.1,579.0 L485.5,571.8 L485.9,563.7 L486.2,578.7 L486.6,555.1 L486.9,558.6 L487.3,575.8 L487.7,580.4 L488.0,582.0 L488.4,566.1 L488.7,575.2 L489.1,568.7 L489.5,558.4 L489.8,583.0 L490.2,561.5 L490.5,578.9 L490.9,554.1 L491.3,557.7 L491.6,551.4 L492.0,560.8 L492.3,550.3 L492.7,567.2 L493.1,589.2 L493.4,584.2 L493.8,579.4 L494.1,606.8 L494.5,574.3 L494.9,580.8 L495.2,564.7 L495.6,576.3 L495.9,564.0 L496.3,575.2 L496.7,566.8 L497.0,572.9 L497.4,573.4 L497.7,575.4 L498.1,556.5 L498.5,556.2 L498.8,581.1 L499.2,552.9 L499.5,569.9 L499.9,559.8 L500.3,558.5 L500.6,568.8 L501.0,557.0 L501.3,556.1 L501.7,577.0 L502.1,585.8 L502.4,582.3 L502.8,585.3 L503.1,567.7 L503.5,583.2 L503.9,556.9 L504.2,562.8 L504.6,570.1 L504.9,574.6 L505.3,575.3 L505.7,589.3 L506.0,585.0 L506.4,559.1 L506.7,590.8 L507.1,571.0 L507.5,585.4 L507.8,558.3 L508.2,589.4 L508.5,571.0 L508.9,580.7 L509.3,580.2 L509.6,570.2 L510.0,569.5 L510.3,563.3 L510.7,564.3 L511.1,544.3 L511.4,580.9 L511.8,584.3 L512.1,592.9 L512.5,561.1 L512.9,565.2 L513.2,588.7 L513.6,591.2 L513.9,577.3 L514.3,591.9 L514.7,592.8 L515.0,594.4 L515.4,589.0 L515.7,594.4 L516.1,588.0 L516.5,568.8 L516.8,569.5 L517.2,581.0 L517.5,585.6 L517.9,565.8 L518.3,598.9 L518.6,571.3 L519.0,592.9 L519.3,567.6 L519.7,563.7 L520.1,575.9 L520.4,599.4 L520.8,569.3 L521.1,563.5 L521.5,580.3 L521.9,596.9 L522.2,587.5 L522.6,577.1 L522.9,567.6 L523.3,586.6 L523.7,581.0 L524.0,599.0 L524.4,585.0 L524.7,570.8 L525.1,592.7 L525.5,597.1 L525.8,594.5 L526.2,582.5 L526.5,598.3 L526.9,581.4 L527.3,575.0 L527.6,572.9 L528.0,569.1 L528.3,599.9 L528.7,593.6 L529.1,599.9 L529.4,588.4 L529.8,578.3 L530.1,583.7 L530.5,577.9 L530.9,569.8 L531.2,577.8 L531.6,568.8 L531.9,593.6 L532.3,571.4 L532.7,581.3 L533.0,585.9 L533.4,593.4 L533.7,579.6 L534.1,598.6 L534.5,577.3 L534.8,604.3 L535.2,604.1 L535.5,574.0 L535.9,590.4 L536.3,580.9 L536.6,579.3 L537.0,584.1 L537.3,595.5 L537.7,604.4 L538.1,605.2 L538.4,588.7 L538.8,584.1 L539.1,597.8 L539.5,604.3 L539.9,597.2 L540.2,604.9 L540.6,573.4 L540.9,580.8 L541.3,575.2 L541.7,562.2 L542.0,583.8 L542.4,595.3 L542.7,590.1 L543.1,592.3 L543.5,586.0 L543.8,578.2 L544.2,591.2 L544.5,576.8 L544.9,583.1 L545.3,572.8 L545.6,584.0 L546.0,584.2 L546.3,605.9 L546.7,604.0 L547.1,593.8 L547.4,590.9 L547.8,601.7 L548.1,561.7 L548.5,601.4 L548.9,600.4 L549.2,589.1 L549.6,596.0 L549.9,583.4 L550.3,584.6 L550.7,591.2 L551.0,593.9 L551.4,577.3 L551.7,580.9 L552.1,584.5 L552.5,592.6 L552.8,572.3 L553.2,586.3 L553.5,603.0 L553.9,585.8 L554.3,598.1 L554.6,585.4 L555.0,601.1 L555.3,581.8 L555.7,593.2 L556.1,580.3 L556.4,577.3 L556.8,593.2 L557.1,594.7 L557.5,601.3 L557.9,578.1 L558.2,626.5 L558.6,598.6 L558.9,571.9 L559.3,581.9 L559.7,582.8 L560.0,577.3 L560.4,576.0 L560.7,595.5 L561.1,584.4 L561.5,606.8 L561.8,591.6 L562.2,581.6 L562.5,584.1 L562.9,588.5 L563.3,601.1 L563.6,592.8 L564.0,574.9 L564.3,597.3 L564.7,578.6 L565.1,575.4 L565.4,596.1 L565.8,585.1 L566.1,585.9 L566.5,601.9 L566.9,572.2 L567.2,582.7 L567.6,578.1 L567.9,572.0 L568.3,596.0 L568.7,593.4 L569.0,583.2 L569.4,579.0 L569.7,587.6 L570.1,575.6 L570.5,596.8 L570.8,570.7 L571.2,591.9 L571.5,587.6 L571.9,578.2 L572.3,573.9 L572.6,585.0 L573.0,593.5 L573.3,585.4 L573.7,596.4 L574.1,572.7 L574.4,585.0 L574.8,594.2 L575.1,574.2 L575.5,581.6 L575.9,592.7 L576.2,592.9 L576.6,593.7 L576.9,582.4 L577.3,589.7 L577.7,579.2 L578.0,578.9 L578.4,577.6 L578.7,606.0 L579.1,573.0 L579.5,601.1 L579.8,583.3 L580.2,584.0 L580.5,598.3 L580.9,584.2 L581.3,584.4 L581.6,587.1 L582.0,579.1 L582.3,586.0 L582.7,598.1 L583.1,571.3 L583.4,578.6 L583.8,573.2 L584.1,572.5 L584.5,599.1 L584.9,589.9 L585.2,604.1 L585.6,596.1 L585.9,574.2 L586.3,575.2 L586.7,591.6 L587.0,582.2 L587.4,576.5 L587.7,581.5 L588.1,576.1 L588.5,598.7 L588.8,582.6 L589.2,570.9 L589.5,573.9 L589.9,582.3 L590.3,615.4 L590.6,595.7 L591.0,587.0 L591.3,607.7 L591.7,571.1 L592.1,566.8 L592.4,592.2 L592.8,585.3 L593.1,577.7 L593.5,576.5 L593.9,582.9 L594.2,578.6 L594.6,564.5 L594.9,582.4 L595.3,580.1 L595.7,568.9 L596.0,575.3 L596.4,594.6 L596.7,582.2 L597.1,582.4 L597.5,572.1 L597.8,571.7 L598.2,590.2 L598.5,591.1 L598.9,581.2 L599.3,581.9 L599.6,579.8 L600.0,572.3 L600.3,562.3 L600.7,574.1 L601.1,572.6 L601.4,580.7 L601.8,574.9 L602.1,561.0 L602.5,564.0 L602.9,592.5 L603.2,578.0 L603.6,592.4 L603.9,565.2 L604.3,571.8 L604.7,582.6 L605.0,575.7 L605.4,580.4 L605.7,590.7 L606.1,592.9 L606.5,585.7 L606.8,576.8 L607.2,582.6 L607.5,576.4 L607.9,589.9 L608.3,594.1 L608.6,548.3 L609.0,586.5 L609.3,582.0 L609.7,589.6 L610.1,568.1 L610.4,591.0 L610.8,575.9 L611.1,593.0 L611.5,576.8 L611.9,579.3 L612.2,568.8 L612.6,583.2 L612.9,575.7 L613.3,569.0 L613.7,577.8 L614.0,566.0 L614.4,565.2 L614.7,579.3 L615.1,581.8 L615.5,574.3 L615.8,588.5 L616.2,567.0 L616.5,572.2 L616.9,579.5 L617.3,582.4 L617.6,586.8 L618.0,586.1 L618.3,582.7 L618.7,598.5 L619.1,578.5 L619.4,568.9 L619.8,587.1 L620.1,575.5 L620.5,574.4 L620.9,582.1 L621.2,602.6 L621.6,582.6 L621.9,595.3 L622.3,598.6 L622.7,588.2 L623.0,600.7 L623.4,600.5 L623.7,584.9 L624.1,589.9 L624.5,583.8 L624.8,566.1 L625.2,574.8 L625.5,598.2 L625.9,604.3 L626.3,604.0 L626.6,592.9 L627.0,602.9 L627.3,605.4 L627.7,585.1 L628.1,590.1 L628.4,577.7 L628.8,581.3 L629.1,587.0 L629.5,597.6 L629.9,591.2 L630.2,602.2 L630.6,588.5 L630.9,606.8 L631.3,628.3 L631.7,585.6 L632.0,597.1 L632.4,602.4 L632.7,601.6 L633.1,595.6 L633.5,574.9 L633.8,592.2 L634.2,601.1 L634.5,585.0 L634.9,583.5 L635.3,596.7 L635.6,587.1 L636.0,605.6 L636.3,597.9 L636.7,591.1 L637.1,593.5 L637.4,587.0 L637.8,602.5 L638.1,595.2 L638.5,596.8 L638.9,589.1 L639.2,573.1 L639.6,572.1 L639.9,587.8 L640.3,573.4 L640.7,603.1 L641.0,586.1 L641.4,589.2 L641.7,577.9 L642.1,595.3 L642.5,588.5 L642.8,577.5 L643.2,586.2 L643.5,574.4 L643.9,598.5 L644.3,584.8 L644.6,617.1 L645.0,583.2 L645.3,582.4 L645.7,573.3 L646.1,595.2 L646.4,592.0 L646.8,582.8 L647.1,606.9 L647.5,593.1 L647.9,600.2 L648.2,581.6 L648.6,579.7 L648.9,599.2 L649.3,585.8 L649.7,583.5 L650.0,608.9 L650.4,593.9 L650.7,590.3 L651.1,578.4 L651.5,598.4 L651.8,595.5 L652.2,582.0 L652.5,598.7 L652.9,598.7 L653.3,603.5 L653.6,598.1 L654.0,587.9 L654.3,604.9 L654.7,584.3 L655.1,611.5 L655.4,605.4 L655.8,590.5 L656.1,612.2 L656.5,609.9 L656.9,581.4 L657.2,593.0 L657.6,582.2 L657.9,581.4 L658.3,610.2 L658.7,612.7 L659.0,601.7 L659.4,604.1 L659.7,601.4 L660.1,602.4 L660.5,600.5 L660.8,561.4 L661.2,592.6 L661.5,582.8 L661.9,589.9 L662.3,589.3 L662.6,602.0 L663.0,607.9 L663.3,607.3 L663.7,597.7 L664.1,602.4 L664.4,582.7 L664.8,584.4 L665.1,610.0 L665.5,595.7 L665.9,596.8 L666.2,592.1 L666.6,604.3 L666.9,586.8 L667.3,598.4 L667.7,595.8 L668.0,594.1 L668.4,588.2 L668.7,584.6 L669.1,582.4 L669.5,606.6 L669.8,570.7 L670.2,585.7 L670.5,590.1 L670.9,577.5 L671.3,603.4 L671.6,591.3 L672.0,587.3 L672.3,587.1 L672.7,594.2 L673.1,590.6 L673.4,580.2 L673.8,589.9 L674.1,584.1 L674.5,594.6 L674.9,596.3 L675.2,576.2 L675.6,572.2 L675.9,582.0 L676.3,601.6 L676.7,571.7 L677.0,596.3 L677.4,604.3 L677.7,572.5 L678.1,574.2 L678.5,596.9 L678.8,592.6 L679.2,576.7 L679.5,586.6 L679.9,603.5 L680.3,570.9 L680.6,593.6 L681.0,591.4 L681.3,597.2 L681.7,582.7 L682.1,573.1 L682.4,579.6 L682.8,580.6 L683.1,600.2 L683.5,596.2 L683.9,573.5 L684.2,600.0 L684.6,594.6 L684.9,582.6 L685.3,575.9 L685.7,591.0 L686.0,576.3 L686.4,574.3 L686.7,580.0 L687.1,583.8 L687.5,579.2 L687.8,576.2 L688.2,598.2 L688.5,622.7 L688.9,629.2 L689.3,587.6 L689.6,592.0 L690.0,602.1 L690.3,591.7 L690.7,606.3 L691.1,629.5 L691.4,595.5 L691.8,604.9 L692.1,601.0 L692.5,583.4 L692.9,576.8 L693.2,579.3 L693.6,598.8 L693.9,580.6 L694.3,593.1 L694.7,594.4 L695.0,590.5 L695.4,608.6 L695.7,605.4 L696.1,586.2 L696.5,579.5 L696.8,588.2 L697.2,583.2 L697.5,593.0 L697.9,582.1 L698.3,591.2 L698.6,587.9 L699.0,590.6 L699.3,593.3 L699.7,609.7 L700.1,581.1 L700.4,577.0 L700.8,586.6 L701.1,600.8 L701.5,603.0 L701.9,594.6 L702.2,604.8 L702.6,605.3 L702.9,579.1 L703.3,602.2 L703.7,603.2 L704.0,578.1 L704.4,595.7 L704.7,593.9 L705.1,599.5 L705.5,582.9 L705.8,604.2 L706.2,577.2 L706.5,588.1 L706.9,608.8 L707.3,608.6 L707.6,585.2 L708.0,608.1 L708.3,588.7 L708.7,596.3 L709.1,601.7 L709.4,589.7 L709.8,578.7 L710.1,591.3 L710.5,584.0 L710.9,582.7 L711.2,595.8 L711.6,599.7 L711.9,597.0 L712.3,608.0 L712.7,608.7 L713.0,599.4 L713.4,607.8 L713.7,575.2 L714.1,608.1 L714.5,589.5 L714.8,601.6 L715.2,608.1 L715.5,588.6 L715.9,591.1 L716.3,574.4 L716.6,585.8 L717.0,577.2 L717.3,595.5 L717.7,580.8 L718.1,598.6 L718.4,580.5 L718.8,605.5 L719.1,578.6 L719.5,558.7 L719.9,602.2 L720.2,581.3 L720.6,607.9 L720.9,577.8 L721.3,604.5 L721.7,596.5 L722.0,579.1 L722.4,591.6 L722.7,606.2 L723.1,604.0 L723.5,584.5 L723.8,576.7 L724.2,582.0 L724.5,608.5 L724.9,581.6 L725.3,597.9 L725.6,603.5 L726.0,590.3 L726.3,592.6 L726.7,598.2 L727.1,602.4 L727.4,603.2 L727.8,607.0 L728.1,588.1 L728.5,581.4 L728.9,585.8 L729.2,587.7 L729.6,591.2 L729.9,584.1 L730.3,565.2 L730.7,606.5 L731.0,595.5 L731.4,597.3 L731.7,607.8 L732.1,582.2 L732.5,600.0 L732.8,596.7 L733.2,603.1 L733.5,582.6 L733.9,610.6 L734.3,593.6 L734.6,604.1 L735.0,592.1 L735.3,612.0 L735.7,592.7 L736.1,582.1 L736.4,586.5 L736.8,602.7 L737.1,608.0 L737.5,592.0 L737.9,584.4 L738.2,594.9 L738.6,603.3 L738.9,597.7 L739.3,609.8 L739.7,594.7 L740.0,594.5 L740.4,606.9 L740.7,581.2 L741.1,580.5 L741.5,585.4 L741.8,609.8 L742.2,604.6 L742.5,603.0 L742.9,588.7 L743.3,596.0 L743.6,586.2 L744.0,580.2 L744.3,584.5 L744.7,579.5 L745.1,603.9 L745.4,580.6 L745.8,603.1 L746.1,607.7 L746.5,589.1 L746.9,612.0 L747.2,583.2 L747.6,610.1 L747.9,597.5 L748.3,603.6 L748.7,600.4 L749.0,594.7 L749.4,612.6 L749.7,605.8 L750.1,564.1 L750.5,605.2 L750.8,600.0 L751.2,610.8 L751.5,610.3 L751.9,599.6 L752.3,604.5 L752.6,590.7 L753.0,595.6 L753.3,595.7 L753.7,617.6 L754.1,602.1 L754.4,601.4 L754.8,602.9 L755.1,601.5 L755.5,590.5 L755.9,602.7 L756.2,594.0 L756.6,619.7 L756.9,632.5 L757.3,605.7 L757.7,611.3 L758.0,601.4 L758.4,625.8 L758.7,608.6 L759.1,622.8 L759.5,614.5 L759.8,612.5 L760.2,623.7 L760.5,612.0 L760.9,619.0 L761.3,622.5 L761.6,594.3 L762.0,603.6 L762.3,596.8 L762.7,611.7 L763.1,595.2 L763.4,627.9 L763.8,626.6 L764.1,607.8 L764.5,655.8 L764.9,593.7 L765.2,629.7 L765.6,614.2 L765.9,621.6 L766.3,611.5 L766.7,602.8 L767.0,598.1 L767.4,626.9 L767.7,618.6 L768.1,630.6 L768.5,616.0 L768.8,623.6 L769.2,597.4 L769.5,630.4 L769.9,606.6 L770.3,621.7 L770.6,613.4 L771.0,626.3 L771.3,621.3 L771.7,597.3 L772.1,616.8 L772.4,639.9 L772.8,614.8 L773.1,616.4 L773.5,636.5 L773.9,636.3 L774.2,602.0 L774.6,625.4 L774.9,631.4 L775.3,601.1 L775.7,632.6 L776.0,621.6 L776.4,605.4 L776.7,639.9 L777.1,622.4 L777.5,610.1 L777.8,610.5 L778.2,642.6 L778.5,635.8 L778.9,612.4 L779.3,640.7 L779.6,633.3 L780.0,641.7 L780.3,649.0 L780.7,615.3 L781.1,647.5 L781.4,624.9 L781.8,648.5 L782.1,647.9 L782.5,615.8 L782.9,637.3 L783.2,625.1 L783.6,611.3 L783.9,630.1 L784.3,614.1 L784.7,626.7 L785.0,614.9 L785.4,627.4 L785.7,639.0 L786.1,612.3 L786.5,633.9 L786.8,618.5 L787.2,644.6 L787.5,636.7 L787.9,623.5 L788.3,642.7 L788.6,641.6 L789.0,617.3 L789.3,640.0 L789.7,647.5 L790.1,650.9 L790.4,656.1 L790.8,644.9 L791.1,624.4 L791.5,636.2 L791.9,618.5 L792.2,660.8 L792.6,657.5 L792.9,663.1 L793.3,614.2 L793.7,624.6 L794.0,657.9 L794.4,626.5 L794.7,653.6 L795.1,616.3 L795.5,646.0 L795.8,648.5 L796.2,618.1 L796.5,622.5 L796.9,634.5 L797.3,627.8 L797.6,633.7 L798.0,647.2 L798.3,618.0 L798.7,617.1 L799.1,637.4 L799.4,655.3 L799.8,664.4 L800.1,650.6 L800.5,618.6 L800.9,623.4 L801.2,643.5 L801.6,622.8 L801.9,621.1 L802.3,649.9 L802.7,619.9 L803.0,641.2 L803.4,658.7 L803.7,622.6 L804.1,666.5 L804.5,639.5 L804.8,623.9 L805.2,627.9 L805.5,628.4 L805.9,665.8 L806.3,667.3 L806.6,648.2 L807.0,634.6 L807.3,659.0 L807.7,645.9 L808.1,643.3 L808.4,654.9 L808.8,657.3 L809.1,663.2 L809.5,653.3 L809.9,632.6 L810.2,671.3 L810.6,626.7 L810.9,674.3 L811.3,635.9 L811.7,661.0 L812.0,671.9 L812.4,665.9 L812.7,643.1 L813.1,626.3 L813.5,672.7 L813.8,635.0 L814.2,670.3 L814.5,623.2 L814.9,659.4 L815.3,664.3 L815.6,630.9 L816.0,675.9 L816.3,671.1 L816.7,631.4 L817.1,623.3 L817.4,660.6 L817.8,627.9 L818.1,642.8 L818.5,638.5 L818.9,638.6 L819.2,634.4 L819.6,646.9 L819.9,631.5 L820.3,672.6 L820.7,630.1 L821.0,632.1 L821.4,635.0 L821.7,658.3 L822.1,649.7 L822.5,630.7 L822.8,678.4 L823.2,671.1 L823.5,678.4 L823.9,672.1 L824.3,642.2 L824.6,627.3 L825.0,655.8 L825.3,679.7 L825.7,677.8 L826.1,642.2 L826.4,651.1 L826.8,646.7 L827.1,634.6 L827.5,679.9 L827.9,647.2 L828.2,636.3 L828.6,634.0 L828.9,669.5 L829.3,681.1 L829.7,675.6 L830.0,642.4 L830.4,652.6 L830.7,683.7 L831.1,643.9 L831.5,665.0 L831.8,656.7 L832.2,639.9 L832.5,677.2 L832.9,679.6 L833.3,665.5 L833.6,638.1 L834.0,638.5 L834.3,641.8 L834.7,648.1 L835.1,676.7 L835.4,649.3 L835.8,670.8 L836.1,687.3 L836.5,650.2 L836.9,681.8 L837.2,675.8 L837.6,651.9 L837.9,678.0 L838.3,660.7 L838.7,677.8 L839.0,680.1 L839.4,691.1 L839.7,662.2 L840.1,654.9 L840.5,694.0 L840.8,680.6 L841.2,657.8 L841.5,694.3 L841.9,685.6 L842.3,665.5 L842.6,654.9 L843.0,664.7 L843.3,641.0 L843.7,696.3 L844.1,644.4 L844.4,666.2 L844.8,662.1 L845.1,687.1 L845.5,684.4 L845.9,675.9 L846.2,703.7 L846.6,664.5 L846.9,643.9 L847.3,669.8 L847.7,648.6 L848.0,684.7 L848.4,648.7 L848.7,647.9 L849.1,677.3 L849.5,705.3 L849.8,697.5 L850.2,706.4 L850.5,666.4 L850.9,708.2 L851.3,653.9 L851.6,673.8 L852.0,687.1 L852.3,687.1 L852.7,652.2 L853.1,705.9 L853.4,663.5 L853.8,654.0 L854.1,693.4 L854.5,685.3 L854.9,681.0 L855.2,689.7 L855.6,711.0 L855.9,696.8 L856.3,684.6 L856.7,661.1 L857.0,706.1 L857.4,662.2 L857.7,693.8 L858.1,675.9 L858.5,697.1 L858.8,674.3 L859.2,699.6 L859.5,677.2 L859.9,714.2 L860.3,714.2 L860.6,715.1 L861.0,678.9 L861.3,700.8 L861.7,654.3 L862.1,691.9 L862.4,708.9 L862.8,672.2 L863.1,679.9 L863.5,680.7 L863.9,689.7 L864.2,714.8 L864.6,708.1 L864.9,656.2 L865.3,676.7 L865.7,665.0 L866.0,672.1 L866.4,654.8 L866.7,694.6 L867.1,718.7 L867.5,662.2 L867.8,683.4 L868.2,737.1 L868.5,705.2 L868.9,713.7 L869.3,686.5 L869.6,693.1 L870.0,701.8 L870.3,673.5 L870.7,656.0 L871.1,679.4 L871.4,710.5 L871.8,689.8 L872.1,664.5 L872.5,682.2 L872.9,670.0 L873.2,708.9 L873.6,675.1 L873.9,650.5 L874.3,647.8 L874.7,705.3 L875.0,646.4 L875.4,688.4 L875.7,703.8 L876.1,684.0 L876.5,716.5 L876.8,681.5 L877.2,669.7 L877.5,666.8 L877.9,702.1 L878.3,686.4 L878.6,659.5 L879.0,699.8 L879.3,708.4 L879.7,699.8 L880.1,725.1 L880.4,664.4 L880.8,721.1 L881.1,666.8 L881.5,717.5 L881.9,704.9 L882.2,718.7 L882.6,699.9 L882.9,663.4" fill="none" stroke="#a2a3a6" stroke-width="1.7" stroke-linejoin="round"/>
<path d="M107.0,526.0 C108.3,526.5 111.7,527.6 115.0,529.0 C118.3,530.4 122.8,535.1 127.0,534.4 C131.2,533.6 135.8,527.9 140.0,524.5 C144.2,521.1 148.2,513.8 152.0,513.8 C155.8,513.8 159.2,523.8 163.0,524.5 C166.8,525.2 171.3,519.6 175.0,517.8 C178.7,516.0 181.3,515.3 185.0,513.8 C188.7,512.3 192.8,508.6 197.0,509.0 C201.2,509.4 207.0,514.5 210.0,516.0 C213.0,517.5 212.5,519.7 215.0,517.8 C217.5,515.9 221.2,510.0 225.0,504.5 C228.8,499.0 234.2,487.5 238.0,484.6 C241.8,481.7 244.7,484.9 248.0,487.0 C251.3,489.1 254.8,493.3 258.0,496.9 C261.2,500.5 263.7,507.2 267.0,508.5 C270.3,509.8 274.5,504.8 278.0,504.5 C281.5,504.2 284.3,508.0 288.0,506.7 C291.7,505.4 296.0,497.6 300.0,496.9 C304.0,496.2 307.8,499.8 312.0,502.4 C316.2,504.9 321.7,509.8 325.0,512.2 C328.3,514.6 329.8,515.5 332.0,516.8 C334.2,518.1 335.7,517.2 338.0,520.0 C340.3,522.8 343.7,529.1 346.0,533.7 C348.3,538.3 349.7,545.0 352.0,547.6 C354.3,550.2 357.0,547.1 360.0,549.1 C363.0,551.1 366.7,556.3 370.0,559.9 C373.3,563.5 376.7,568.8 380.0,570.6 C383.3,572.4 386.7,571.0 390.0,570.6 C393.3,570.2 396.8,569.5 400.0,568.2 C403.2,566.9 405.0,562.5 409.0,562.7 C413.0,563.0 419.5,568.8 424.0,569.7 C428.5,570.6 431.7,567.7 436.0,568.0 C440.3,568.3 444.8,572.6 450.0,571.6 C455.2,570.6 461.7,562.3 467.0,562.0 C472.3,561.7 477.8,568.2 482.0,569.7 C486.2,571.2 487.7,569.2 492.0,570.7 C496.3,572.2 502.7,576.1 508.0,578.6 C513.3,581.1 518.0,583.1 524.0,585.6 C530.0,588.1 538.8,592.4 544.0,593.5 C549.2,594.6 550.7,592.8 555.0,592.0 C559.3,591.2 565.8,588.8 570.0,588.8 C574.2,588.8 575.0,593.7 580.0,592.0 C585.0,590.3 594.7,580.0 600.0,578.6 C605.3,577.2 606.7,581.0 612.0,583.4 C617.3,585.8 627.3,591.7 632.0,593.0 C636.7,594.3 637.7,591.5 640.0,591.0 C642.3,590.5 642.3,588.7 646.0,590.0 C649.7,591.3 656.3,598.8 662.0,598.6 C667.7,598.4 674.0,589.6 680.0,589.0 C686.0,588.4 692.0,594.3 698.0,594.8 C704.0,595.2 711.5,591.9 716.0,591.7 C720.5,591.5 721.8,592.2 725.0,593.5 C728.2,594.8 731.7,599.1 735.0,599.4 C738.3,599.7 742.2,594.8 745.0,595.3 C747.8,595.8 749.2,599.4 752.0,602.5 C754.8,605.6 759.0,611.7 762.0,614.0 C765.0,616.3 765.7,612.7 770.0,616.5 C774.3,620.3 783.3,632.9 788.0,637.0 C792.7,641.1 794.3,638.8 798.0,640.9 C801.7,643.0 805.5,648.4 810.0,649.8 C814.5,651.1 819.5,645.8 825.0,649.0 C830.5,652.2 837.2,662.5 843.0,669.0 C848.8,675.5 855.2,685.5 860.0,688.3 C864.8,691.1 868.2,685.1 872.0,685.7 C875.8,686.3 881.2,691.0 883.0,692.0" fill="none" stroke="#3d4fa9" stroke-width="3.6" stroke-linejoin="round"/>
<path d="M406.0,728.6 L406.0,728.6 L408.0,703.0 L408.6,704.9 L411.2,707.3 L413.8,708.1 L416.0,710.7 L416.4,710.7 L419.0,712.3 L421.6,715.3 L422.0,715.0 L424.2,712.5 L426.8,710.3 L429.4,704.8 L430.0,706.0 L432.0,712.8 L434.6,717.9 L437.2,725.4 L439.8,731.3 L440.0,732.0 L442.4,723.3 L445.0,715.1 L447.0,707.7 L447.6,708.0 L450.2,704.8 L452.8,702.7 L455.0,701.0 L455.4,702.6 L458.0,706.7 L460.6,711.8 L463.2,719.4 L465.0,723.0 L465.8,722.1 L468.4,720.1 L471.0,720.4 L473.6,720.0 L475.0,720.0 L476.2,718.1 L478.8,716.2 L481.4,716.2 L484.0,715.5 L485.0,714.0 L486.6,714.7 L489.2,715.8 L490.0,717.0 L491.8,728.9 L494.4,745.9 L495.0,749.0 L497.0,747.9 L499.6,747.8 L502.2,747.3 L503.0,746.0 L504.8,736.4 L507.4,722.3 L508.0,720.0 L510.0,719.1 L512.6,717.5 L513.0,717.0 L515.2,723.8 L517.8,728.1 L520.0,735.0 L520.4,735.9 L523.0,746.2 L525.6,755.7 L528.2,767.9 L530.0,775.0 L530.8,774.3 L533.4,769.2 L536.0,767.4 L538.6,762.9 L540.0,760.0 L541.2,758.7 L543.8,754.3 L545.0,752.0 L546.4,753.7 L549.0,752.7 L551.6,755.9 L554.2,757.2 L555.0,757.0 L556.8,759.0 L559.4,766.6 L562.0,771.4 L564.6,777.9 L565.0,778.0 L567.2,778.0 L569.8,778.9 L572.4,779.8 L575.0,779.1 L577.6,781.1 L580.0,781.0 L580.2,780.9 L582.8,781.9 L585.4,781.3 L588.0,783.3 L590.6,783.2 L593.0,783.0 L593.2,784.8 L595.0,803.0 L595.8,802.7 L598.4,800.2 L600.0,797.0 L601.0,801.0 L603.6,803.2 L606.0,810.0 L606.2,811.7 L608.8,821.7 L610.0,826.0 L611.4,826.7 L614.0,827.1 L616.6,830.8 L619.2,829.6 L621.8,832.9 L624.4,835.0 L625.0,834.0 L627.0,834.5 L629.6,838.5 L632.2,840.1 L634.8,844.4 L637.4,848.3 L640.0,849.5 L640.0,851.5 L642.6,850.8 L645.2,855.1 L647.8,859.5 L648.0,859.0 L650.4,861.3 L653.0,860.8 L655.0,861.0 L655.6,859.9 L658.2,859.5 L660.8,857.7 L662.0,857.0 L663.4,856.4 L666.0,855.2 L668.6,855.6 L671.2,854.8 L673.8,853.6 L675.0,853.4 L676.4,847.7 L679.0,836.5 L681.6,827.1 L682.0,826.0 L684.2,811.4 L685.0,804.5 L686.8,809.2 L689.4,814.9 L690.0,818.0 L692.0,816.3 L694.6,811.5 L695.0,810.4 L697.2,814.2 L699.8,814.2 L700.0,814.3 L702.4,811.0 L705.0,808.4 L705.0,807.0 L707.6,810.8 L710.0,810.4 L710.2,813.9 L712.8,822.8 L715.0,834.0 L715.4,833.6 L718.0,836.2 L720.6,836.2 L722.0,837.8 L723.2,838.7 L725.8,841.2 L728.4,844.2 L730.0,845.6 L731.0,848.6 L733.6,852.6 L736.2,858.5 L738.8,862.3 L740.0,865.0 L741.4,857.7 L744.0,841.1 L745.0,837.8 L746.6,836.7 L749.2,839.4 L751.8,838.5 L754.4,840.2 L755.0,839.7 L757.0,844.2 L759.6,850.0 L762.0,853.4 L762.2,854.4 L764.8,856.4 L767.4,857.1 L770.0,859.0 L770.0,858.3 L772.6,861.5 L775.2,865.0 L777.8,867.6 L778.0,869.0 L780.4,869.3 L783.0,870.6 L785.6,871.8 L788.2,872.1 L790.0,873.0 L790.8,870.8 L793.4,871.6 L796.0,870.8 L798.6,870.6 L800.0,869.0 L801.2,869.6 L803.8,868.4 L806.4,868.3 L809.0,871.0 L810.0,869.0 L811.6,870.4 L814.2,872.5 L816.8,873.8 L819.4,871.9 L820.0,873.0 L822.0,872.6 L824.6,871.6 L827.2,870.7 L829.8,869.6 L830.0,869.0 L832.4,871.6 L835.0,874.2 L837.6,875.1 L840.0,879.0 L840.2,879.2 L842.8,883.6 L845.0,888.6 L845.4,888.7 L848.0,888.1 L850.6,889.2 L853.2,889.4 L855.8,888.9 L858.4,888.9 L860.0,888.6 L861.0,886.0 L863.6,878.4 L865.0,875.0 L866.2,875.7 L868.8,877.4 L871.4,880.2 L873.0,881.0 L874.0,882.5 L876.6,887.1 L878.0,888.6 L879.2,886.8 L881.8,888.0 L883.0,886.7" fill="none" stroke="#9bbb59" stroke-width="5.4" stroke-linejoin="round" stroke-linecap="round"/>
<path d="M406.0,760.5 L406.0,760.5 L408.6,756.0 L411.2,750.1 L412.0,747.6 L413.8,749.6 L416.4,752.4 L418.0,752.0 L419.0,752.4 L421.6,757.0 L424.2,760.4 L425.0,763.0 L426.8,764.5 L429.4,768.0 L432.0,769.3 L434.6,772.1 L435.0,772.0 L437.2,776.2 L439.8,785.6 L440.0,786.0 L442.4,779.3 L445.0,775.6 L447.0,769.0 L447.6,763.8 L450.0,738.4 L450.2,740.3 L452.8,751.3 L455.0,761.5 L455.4,762.2 L458.0,762.6 L460.6,762.0 L463.2,762.2 L465.0,763.0 L465.8,763.6 L468.4,765.5 L471.0,767.9 L473.6,770.7 L476.2,772.6 L478.0,775.0 L478.8,773.8 L481.4,765.1 L484.0,761.3 L485.0,758.0 L486.6,761.3 L489.2,767.7 L491.8,773.2 L492.0,775.0 L494.4,771.3 L497.0,767.3 L499.6,763.8 L502.0,760.0 L502.2,760.3 L504.8,771.5 L507.4,783.9 L508.0,784.5 L510.0,783.8 L512.6,781.4 L515.2,781.6 L517.8,779.1 L520.0,778.0 L520.4,777.5 L523.0,770.5 L525.0,764.5 L525.6,766.5 L528.2,775.4 L530.0,784.5 L530.8,784.9 L533.4,788.2 L536.0,789.6 L538.6,792.9 L540.0,793.7 L541.2,797.0 L543.8,800.4 L546.4,807.2 L548.0,809.0 L549.0,808.0 L551.6,800.7 L554.2,794.0 L555.0,790.7 L556.8,797.3 L559.4,806.3 L562.0,812.0 L562.0,812.2 L564.6,806.1 L567.2,800.7 L569.8,793.2 L570.0,793.7 L572.4,799.5 L575.0,809.0 L575.0,808.1 L577.6,809.9 L580.2,810.5 L582.8,809.0 L585.4,809.2 L588.0,811.3 L590.0,812.0 L590.6,811.4 L593.2,809.8 L595.8,808.7 L598.0,806.5 L598.4,809.1 L601.0,816.8 L603.6,825.9 L605.0,830.0 L606.2,829.4 L608.8,830.3 L611.4,832.8 L614.0,834.3 L615.0,834.0 L616.6,835.5 L619.2,836.7 L621.8,838.3 L624.4,839.6 L627.0,838.4 L629.6,840.8 L630.0,841.7 L632.2,843.3 L634.8,844.8 L637.4,844.0 L640.0,848.1 L642.6,847.8 L645.0,849.5 L645.2,849.7 L647.8,855.2 L650.4,860.8 L653.0,863.7 L655.0,869.0 L655.6,869.8 L658.2,868.1 L660.8,866.4 L663.4,866.1 L666.0,863.4 L668.0,865.0 L668.6,862.8 L671.2,856.9 L673.8,849.3 L676.4,843.0 L679.0,836.4 L680.0,834.0 L681.6,835.1 L684.2,837.7 L686.0,837.8 L686.8,840.0 L689.4,846.9 L692.0,854.8 L693.0,857.0 L694.6,859.6 L697.2,858.0 L699.8,859.7 L700.0,859.3 L702.4,853.0 L705.0,849.5 L705.0,850.8 L707.6,850.5 L710.2,851.5 L712.8,850.5 L715.4,849.8 L718.0,852.1 L720.0,851.5 L720.6,852.3 L723.2,850.6 L725.8,850.0 L728.4,851.9 L730.0,851.5 L731.0,852.8 L733.6,859.4 L736.2,860.0 L738.0,863.2 L738.8,862.2 L741.4,861.1 L744.0,858.0 L746.6,857.2 L748.0,857.3 L749.2,861.3 L751.8,864.7 L754.4,869.3 L757.0,873.8 L758.0,877.0 L759.6,876.6 L762.2,875.1 L764.8,873.2 L767.4,871.0 L768.0,871.0 L770.0,870.3 L772.6,869.1 L775.2,866.7 L777.8,866.7 L780.0,865.0 L780.4,862.1 L783.0,857.9 L785.6,853.9 L787.0,851.5 L788.2,851.9 L790.8,852.0 L793.4,854.7 L796.0,856.6 L798.6,857.1 L800.0,857.3 L801.2,857.9 L803.8,859.3 L806.4,859.7 L809.0,858.9 L811.6,860.7 L812.0,861.0 L814.2,863.3 L816.8,862.1 L819.4,864.5 L822.0,865.2 L824.6,865.9 L825.0,867.0 L827.2,864.7 L829.8,864.2 L832.4,862.9 L835.0,861.0 L835.0,861.3 L837.6,868.8 L840.2,879.2 L842.8,889.0 L845.0,896.5 L845.4,897.5 L848.0,897.7 L850.6,898.4 L853.2,899.2 L855.0,898.4 L855.8,900.3 L858.4,902.3 L861.0,906.9 L862.0,908.2 L863.6,907.5 L866.2,905.8 L868.0,908.2 L868.8,904.3 L871.4,901.0 L873.0,894.5 L874.0,893.8 L876.6,893.7 L879.2,896.3 L881.8,899.5 L883.0,898.4" fill="none" stroke="#8064a2" stroke-width="5.4" stroke-linejoin="round" stroke-linecap="round"/>
<path d="M370.8,798.0 L370.8,799.8 L373.4,799.9 L375.0,806.0 L376.0,806.5 L378.6,804.4 L381.2,804.5 L383.8,802.3 L385.0,801.4 L386.4,803.5 L389.0,802.3 L391.6,802.2 L394.2,803.9 L396.8,804.3 L399.4,804.0 L400.0,804.5 L402.0,803.5 L404.6,803.5 L407.2,802.5 L409.8,800.3 L412.0,800.0 L412.4,799.8 L415.0,799.2 L417.6,803.6 L420.2,802.6 L422.8,805.1 L425.0,804.5 L425.4,805.0 L428.0,807.4 L430.6,807.8 L433.2,807.4 L435.0,807.6 L435.8,809.8 L438.4,809.8 L441.0,814.4 L443.6,814.0 L445.0,816.8 L446.2,816.6 L448.8,816.0 L451.4,814.0 L454.0,812.1 L455.0,812.0 L456.6,810.7 L459.2,810.2 L461.8,810.7 L464.4,809.7 L467.0,807.7 L468.0,807.6 L469.6,807.3 L472.2,810.8 L474.8,810.3 L477.4,812.8 L478.0,813.7 L480.0,812.7 L482.6,813.8 L485.2,812.9 L487.8,812.8 L490.0,812.0 L490.4,813.3 L493.0,819.3 L495.6,827.4 L497.0,830.6 L498.2,829.7 L500.8,823.2 L503.4,818.8 L505.0,815.0 L506.0,814.8 L508.6,815.7 L511.2,815.0 L513.8,815.0 L516.4,814.2 L518.0,813.7 L519.0,816.9 L521.6,818.8 L524.2,822.9 L526.8,826.6 L528.0,829.0 L529.4,834.0 L532.0,841.4 L532.0,840.8 L534.6,836.7 L537.2,834.1 L539.8,830.5 L540.0,829.0 L542.4,832.9 L545.0,833.2 L547.6,838.5 L548.0,840.0 L550.2,839.2 L552.8,839.5 L555.4,840.6 L558.0,841.4 L558.0,843.2 L560.6,839.9 L563.2,838.3 L565.8,838.5 L568.0,836.8 L568.4,837.0 L571.0,837.9 L573.6,837.9 L576.2,839.4 L578.0,840.0 L578.8,842.0 L581.4,844.7 L584.0,850.1 L585.0,853.7 L586.6,855.3 L589.2,855.8 L591.8,855.3 L594.4,855.6 L595.0,856.8 L597.0,854.1 L599.6,849.9 L600.0,850.6 L602.2,851.7 L604.8,855.5 L607.4,855.7 L610.0,857.3 L610.0,858.5 L612.6,857.1 L615.2,857.7 L617.8,858.7 L620.4,856.0 L623.0,857.0 L625.0,857.3 L625.6,857.5 L628.2,859.2 L630.8,861.8 L633.4,862.3 L636.0,861.4 L638.6,864.0 L640.0,865.0 L641.2,867.1 L643.8,873.4 L646.4,882.8 L648.0,884.7 L649.0,883.9 L651.6,886.0 L654.2,885.8 L655.0,886.7 L656.8,894.5 L659.4,904.0 L660.0,906.0 L662.0,891.3 L664.6,871.9 L665.0,869.0 L667.2,871.0 L669.8,870.0 L672.4,871.2 L675.0,873.0 L675.0,871.9 L677.6,875.4 L680.2,874.8 L682.8,875.0 L685.4,876.7 L688.0,880.6 L690.0,878.9 L690.6,878.6 L693.2,878.5 L695.8,877.1 L698.4,875.6 L701.0,873.9 L703.6,873.2 L705.0,873.0 L706.2,872.9 L708.8,871.6 L711.4,876.9 L714.0,875.7 L715.0,875.0 L716.6,876.3 L719.2,877.9 L721.8,879.3 L724.4,883.0 L727.0,883.8 L728.0,884.7 L729.6,885.4 L732.2,884.0 L734.8,886.2 L737.4,888.3 L740.0,886.7 L740.0,886.4 L742.6,883.7 L745.2,879.1 L747.8,876.4 L748.0,875.0 L750.4,878.4 L753.0,879.9 L755.6,881.9 L758.2,885.2 L760.0,886.7 L760.8,887.1 L763.4,887.4 L766.0,889.5 L768.6,890.5 L770.0,890.6 L771.2,888.8 L773.8,887.7 L776.4,888.8 L778.0,884.7 L779.0,886.8 L781.6,889.5 L784.2,895.3 L786.8,895.8 L789.4,897.1 L790.0,900.4 L792.0,898.9 L794.6,899.8 L797.2,902.0 L799.8,903.2 L800.0,902.3 L802.4,901.1 L805.0,905.4 L807.6,904.0 L810.0,906.2 L810.2,906.6 L812.8,908.3 L815.4,909.8 L818.0,910.8 L820.0,912.0 L820.6,913.0 L823.2,915.3 L825.8,920.3 L828.4,924.6 L830.0,925.8 L831.0,927.5 L833.6,931.2 L836.2,931.7 L838.8,933.4 L840.0,933.6 L841.4,937.2 L844.0,939.3 L846.6,941.4 L849.2,944.0 L850.0,947.3 L851.8,950.6 L854.4,952.7 L857.0,955.0 L857.0,955.8 L859.6,952.2 L862.2,950.3 L864.8,949.4 L865.0,947.3 L867.4,947.1 L870.0,945.0 L872.6,945.1 L873.0,945.4 L875.2,947.4 L877.8,945.6 L880.0,947.3 L880.4,944.8 L883.0,948.0 L883.0,945.7" fill="none" stroke="#c0504d" stroke-width="5.4" stroke-linejoin="round" stroke-linecap="round"/>
<path d="M406.0,859.8 L406.0,860.2 L408.6,859.8 L411.2,860.0 L413.8,859.8 L416.4,862.0 L419.0,863.5 L420.0,863.0 L421.6,863.3 L424.2,863.9 L426.8,864.6 L429.4,863.9 L432.0,866.4 L434.6,864.7 L437.2,865.8 L439.8,867.6 L440.0,866.0 L442.4,865.3 L445.0,864.8 L447.6,863.7 L450.2,863.5 L452.8,861.4 L455.4,861.6 L458.0,862.3 L460.0,860.8 L460.6,861.1 L463.2,861.4 L465.8,862.3 L468.4,862.9 L470.0,863.0 L471.0,863.9 L473.6,866.1 L476.2,866.7 L478.8,870.0 L480.0,870.6 L481.4,870.3 L484.0,871.4 L486.6,871.2 L489.2,870.9 L491.8,871.7 L494.4,871.3 L495.0,872.0 L497.0,871.8 L499.6,870.1 L502.2,869.6 L504.8,867.4 L507.4,868.0 L510.0,866.0 L510.0,865.8 L512.6,869.3 L515.2,871.5 L517.8,872.8 L518.0,873.7 L520.4,873.7 L523.0,873.0 L525.6,873.4 L528.2,873.8 L530.8,873.1 L533.4,873.2 L536.0,871.6 L538.6,872.2 L540.0,872.0 L541.2,871.5 L543.8,870.4 L545.0,869.0 L546.4,869.5 L549.0,871.8 L551.6,873.3 L554.2,873.8 L555.0,875.2 L556.8,874.6 L559.4,875.5 L562.0,874.5 L564.6,874.5 L567.2,875.7 L569.8,875.4 L572.4,875.1 L575.0,875.3 L577.6,875.0 L580.0,875.2 L580.2,874.9 L582.8,875.2 L585.4,875.9 L588.0,876.7 L590.6,875.9 L593.2,876.3 L595.8,876.5 L598.4,876.1 L600.0,877.0 L601.0,877.3 L603.6,878.2 L606.2,877.7 L608.8,879.2 L611.4,878.8 L614.0,880.4 L616.6,880.9 L619.2,880.4 L620.0,880.8 L621.8,880.0 L624.4,881.4 L627.0,881.3 L629.6,881.9 L632.2,883.0 L634.8,884.5 L637.4,884.1 L640.0,884.7 L640.0,884.6 L642.6,884.6 L645.2,886.4 L647.8,886.9 L650.4,889.1 L653.0,889.5 L655.0,890.6 L655.6,890.5 L658.2,889.9 L660.8,889.3 L663.4,889.5 L665.0,888.6 L666.0,888.5 L668.6,887.0 L671.2,886.3 L673.8,885.5 L676.4,885.0 L679.0,883.3 L680.0,882.8 L681.6,884.1 L684.2,883.7 L686.8,884.6 L689.4,884.6 L692.0,886.8 L694.6,886.4 L697.2,887.2 L699.8,889.0 L700.0,888.6 L702.4,887.4 L705.0,886.2 L707.6,886.2 L710.2,884.5 L712.8,884.2 L715.0,882.8 L715.4,882.7 L718.0,884.4 L720.6,885.6 L723.2,886.0 L725.8,888.1 L728.4,887.7 L730.0,888.6 L731.0,888.9 L733.6,890.1 L736.2,891.6 L738.8,891.9 L741.4,892.8 L744.0,894.3 L745.0,894.5 L746.6,896.2 L749.2,896.7 L751.8,897.7 L754.4,900.0 L755.0,900.4 L757.0,900.0 L759.6,898.3 L762.2,897.7 L764.8,895.5 L765.0,896.5 L767.4,897.1 L770.0,897.9 L772.6,898.8 L775.2,899.3 L777.8,900.3 L780.0,900.4 L780.4,899.9 L783.0,901.6 L785.6,900.9 L788.2,902.2 L790.8,903.9 L793.4,904.4 L795.0,904.3 L796.0,903.8 L798.6,907.0 L801.2,908.1 L803.8,909.5 L806.4,911.8 L809.0,913.4 L810.0,914.0 L811.6,914.8 L814.2,913.1 L816.8,913.7 L819.4,913.9 L820.0,914.0 L822.0,911.9 L824.6,912.5 L827.2,911.6 L829.8,908.9 L832.0,908.2 L832.4,908.3 L835.0,907.3 L837.6,907.0 L840.0,906.2 L840.2,906.1 L842.8,910.6 L845.4,913.0 L848.0,918.1 L850.0,920.0 L850.6,920.9 L853.2,925.3 L855.8,926.0 L858.0,929.7 L858.4,929.2 L861.0,925.6 L863.6,923.4 L865.0,921.9 L866.2,924.2 L868.8,927.7 L871.4,931.7 L872.0,933.6 L874.0,930.6 L876.6,929.3 L878.0,927.8 L879.2,928.6 L881.8,928.5 L883.0,927.8" fill="none" stroke="#4a7ebb" stroke-width="5.4" stroke-linejoin="round" stroke-linecap="round"/>
<rect x="587" y="372" width="43" height="4" fill="#000"/>
<text x="579" y="365" font-size="22.5" fill="#000" textLength="60.5" lengthAdjust="spacingAndGlyphs">LMCIS</text>
<rect x="582" y="457.5" width="158" height="4.5" fill="#000"/>
<text x="632" y="486.5" font-size="22" fill="#000" textLength="56.5" lengthAdjust="spacingAndGlyphs">LMBB</text>
<rect x="608.6" y="716.3" width="57" height="4.2" fill="#000"/>
<text x="613.7" y="710.6" font-size="23" fill="#000" textLength="45" lengthAdjust="spacingAndGlyphs">LMC</text>
<text x="387" y="727.5" font-size="21.5" font-weight="bold" fill="#9bbb59" text-anchor="end" textLength="103" lengthAdjust="spacingAndGlyphs">NH - High</text>
<text x="394" y="765" font-size="21.5" font-weight="bold" fill="#8064a2" text-anchor="end" textLength="94" lengthAdjust="spacingAndGlyphs">SH - Mid</text>
<text x="350.7" y="804.5" font-size="21.5" font-weight="bold" fill="#c0504d" text-anchor="end" textLength="98" lengthAdjust="spacingAndGlyphs">NH - Mid</text>
<text x="387" y="863" font-size="21.5" font-weight="bold" fill="#4a7ebb" text-anchor="end" textLength="77" lengthAdjust="spacingAndGlyphs">Tropics</text>
<text x="117.2" y="36.3" font-size="27" font-weight="bold" fill="#231f20">A</text>
<text x="118.2" y="313.8" font-size="27" font-weight="bold" fill="#231f20">B</text>
<text x="113" y="458" font-size="27" font-weight="bold" fill="#231f20">C</text>
<text x="111" y="650" font-size="27" font-weight="bold" fill="#231f20">D</text>
<g fill="#000">
<rect x="101.2" y="0" width="5.6" height="995"/>
<rect x="101.2" y="0" width="789" height="5.5"/>
<rect x="883" y="0" width="7" height="995"/>
<rect x="101.2" y="991" width="789" height="4"/>
</g>
<rect x="103.6" y="997" width="782.6" height="31.4" fill="none" stroke="#231f20" stroke-width="4.4"/>
<rect x="665" y="999" width="2" height="26.5" fill="#231f20"/>
<rect x="777.6" y="999" width="2" height="26.5" fill="#231f20"/>
<text x="297.2" y="1020.8" font-size="25" fill="#231f20" textLength="104.7" lengthAdjust="spacingAndGlyphs">MIOCENE</text>
<text x="697.5" y="1020.5" font-size="25" fill="#231f20" textLength="50.2" lengthAdjust="spacingAndGlyphs">PLIO</text>
<text x="799.3" y="1020.5" font-size="25" fill="#231f20" textLength="71.7" lengthAdjust="spacingAndGlyphs">PLEIST</text>
<g fill="#000">
<rect x="101.3" y="1030" width="4.4" height="11"/>
<rect x="137.9" y="1030" width="4.4" height="11"/>
<rect x="176.8" y="1030" width="4.4" height="11"/>
<rect x="214.9" y="1030" width="4.4" height="11"/>
<rect x="255.5" y="1030" width="4.4" height="11"/>
<rect x="293.8" y="1030" width="4.4" height="11"/>
<rect x="329.7" y="1030" width="4.4" height="11"/>
<rect x="371.5" y="1030" width="4.4" height="11"/>
<rect x="408.4" y="1030" width="4.4" height="11"/>
<rect x="449.4" y="1030" width="4.4" height="11"/>
<rect x="486.3" y="1030" width="4.4" height="11"/>
<rect x="521.8" y="1030" width="4.4" height="11"/>
<rect x="562.8" y="1030" width="4.4" height="11"/>
<rect x="600.8" y="1030" width="4.4" height="11"/>
<rect x="642.2" y="1030" width="4.4" height="11"/>
<rect x="683.8" y="1030" width="4.4" height="11"/>
<rect x="720.5" y="1030" width="4.4" height="11"/>
<rect x="762.7" y="1030" width="4.4" height="11"/>
<rect x="798.5" y="1030" width="4.4" height="11"/>
<rect x="841.0" y="1030" width="4.4" height="11"/>
<rect x="881.3" y="1030" width="4.4" height="11"/>
</g>
<text x="103.5" y="1068.6" font-size="27" font-weight="bold" fill="#231f20" text-anchor="middle">20</text>
<text x="296" y="1068.6" font-size="27" font-weight="bold" fill="#231f20" text-anchor="middle">15</text>
<text x="490" y="1068.6" font-size="27" font-weight="bold" fill="#231f20" text-anchor="middle">10</text>
<text x="686" y="1068.6" font-size="27" font-weight="bold" fill="#231f20" text-anchor="middle">5</text>
<text x="883.5" y="1068.6" font-size="27" font-weight="bold" fill="#231f20" text-anchor="middle">0</text>
<text x="435.8" y="1116" font-size="37" font-weight="bold" fill="#231f20" textLength="159" lengthAdjust="spacingAndGlyphs">Age (Ma)</text>
<g fill="#000">
<rect x="95" y="24.2" width="7" height="4"/>
<rect x="98" y="95.6" width="4" height="4"/>
<rect x="95" y="261.4" width="7" height="4"/>
<rect x="98" y="35.1" width="4" height="4"/>
<rect x="98" y="47.2" width="4" height="4"/>
<rect x="98" y="60.9" width="4" height="4"/>
<rect x="98" y="76.8" width="4" height="4"/>
<rect x="98" y="118.6" width="4" height="4"/>
<rect x="98" y="148.2" width="4" height="4"/>
<rect x="98" y="190.0" width="4" height="4"/>
<rect x="98" y="272.3" width="4" height="4"/>
<rect x="98" y="284.4" width="4" height="4"/>
</g>
<text x="89.8" y="31.1" font-size="24.5" fill="#000" text-anchor="end">1000</text>
<text x="86.9" y="103.9" font-size="24.5" fill="#000" text-anchor="end">500</text>
<text x="84" y="269.8" font-size="24.5" fill="#000" text-anchor="end">100</text>
<g transform="translate(22.8,213.2) rotate(-90)" font-weight="bold" fill="#58595b">
<text x="0" y="0" font-size="30" textLength="35" lengthAdjust="spacingAndGlyphs">CO</text>
<text x="37.8" y="10.7" font-size="17" textLength="7.5" lengthAdjust="spacingAndGlyphs">2</text>
<text x="55.6" y="0" font-size="30" textLength="75.6" lengthAdjust="spacingAndGlyphs">(ppm)</text>
</g>
<g fill="#000">
<rect x="96.5" y="338.5" width="5" height="3"/>
<rect x="96.5" y="380.1" width="5" height="3"/>
<rect x="96.5" y="421.7" width="5" height="3"/>
<rect x="96.5" y="462.8" width="5" height="3"/>
<rect x="96.5" y="503.9" width="5" height="3"/>
<rect x="96.5" y="545.8" width="5" height="3"/>
<rect x="96.5" y="586.6" width="5" height="3"/>
</g>
<text x="90.6" y="349.6" font-size="25" fill="#ed1c24" text-anchor="end">1.5</text>
<text x="92.7" y="432.8" font-size="25" fill="#ed1c24" text-anchor="end">0.0</text>
<text x="90.7" y="515.0" font-size="25" fill="#ed1c24" text-anchor="end">-1.5</text>
<text x="89.3" y="597.7" font-size="25" fill="#ed1c24" text-anchor="end">-3.0</text>
<g transform="translate(24.5,591.2) rotate(-90)" font-weight="bold" fill="#ed1c24">
<text x="0" y="0" font-family="Liberation Serif, serif" font-weight="normal" font-size="31" textLength="12.9" lengthAdjust="spacingAndGlyphs">δ</text>
<text x="14.2" y="-10.3" font-size="16.5" textLength="20.6" lengthAdjust="spacingAndGlyphs">13</text>
<text x="33.5" y="0" font-size="29" textLength="14.2" lengthAdjust="spacingAndGlyphs">C</text>
<text x="47.9" y="11.5" font-size="16" textLength="74.6" lengthAdjust="spacingAndGlyphs">carbonate</text>
<text x="132.9" y="0" font-size="29" textLength="139.3" lengthAdjust="spacingAndGlyphs">(VPDB, ‰)</text>
</g>
<g fill="#000">
<rect x="889" y="420.3" width="8" height="3"/>
<rect x="889" y="435.9" width="4" height="2.4"/>
<rect x="889" y="451.2" width="4" height="2.4"/>
<rect x="889" y="466.5" width="4" height="2.4"/>
<rect x="889" y="481.8" width="4" height="2.4"/>
<rect x="889" y="496.8" width="8" height="3"/>
<rect x="889" y="512.4" width="4" height="2.4"/>
<rect x="889" y="527.7" width="4" height="2.4"/>
<rect x="889" y="543.0" width="4" height="2.4"/>
<rect x="889" y="558.3" width="4" height="2.4"/>
<rect x="889" y="573.3" width="8" height="3"/>
<rect x="889" y="588.9" width="4" height="2.4"/>
<rect x="889" y="604.2" width="4" height="2.4"/>
<rect x="889" y="619.5" width="4" height="2.4"/>
<rect x="889" y="634.8" width="4" height="2.4"/>
<rect x="889" y="649.8" width="8" height="3"/>
<rect x="889" y="665.4" width="4" height="2.4"/>
<rect x="889" y="680.7" width="4" height="2.4"/>
<rect x="889" y="696.0" width="4" height="2.4"/>
<rect x="889" y="711.3" width="4" height="2.4"/>
<rect x="889" y="726.3" width="8" height="3"/>
<rect x="889" y="741.9" width="4" height="2.4"/>
<rect x="889" y="757.2" width="4" height="2.4"/>
<rect x="889" y="772.5" width="4" height="2.4"/>
<rect x="889" y="787.8" width="4" height="2.4"/>
<rect x="889" y="802.8" width="8" height="3"/>
<rect x="889" y="818.4" width="4" height="2.4"/>
<rect x="889" y="833.7" width="4" height="2.4"/>
<rect x="889" y="849.0" width="4" height="2.4"/>
<rect x="889" y="864.3" width="4" height="2.4"/>
<rect x="889" y="879.3" width="8" height="3"/>
</g>
<text x="900" y="505.5" font-size="25" fill="#2e3192" textLength="32" lengthAdjust="spacingAndGlyphs">2.0</text>
<text x="900" y="658.0" font-size="25" fill="#2e3192" textLength="32" lengthAdjust="spacingAndGlyphs">4.0</text>
<text x="900" y="812.5" font-size="25" fill="#2e3192" textLength="32" lengthAdjust="spacingAndGlyphs">6.0</text>
<g transform="translate(964.5,783.9) rotate(-90)" font-weight="bold" fill="#3c46a0">
<text x="0" y="0" font-family="Liberation Serif, serif" font-weight="normal" font-size="31" textLength="12.1" lengthAdjust="spacingAndGlyphs">δ</text>
<text x="12.1" y="-10.3" font-size="16.5" textLength="20.7" lengthAdjust="spacingAndGlyphs">18</text>
<text x="32.1" y="0" font-size="29" textLength="20.6" lengthAdjust="spacingAndGlyphs">O</text>
<text x="55.6" y="10.5" font-size="16" textLength="75.5" lengthAdjust="spacingAndGlyphs">carbonate</text>
<text x="141.9" y="0" font-size="29" textLength="136.2" lengthAdjust="spacingAndGlyphs">(VPDB, ‰)</text>
</g>
<g fill="#000">
<rect x="98.5" y="983.5" width="3.5" height="2.4"/>
<rect x="98.5" y="969.9" width="3.5" height="2.4"/>
<rect x="98.5" y="956.3" width="3.5" height="2.4"/>
<rect x="98.5" y="942.7" width="3.5" height="2.4"/>
<rect x="98.5" y="929.1" width="3.5" height="2.4"/>
<rect x="96" y="915.1" width="6" height="3.2"/>
<rect x="98.5" y="901.9" width="3.5" height="2.4"/>
<rect x="98.5" y="888.3" width="3.5" height="2.4"/>
<rect x="98.5" y="874.7" width="3.5" height="2.4"/>
<rect x="98.5" y="861.1" width="3.5" height="2.4"/>
<rect x="98.5" y="847.5" width="3.5" height="2.4"/>
<rect x="98.5" y="833.8" width="3.5" height="2.4"/>
<rect x="98.5" y="820.2" width="3.5" height="2.4"/>
<rect x="98.5" y="806.6" width="3.5" height="2.4"/>
<rect x="98.5" y="793.0" width="3.5" height="2.4"/>
<rect x="96" y="779.0" width="6" height="3.2"/>
<rect x="98.5" y="765.8" width="3.5" height="2.4"/>
<rect x="98.5" y="752.2" width="3.5" height="2.4"/>
<rect x="98.5" y="738.6" width="3.5" height="2.4"/>
<rect x="98.5" y="725.0" width="3.5" height="2.4"/>
<rect x="98.5" y="711.3" width="3.5" height="2.4"/>
<rect x="98.5" y="697.7" width="3.5" height="2.4"/>
<rect x="98.5" y="684.1" width="3.5" height="2.4"/>
<rect x="98.5" y="670.5" width="3.5" height="2.4"/>
<rect x="98.5" y="656.9" width="3.5" height="2.4"/>
<rect x="96" y="642.9" width="6" height="3.2"/>
</g>
<text x="90.2" y="652.1" font-size="24.5" fill="#231f20" text-anchor="end">20</text>
<text x="87.8" y="788.4" font-size="24.5" fill="#231f20" text-anchor="end">10</text>
<text x="83.1" y="924.3" font-size="24.5" fill="#231f20" text-anchor="end">0</text>
<text transform="translate(44.9,831.1) rotate(-90)" font-size="28.5" font-weight="bold" fill="#231f20" textLength="97.2" lengthAdjust="spacingAndGlyphs">SST (°C)</text>
</svg></body></html>
